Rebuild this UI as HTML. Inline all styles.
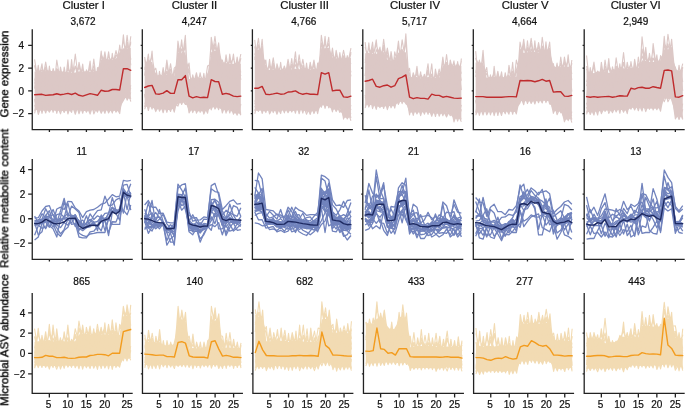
<!DOCTYPE html>
<html><head><meta charset="utf-8"><style>
html,body{margin:0;padding:0;background:#fff;}
body{width:685px;height:408px;overflow:hidden;}
svg{display:block;}
text{will-change:transform;}
</style></head><body>
<svg width="685" height="408" viewBox="0 0 685 408">
<path d="M34.6 71.48 L38.3 72.07 L42 71.86 L45.7 71 L49.4 70.97 L53.1 71.03 L56.8 71.66 L60.5 71.12 L64.2 72.03 L67.9 71.94 L71.6 72.66 L75.3 72.45 L79 71.16 L82.7 71.46 L86.4 71.23 L90.1 72.05 L93.8 71.89 L97.5 71.01 L101.2 59.62 L104.9 58.97 L108.6 59.22 L112.3 59.83 L116 58.84 L119.7 52.35 L123.4 48.21 L127.1 48.66 L130.8 47.65 L130.8 99.16 L127.1 98.01 L123.4 98.32 L119.7 111.38 L116 110.83 L112.3 111.06 L108.6 110.34 L104.9 110.85 L101.2 110.57 L97.5 110.17 L93.8 109.91 L90.1 110.47 L86.4 110.85 L82.7 111.27 L79 110.01 L75.3 110.32 L71.6 109.88 L67.9 110.51 L64.2 111.51 L60.5 110.2 L56.8 111.29 L53.1 109.96 L49.4 110.58 L45.7 110.71 L42 110.46 L38.3 109.93 L34.6 110.07 Z" fill="#dcc8c6"/>
<path d="M34.6 59.3 L38.3 82.54 M34.6 66.39 L38.3 75.01 M34.6 65.19 L38.3 84.44 M34.6 113.43 L38.3 98.25 M34.6 111.13 L38.3 100.05 M34.6 111.69 L38.3 101.2 M34.6 88.62 L38.3 65.2 L42 96.3 M34.6 80.66 L38.3 67.28 L42 83.13 M34.6 83.62 L38.3 70.34 L42 82.91 M34.6 98.78 L38.3 114.48 L42 104.15 M34.6 100.31 L38.3 111.27 L42 106.77 M34.6 105.32 L38.3 111.42 L42 105.83 M38.3 80.68 L42 63.7 L45.7 94.86 M38.3 77.72 L42 69.78 L45.7 79.58 M38.3 75.55 L42 66.59 L45.7 80.34 M38.3 98.17 L42 113.37 L45.7 98.81 M38.3 104.22 L42 112.23 L45.7 102.85 M38.3 98.16 L42 111.22 L45.7 97.42 M42 82.52 L45.7 62 L49.4 83.02 M42 77.53 L45.7 68.86 L49.4 80.8 M42 77.92 L45.7 67 L49.4 74.55 M42 103.31 L45.7 113.05 L49.4 101.34 M42 100.1 L45.7 112.41 L49.4 101.85 M42 100.24 L45.7 111.74 L49.4 106.46 M45.7 97.49 L49.4 66 L53.1 95.1 M45.7 84.87 L49.4 68.03 L53.1 79.6 M45.7 75.85 L49.4 69.47 L53.1 82.75 M45.7 106.33 L49.4 112.16 L53.1 104.91 M45.7 103.6 L49.4 110.82 L53.1 106.47 M45.7 105.49 L49.4 110.5 L53.1 105.99 M49.4 86.77 L53.1 68.5 L56.8 80.01 M49.4 82.48 L53.1 69.61 L56.8 76.43 M49.4 79.02 L53.1 70.63 L56.8 79.23 M49.4 98.51 L53.1 112.31 L56.8 97.07 M49.4 102.16 L53.1 111.43 L56.8 106.14 M49.4 103.57 L53.1 110.7 L56.8 104.35 M53.1 96.08 L56.8 60 L60.5 82.73 M53.1 86.86 L56.8 69.63 L60.5 81.37 M53.1 81.56 L56.8 68.85 L60.5 74.85 M53.1 97.21 L56.8 113.32 L60.5 98.37 M53.1 104.39 L56.8 111.89 L60.5 103.33 M53.1 99.28 L56.8 110.83 L60.5 101.67 M56.8 95.08 L60.5 67 L64.2 86.09 M56.8 85.05 L60.5 70.27 L64.2 87.3 M56.8 84.98 L60.5 68.71 L64.2 85.14 M56.8 104.73 L60.5 113.85 L64.2 101.82 M56.8 106.71 L60.5 111.21 L64.2 106.72 M56.8 104.41 L60.5 111.06 L64.2 100.07 M60.5 98.63 L64.2 67 L67.9 88.44 M60.5 87.34 L64.2 68.51 L67.9 86.92 M60.5 77.37 L64.2 69.92 L67.9 77.45 M60.5 104.96 L64.2 112.49 L67.9 100.76 M60.5 98.6 L64.2 112.3 L67.9 102.21 M60.5 99 L64.2 111.81 L67.9 106.15 M64.2 92.71 L67.9 59.7 L71.6 97.7 M64.2 84.25 L67.9 64.65 L71.6 80.71 M64.2 84.76 L67.9 68.57 L71.6 78.82 M64.2 97.28 L67.9 114 L71.6 103.04 M64.2 97.53 L67.9 111.3 L71.6 99.75 M64.2 105.73 L67.9 110.84 L71.6 105.49 M67.9 97.6 L71.6 59.6 L75.3 95.63 M67.9 85.24 L71.6 68.76 L75.3 87.24 M67.9 79.06 L71.6 65.41 L75.3 81.63 M67.9 106.86 L71.6 112.33 L75.3 97.29 M67.9 101.73 L71.6 111.8 L75.3 97.66 M67.9 98.28 L71.6 111.37 L75.3 98.74 M71.6 83.72 L75.3 54 L79 84.54 M71.6 77.63 L75.3 66.06 L79 82.12 M71.6 79.95 L75.3 66.38 L79 76.2 M71.6 103.46 L75.3 114.28 L79 102.42 M71.6 97.96 L75.3 111.67 L79 102.79 M71.6 101.98 L75.3 112.34 L79 101.68 M75.3 89.97 L79 62.2 L82.7 79.87 M75.3 76.88 L79 67.85 L82.7 74.55 M75.3 76.74 L79 66.02 L82.7 80.66 M75.3 101.44 L79 113.81 L82.7 103.74 M75.3 101.45 L79 111.54 L82.7 99.16 M75.3 101.4 L79 110.71 L82.7 104.52 M79 85.04 L82.7 64 L86.4 94.95 M79 81.8 L82.7 68.28 L86.4 84.38 M79 80.26 L82.7 66.61 L86.4 82.46 M79 101.88 L82.7 113.26 L86.4 100.07 M79 101.67 L82.7 111.4 L86.4 102.22 M79 100.01 L82.7 112.38 L86.4 98.23 M82.7 98.34 L86.4 69.7 L90.1 84.69 M82.7 86.76 L86.4 70.58 L90.1 85.42 M82.7 76.08 L86.4 71.05 L90.1 80.25 M82.7 104.59 L86.4 112.18 L90.1 106.27 M82.7 99.16 L86.4 111.84 L90.1 98.03 M82.7 99.84 L86.4 110.81 L90.1 100.4 M86.4 82.36 L90.1 61 L93.8 97.16 M86.4 77.35 L90.1 64.34 L93.8 86.88 M86.4 80.83 L90.1 67.63 L93.8 87.37 M86.4 105.39 L90.1 114.08 L93.8 102.68 M86.4 103.61 L90.1 111.53 L93.8 105.04 M86.4 99.78 L90.1 111.14 L93.8 106.81 M90.1 90.58 L93.8 59 L97.5 88.31 M90.1 78.81 L93.8 69.5 L97.5 82.61 M90.1 75.34 L93.8 66.1 L97.5 87.31 M90.1 97.28 L93.8 113.97 L97.5 105.95 M90.1 106.6 L93.8 111.03 L97.5 99.21 M90.1 105.7 L93.8 111.04 L97.5 102.78 M93.8 97.73 L97.5 67.5 L101.2 83.38 M93.8 76.44 L97.5 70.33 L101.2 73.95 M93.8 83.61 L97.5 69.64 L101.2 63.16 M93.8 100.12 L97.5 112.14 L101.2 102.75 M93.8 97.62 L97.5 110.64 L101.2 100.66 M93.8 106.16 L97.5 112.1 L101.2 98.44 M97.5 80.83 L101.2 51 L104.9 84.26 M97.5 78.91 L101.2 55.8 L104.9 69.19 M97.5 77.98 L101.2 53.72 L104.9 63.68 M97.5 104.62 L101.2 113.32 L104.9 105.91 M97.5 106.5 L101.2 110.82 L104.9 104.98 M97.5 103.95 L101.2 111.12 L104.9 99.41 M101.2 72.8 L104.9 51.8 L108.6 77 M101.2 66.51 L104.9 57.22 L108.6 62.24 M101.2 62.2 L104.9 56.93 L108.6 71.53 M101.2 105.11 L104.9 113.38 L108.6 102.25 M101.2 105.94 L104.9 112.37 L108.6 98.81 M101.2 102.05 L104.9 111.36 L108.6 98.65 M104.9 74.86 L108.6 51.8 L112.3 77.13 M104.9 74.77 L108.6 55.2 L112.3 66.46 M104.9 71.19 L108.6 54.62 L112.3 70.27 M104.9 103.52 L108.6 113.01 L112.3 106.46 M104.9 106.29 L108.6 110.76 L112.3 99.59 M104.9 105.37 L108.6 111.01 L112.3 106.16 M108.6 83.83 L112.3 53.3 L116 84.41 M108.6 65.67 L112.3 56.04 L116 65.15 M108.6 67.97 L112.3 57.23 L116 64.05 M108.6 104.37 L112.3 113.11 L116 97.38 M108.6 101.53 L112.3 112.45 L116 104.56 M108.6 103.9 L112.3 112.43 L116 103.43 M112.3 67.02 L116 50.6 L119.7 67.63 M112.3 68.54 L116 55.55 L119.7 57.61 M112.3 62.06 L116 55.41 L119.7 58.43 M112.3 103 L116 112.22 L119.7 106.58 M112.3 103.96 L116 110.54 L119.7 104.67 M112.3 101.71 L116 111.67 L119.7 99.49 M116 80.15 L119.7 45.1 L123.4 69.82 M116 67.06 L119.7 47.63 L123.4 54.74 M116 63.94 L119.7 47.23 L123.4 59.91 M116 106.56 L119.7 113.61 L123.4 86.65 M116 100.73 L119.7 112.28 L123.4 87.66 M116 105.61 L119.7 112.12 L123.4 89.76 M119.7 70.09 L123.4 34.7 L127.1 72.2 M119.7 65.74 L123.4 39.92 L127.1 58.09 M119.7 63.88 L123.4 39.29 L127.1 59.51 M119.7 106.69 L123.4 100.57 L127.1 93.67 M119.7 105.95 L123.4 99.22 L127.1 86.64 M119.7 100.72 L123.4 99.62 L127.1 88.74 M123.4 69.11 L127.1 35.4 L130.8 65.29 M123.4 60.87 L127.1 45.66 L130.8 60.23 M123.4 57.46 L127.1 42.34 L130.8 59.07 M123.4 87.63 L127.1 100.17 L130.8 92.48 M123.4 92.34 L127.1 98.65 L130.8 87.71 M123.4 87.6 L127.1 98.91 L130.8 85.24 M127.1 65.38 L130.8 36.2 M127.1 56.73 L130.8 43.43 M127.1 60.47 L130.8 41.56 M127.1 88.57 L130.8 101.54 M127.1 93.53 L130.8 98.65 M127.1 87.57 L130.8 99.01" fill="none" stroke="#dcc8c6" stroke-width="1.1" stroke-linejoin="round"/>
<path d="M34.6 94.7 L38.3 94.5 L42 94.3 L45.7 95.4 L49.4 95 L53.1 94.7 L56.8 93.7 L60.5 94.7 L64.2 94.1 L67.9 93.4 L71.6 94.5 L75.3 93.2 L79 95.3 L82.7 96.1 L86.4 94.8 L90.1 93.6 L93.8 94.4 L97.5 95.3 L101.2 90.2 L104.9 91.2 L108.6 91 L112.3 89.5 L116 89.5 L119.7 90 L123.4 68.7 L127.1 68.7 L130.8 70.3" fill="none" stroke="#bf2b2d" stroke-width="1.4" stroke-linejoin="round" stroke-linecap="round"/>
<path d="M144.65 61.95 L148.35 61.42 L152.05 61.88 L155.75 75.65 L159.45 74.92 L163.15 75.24 L166.85 74.61 L170.55 74.76 L174.25 76.09 L177.95 52.23 L181.65 53.14 L185.35 51.88 L189.05 79.1 L192.75 78.45 L196.45 78.34 L200.15 77.64 L203.85 78.32 L207.55 78.67 L211.25 52.02 L214.95 50.44 L218.65 51.29 L222.35 62.94 L226.05 63.02 L229.75 63.91 L233.45 63.75 L237.15 62.62 L240.85 63.68 L240.85 113.42 L237.15 113.47 L233.45 113.31 L229.75 109.8 L226.05 110.37 L222.35 110.05 L218.65 107.61 L214.95 106.81 L211.25 107.68 L207.55 110.22 L203.85 111.4 L200.15 111.28 L196.45 111.51 L192.75 110.06 L189.05 110.18 L185.35 102.18 L181.65 102.61 L177.95 103.28 L174.25 108.33 L170.55 110.06 L166.85 109.91 L163.15 109.14 L159.45 109.23 L155.75 109.52 L152.05 107.31 L148.35 106.21 L144.65 107.12 Z" fill="#dcc8c6"/>
<path d="M144.65 57 L148.35 75.8 M144.65 60.23 L148.35 70.11 M144.65 58.5 L148.35 72.66 M144.65 109.2 L148.35 99.02 M144.65 107.35 L148.35 102.82 M144.65 107 L148.35 94.95 M144.65 75.71 L148.35 54 L152.05 88.71 M144.65 68.45 L148.35 59.7 L152.05 71.64 M144.65 69.85 L148.35 59.96 L152.05 77.43 M144.65 95.18 L148.35 110.51 L152.05 96.99 M144.65 93.89 L148.35 108.63 L152.05 97.81 M144.65 102.81 L148.35 108.24 L152.05 95.98 M148.35 79.02 L152.05 51.1 L155.75 98.05 M148.35 68.72 L152.05 56.5 L155.75 78.64 M148.35 66.66 L152.05 54.81 L155.75 84.14 M148.35 100.32 L152.05 109.16 L155.75 98.11 M148.35 100.7 L152.05 108.75 L155.75 98.94 M148.35 97.73 L152.05 107.4 L155.75 101.56 M152.05 73.35 L155.75 68.2 L159.45 86.23 M152.05 76.78 L155.75 73.2 L159.45 84.46 M152.05 76.78 L155.75 73.16 L159.45 90.95 M152.05 101.9 L155.75 111.62 L159.45 103.58 M152.05 99.88 L155.75 109.18 L159.45 104.59 M152.05 100.72 L155.75 109.48 L159.45 99.8 M155.75 100.75 L159.45 71.2 L163.15 97.99 M155.75 83.38 L159.45 73.57 L163.15 84.81 M155.75 82.4 L159.45 73.64 L163.15 78.81 M155.75 95.82 L159.45 111.19 L163.15 104.24 M155.75 99.2 L159.45 110.01 L163.15 96.87 M155.75 102.79 L159.45 109.43 L163.15 103.02 M159.45 91 L163.15 67.5 L166.85 91.92 M159.45 89.03 L163.15 69.94 L166.85 89.35 M159.45 78.42 L163.15 73.79 L166.85 87.22 M159.45 100.77 L163.15 112.74 L166.85 99.63 M159.45 101.58 L163.15 109 L166.85 96.23 M159.45 96.95 L163.15 110.65 L166.85 95.78 M163.15 87.97 L166.85 60 L170.55 85.18 M163.15 84.79 L166.85 71.48 L170.55 86.87 M163.15 87.38 L166.85 64.98 L170.55 86.42 M163.15 100.93 L166.85 112.41 L170.55 99.98 M163.15 97.68 L166.85 109.08 L170.55 103.17 M163.15 99.04 L166.85 110.84 L170.55 102.46 M166.85 85.56 L170.55 63.7 L174.25 88.04 M166.85 87.08 L170.55 69.35 L174.25 79.46 M166.85 84.82 L170.55 72.87 L174.25 85.58 M166.85 103.26 L170.55 111.47 L174.25 99.49 M166.85 102.48 L170.55 109.02 L174.25 100.89 M166.85 99.05 L170.55 110.92 L174.25 96.66 M170.55 92.51 L174.25 68.2 L177.95 64.7 M170.55 90.49 L174.25 73.06 L177.95 64.16 M170.55 78.28 L174.25 72.83 L177.95 61.48 M170.55 101.3 L174.25 112.19 L177.95 96.43 M170.55 96.25 L174.25 110.33 L177.95 96.73 M170.55 102.12 L174.25 109.07 L177.95 94.79 M174.25 96.65 L177.95 41.1 L181.65 63.96 M174.25 87.61 L177.95 45.59 L181.65 61.56 M174.25 90.61 L177.95 49.13 L181.65 59.05 M174.25 103.19 L177.95 106.05 L181.65 96.79 M174.25 102.55 L177.95 104.02 L181.65 89.48 M174.25 103.63 L177.95 103.49 L181.65 96.77 M177.95 68.34 L181.65 39.9 L185.35 73.31 M177.95 56.9 L181.65 43.87 L185.35 60.11 M177.95 67.66 L181.65 48.77 L185.35 56.84 M177.95 98.4 L181.65 104.13 L185.35 95.07 M177.95 90.16 L181.65 104.3 L185.35 91.67 M177.95 89.68 L181.65 104.5 L185.35 95.71 M181.65 63.71 L185.35 35.4 L189.05 104.72 M181.65 55.41 L185.35 42.7 L189.05 89.64 M181.65 59.86 L185.35 46.05 L189.05 85.31 M181.65 98.97 L185.35 104.42 L189.05 104.2 M181.65 89.44 L185.35 103.2 L189.05 105.76 M181.65 96.93 L185.35 104.43 L189.05 103.43 M185.35 76.43 L189.05 63 L192.75 102.44 M185.35 55.64 L189.05 72.18 L192.75 87.16 M185.35 66.95 L189.05 72.68 L192.75 83.51 M185.35 90.03 L189.05 112.91 L192.75 106.7 M185.35 90.88 L189.05 111.32 L192.75 99.33 M185.35 98.65 L189.05 110.58 L192.75 106.37 M189.05 104.4 L192.75 74.9 L196.45 91.14 M189.05 92.68 L192.75 76.26 L196.45 85.41 M189.05 93.45 L192.75 77.07 L196.45 89.02 M189.05 99.83 L192.75 112.66 L196.45 103.84 M189.05 106.96 L192.75 111.05 L196.45 99.44 M189.05 100.66 L192.75 112.33 L196.45 97.57 M192.75 86.49 L196.45 72.7 L200.15 90.68 M192.75 93.44 L196.45 75.82 L200.15 93.4 M192.75 84.26 L196.45 76.08 L200.15 86.59 M192.75 97.72 L196.45 113.23 L200.15 105.17 M192.75 99.62 L196.45 112.11 L200.15 98.77 M192.75 100.93 L196.45 112.05 L200.15 103.72 M196.45 92.39 L200.15 72.7 L203.85 93.24 M196.45 82.03 L200.15 74.92 L203.85 83.57 M196.45 84.21 L200.15 75.01 L203.85 81.84 M196.45 101.47 L200.15 112.08 L203.85 103.74 M196.45 98.17 L200.15 112.46 L203.85 97.12 M196.45 106.16 L200.15 111.03 L203.85 106.04 M200.15 95.97 L203.85 73.4 L207.55 100.2 M200.15 84.04 L203.85 76.18 L207.55 86.42 M200.15 89.76 L203.85 75.74 L207.55 90.72 M200.15 100.36 L203.85 114.12 L207.55 105.79 M200.15 104.06 L203.85 112.18 L207.55 101.33 M200.15 99.62 L203.85 111.25 L207.55 105.01 M203.85 90.95 L207.55 66 L211.25 63.91 M203.85 92.49 L207.55 75.19 L211.25 61.52 M203.85 86.15 L207.55 74.05 L211.25 66.9 M203.85 104.69 L207.55 113.27 L211.25 95.92 M203.85 97.09 L207.55 111.81 L211.25 102.98 M203.85 98.81 L207.55 111.45 L211.25 95.59 M207.55 104.29 L211.25 37.2 L214.95 59.81 M207.55 82.55 L211.25 46.7 L214.95 56.46 M207.55 88.58 L211.25 41.55 L214.95 66.09 M207.55 98.34 L211.25 109.93 L214.95 99.51 M207.55 99.22 L211.25 108.02 L214.95 94.54 M207.55 101.04 L211.25 107.71 L214.95 97.8 M211.25 63.35 L214.95 36.2 L218.65 66.37 M211.25 56.65 L214.95 47.63 L218.65 57.31 M211.25 62.47 L214.95 43.9 L218.65 56.64 M211.25 100.73 L214.95 109.03 L218.65 97.22 M211.25 100.88 L214.95 107.87 L218.65 101.97 M211.25 98.52 L214.95 109.09 L218.65 103.37 M214.95 61.03 L218.65 42.9 L222.35 78.91 M214.95 62.31 L218.65 47.33 L222.35 67.18 M214.95 63.04 L218.65 49.06 L222.35 71.33 M214.95 100.92 L218.65 109.71 L222.35 97.47 M214.95 98.33 L218.65 108.12 L222.35 103.43 M214.95 95.36 L218.65 108.33 L222.35 97.03 M218.65 66.28 L222.35 60 L226.05 74.94 M218.65 56.65 L222.35 61.35 L226.05 66.08 M218.65 59.51 L222.35 61.06 L226.05 76.66 M218.65 95.17 L222.35 113.02 L226.05 102.39 M218.65 103.85 L222.35 110.83 L226.05 101.48 M218.65 94.9 L222.35 111.78 L226.05 106.11 M222.35 83.44 L226.05 54.8 L229.75 78.42 M222.35 67.9 L226.05 59.49 L229.75 69.68 M222.35 78.03 L226.05 59.42 L229.75 67.41 M222.35 98.95 L226.05 113.23 L229.75 97.33 M222.35 105.73 L226.05 110.89 L229.75 97.57 M222.35 102.17 L226.05 112.45 L229.75 106.47 M226.05 89.52 L229.75 54 L233.45 78.76 M226.05 74.06 L229.75 57.17 L233.45 76.72 M226.05 76.22 L229.75 60.86 L233.45 68.89 M226.05 98.54 L229.75 113.01 L233.45 100.71 M226.05 104.82 L229.75 110.87 L233.45 105 M226.05 103.16 L229.75 111.54 L233.45 107.77 M229.75 75.94 L233.45 54 L237.15 85.5 M229.75 66.53 L233.45 57.21 L237.15 73.31 M229.75 66.5 L233.45 57.9 L237.15 76.9 M229.75 101 L233.45 114.29 L237.15 103.5 M229.75 103.94 L233.45 113.75 L237.15 104.8 M229.75 102.74 L233.45 113.67 L237.15 102.41 M233.45 79.94 L237.15 57 L240.85 79.77 M233.45 74.05 L237.15 62.02 L240.85 72.36 M233.45 75.93 L237.15 61.32 L240.85 76.14 M233.45 107.2 L237.15 115.15 L240.85 104.27 M233.45 107.72 L237.15 112.71 L240.85 104.69 M233.45 104.58 L237.15 112.68 L240.85 103.9 M237.15 71.82 L240.85 54 M237.15 67.07 L240.85 58.5 M237.15 76.11 L240.85 58.02 M237.15 108.46 L240.85 115.28 M237.15 105.22 L240.85 113.51 M237.15 107.64 L240.85 114.4" fill="none" stroke="#dcc8c6" stroke-width="1.1" stroke-linejoin="round"/>
<path d="M144.65 87.5 L148.35 86 L152.05 85.4 L155.75 93.9 L159.45 94.2 L163.15 93.1 L166.85 90.6 L170.55 93.4 L174.25 93.4 L177.95 79.7 L181.65 79.7 L185.35 75.6 L189.05 96.1 L192.75 97.9 L196.45 96.6 L200.15 97.6 L203.85 97.2 L207.55 97.6 L211.25 79.7 L214.95 81.5 L218.65 81.7 L222.35 94.2 L226.05 93.4 L229.75 94.3 L233.45 96.1 L237.15 96.6 L240.85 96.1" fill="none" stroke="#bf2b2d" stroke-width="1.4" stroke-linejoin="round" stroke-linecap="round"/>
<path d="M254.75 49.74 L258.45 49.52 L262.15 48.55 L265.85 69.29 L269.55 70.05 L273.25 69.82 L276.95 68.52 L280.65 69.76 L284.35 70.01 L288.05 69.87 L291.75 69.3 L295.45 68.77 L299.15 69.31 L302.85 68.47 L306.55 68.69 L310.25 69.62 L313.95 68.7 L317.65 68.61 L321.35 47.95 L325.05 48.37 L328.75 47.84 L332.45 57.39 L336.15 58.33 L339.85 58.64 L343.55 58.98 L347.25 57.85 L350.95 58 L350.95 116.82 L347.25 117.88 L343.55 117.54 L339.85 108.78 L336.15 109.01 L332.45 110.09 L328.75 106.19 L325.05 105.6 L321.35 105.25 L317.65 110.76 L313.95 111.21 L310.25 111.41 L306.55 111.49 L302.85 110.13 L299.15 110.37 L295.45 110.27 L291.75 111.46 L288.05 110.06 L284.35 110.29 L280.65 110.09 L276.95 110.43 L273.25 111.48 L269.55 110.1 L265.85 111.52 L262.15 110.87 L258.45 110.57 L254.75 110.89 Z" fill="#dcc8c6"/>
<path d="M254.75 39.9 L258.45 71.67 M254.75 47.23 L258.45 62.46 M254.75 46.22 L258.45 60.11 M254.75 113.76 L258.45 100.44 M254.75 111.13 L258.45 103.17 M254.75 109.8 L258.45 105.96 M254.75 59.79 L258.45 38.4 L262.15 69.12 M254.75 58.46 L258.45 44.77 L262.15 63.44 M254.75 54.75 L258.45 46.48 L262.15 60.29 M254.75 106.27 L258.45 111.36 L262.15 102.75 M254.75 102.73 L258.45 110.01 L262.15 104.06 M254.75 100.41 L258.45 110.97 L262.15 104.26 M258.45 69.28 L262.15 39.2 L265.85 86.5 M258.45 63.98 L262.15 46.65 L265.85 75.17 M258.45 53.05 L262.15 46.57 L265.85 80.3 M258.45 98.48 L262.15 113.48 L265.85 102.98 M258.45 106.19 L262.15 110.33 L265.85 100.55 M258.45 102.8 L262.15 110.92 L265.85 100.54 M262.15 65.68 L265.85 60 L269.55 95.74 M262.15 55.03 L265.85 64.02 L269.55 83.75 M262.15 58.71 L265.85 67.43 L269.55 77.28 M262.15 105.72 L265.85 112.59 L269.55 99.21 M262.15 100.79 L265.85 110.52 L269.55 97.59 M262.15 104.3 L265.85 110.78 L269.55 100.92 M265.85 87.14 L269.55 59.3 L273.25 89.83 M265.85 74.27 L269.55 63.21 L273.25 76.02 M265.85 72.63 L269.55 65.94 L273.25 83.56 M265.85 99.85 L269.55 113.96 L273.25 106.94 M265.85 99.55 L269.55 112.19 L273.25 102.35 M265.85 102.48 L269.55 111.98 L273.25 104.74 M269.55 79.11 L273.25 57.8 L276.95 81.65 M269.55 76.36 L273.25 67.08 L276.95 81.75 M269.55 82.99 L273.25 63.04 L276.95 81.25 M269.55 101.46 L273.25 112.66 L276.95 102.64 M269.55 101.77 L273.25 112.08 L276.95 104.35 M269.55 97.35 L273.25 111.78 L276.95 104.83 M273.25 94.6 L276.95 63.7 L280.65 77.3 M273.25 75.07 L276.95 67.45 L280.65 81.67 M273.25 81.7 L276.95 65.45 L280.65 76.25 M273.25 103.71 L276.95 114.2 L280.65 104.61 M273.25 100.69 L276.95 112.32 L280.65 100.07 M273.25 97.21 L276.95 111.83 L280.65 102.31 M276.95 93.79 L280.65 62.2 L284.35 90.95 M276.95 77.68 L280.65 64.77 L284.35 81.42 M276.95 76 L280.65 65.85 L284.35 74.76 M276.95 106.22 L280.65 113.56 L284.35 97.89 M276.95 106.73 L280.65 110.79 L284.35 105.93 M276.95 103.55 L280.65 112.36 L284.35 105.58 M280.65 77.57 L284.35 66 L288.05 77.83 M280.65 80.24 L284.35 67.41 L288.05 81.06 M280.65 72.85 L284.35 67.33 L288.05 79.68 M280.65 98.82 L284.35 112.91 L288.05 98.8 M280.65 106.34 L284.35 112.28 L288.05 98.32 M280.65 97.56 L284.35 112.33 L288.05 105.93 M284.35 81.11 L288.05 59.3 L291.75 79.24 M284.35 83.02 L288.05 67.36 L291.75 82.56 M284.35 82.73 L288.05 64.16 L291.75 80.21 M284.35 106 L288.05 112.72 L291.75 106.02 M284.35 104.95 L288.05 112.01 L291.75 103.81 M284.35 106.79 L288.05 111.35 L291.75 104.43 M288.05 82.65 L291.75 58.5 L295.45 91.32 M288.05 76.17 L291.75 65.3 L295.45 84.53 M288.05 83.07 L291.75 64.52 L295.45 80.04 M288.05 102.87 L291.75 112.08 L295.45 102.64 M288.05 103.53 L291.75 112.05 L295.45 99.95 M288.05 104.83 L291.75 111.58 L295.45 98.38 M291.75 78.82 L295.45 51.8 L299.15 93.4 M291.75 72.02 L295.45 64.81 L299.15 74.63 M291.75 84.71 L295.45 59.21 L299.15 72.06 M291.75 102.09 L295.45 113.23 L299.15 99.03 M291.75 102.05 L295.45 110.87 L299.15 103.53 M291.75 104.39 L295.45 112.16 L299.15 97.56 M295.45 82.67 L299.15 54.8 L302.85 81.29 M295.45 78.48 L299.15 61.41 L302.85 73.43 M295.45 73.05 L299.15 61.9 L302.85 82.24 M295.45 99.13 L299.15 113.74 L302.85 100.72 M295.45 102.99 L299.15 111.21 L302.85 103.05 M295.45 106.14 L299.15 112.28 L302.85 98.12 M299.15 77.5 L302.85 59.3 L306.55 81.12 M299.15 83.72 L302.85 66.14 L306.55 78.52 M299.15 83.49 L302.85 65.52 L306.55 75.04 M299.15 101.68 L302.85 113.15 L306.55 99.46 M299.15 100.54 L302.85 112.01 L306.55 103.52 M299.15 105.45 L302.85 111.15 L306.55 98.57 M302.85 90.24 L306.55 63 L310.25 91.84 M302.85 77.7 L306.55 67.54 L310.25 82.05 M302.85 73.64 L306.55 66.19 L310.25 78.01 M302.85 104.62 L306.55 114.21 L310.25 105.08 M302.85 99.97 L306.55 111.1 L310.25 98.56 M302.85 105.44 L306.55 110.81 L310.25 104.52 M306.55 83.53 L310.25 62.2 L313.95 87.44 M306.55 76.26 L310.25 67.38 L313.95 74.46 M306.55 81.47 L310.25 64.33 L313.95 73.32 M306.55 105.98 L310.25 114.41 L313.95 103.16 M306.55 99.05 L310.25 112.47 L313.95 99.67 M306.55 105.04 L310.25 111.37 L313.95 100.62 M310.25 79.14 L313.95 60 L317.65 81.13 M310.25 72.44 L313.95 65.73 L317.65 77.19 M310.25 81.01 L313.95 63.73 L317.65 78.51 M310.25 102.37 L313.95 113.58 L317.65 105.58 M310.25 102.95 L313.95 111.71 L317.65 99.59 M310.25 102.7 L313.95 112.32 L317.65 101.26 M313.95 91.98 L317.65 63 L321.35 63.82 M313.95 81.39 L317.65 67.35 L321.35 61.84 M313.95 81.1 L317.65 65.55 L321.35 61.48 M313.95 100.58 L317.65 113.7 L321.35 97.26 M313.95 100.72 L317.65 111.13 L321.35 100.82 M313.95 99.18 L317.65 111.34 L321.35 94.67 M317.65 89.59 L321.35 35.4 L325.05 60.4 M317.65 77.92 L321.35 42.8 L325.05 58.48 M317.65 80.78 L321.35 42.9 L325.05 62.49 M317.65 100.46 L321.35 107.26 L325.05 94.02 M317.65 102.1 L321.35 106.08 L325.05 92.05 M317.65 101.57 L321.35 105.38 L325.05 100.19 M321.35 71.04 L325.05 36.2 L328.75 74.21 M321.35 51.71 L325.05 42.52 L328.75 57.87 M321.35 59.72 L325.05 42.39 L328.75 57.06 M321.35 93.51 L325.05 108.4 L328.75 96.58 M321.35 92.32 L325.05 106.12 L328.75 99.7 M321.35 97.88 L325.05 106.67 L328.75 94.17 M325.05 57.85 L328.75 37.2 L332.45 85.49 M325.05 51.14 L328.75 43.88 L332.45 64.37 M325.05 50.57 L328.75 43.63 L332.45 66.24 M325.05 94.82 L328.75 107.85 L332.45 101.98 M325.05 99.56 L328.75 105.83 L332.45 98.09 M325.05 96.53 L328.75 107.18 L332.45 103.31 M328.75 71.43 L332.45 48.1 L336.15 73.64 M328.75 52.08 L332.45 55.21 L336.15 70.9 M328.75 58.65 L332.45 52.03 L336.15 66.9 M328.75 99.54 L332.45 111.91 L336.15 95.86 M328.75 95.41 L332.45 109.71 L336.15 97.31 M328.75 97.12 L332.45 110.63 L336.15 102.56 M332.45 76.77 L336.15 50.3 L339.85 68.3 M332.45 65.41 L336.15 53.24 L339.85 71.86 M332.45 65.69 L336.15 55.57 L339.85 64.1 M332.45 103.64 L336.15 111.57 L339.85 105.47 M332.45 102.69 L336.15 110.44 L339.85 103.05 M332.45 100.7 L336.15 109.6 L339.85 101.22 M336.15 78.55 L339.85 52.6 L343.55 78.99 M336.15 72.87 L339.85 55.98 L343.55 71.91 M336.15 71.56 L339.85 56.86 L343.55 72.58 M336.15 104.1 L339.85 112.46 L343.55 105.39 M336.15 105.35 L339.85 110.27 L343.55 113.59 M336.15 98.94 L339.85 110.9 L343.55 111.2 M339.85 67.83 L343.55 50.3 L347.25 68.65 M339.85 70.89 L343.55 55.71 L347.25 65.3 M339.85 72.55 L343.55 56.05 L347.25 71.09 M339.85 96.59 L343.55 119.12 L347.25 107.62 M339.85 98.82 L343.55 118.76 L347.25 104.76 M339.85 97.11 L343.55 118.78 L347.25 111.73 M343.55 79.66 L347.25 55.5 L350.95 76.42 M343.55 66.5 L347.25 56.52 L350.95 72.27 M343.55 64.24 L347.25 56.75 L350.95 63.84 M343.55 108.77 L347.25 119.05 L350.95 113.12 M343.55 112.26 L347.25 118.13 L350.95 108.79 M343.55 108.3 L347.25 118.2 L350.95 105.07 M347.25 65.93 L350.95 48.1 M347.25 66.88 L350.95 51.86 M347.25 69.45 L350.95 53.34 M347.25 109.95 L350.95 120.8 M347.25 104.09 L350.95 118.04 M347.25 107.33 L350.95 117.35" fill="none" stroke="#dcc8c6" stroke-width="1.1" stroke-linejoin="round"/>
<path d="M254.75 88.2 L258.45 88.2 L262.15 86.4 L265.85 94.2 L269.55 94.6 L273.25 93.9 L276.95 93.1 L280.65 94.2 L284.35 93.9 L288.05 92 L291.75 91.7 L295.45 90.9 L299.15 93.1 L302.85 94.3 L306.55 93.4 L310.25 94.3 L313.95 94.2 L317.65 94.6 L321.35 72.7 L325.05 74.2 L328.75 72.7 L332.45 90.9 L336.15 90.2 L339.85 90.2 L343.55 96.9 L347.25 97.3 L350.95 96.1" fill="none" stroke="#bf2b2d" stroke-width="1.4" stroke-linejoin="round" stroke-linecap="round"/>
<path d="M365.15 53.15 L368.85 53.1 L372.55 53.68 L376.25 53.77 L379.95 52.87 L383.65 52.06 L387.35 59.83 L391.05 60.25 L394.75 59.55 L398.45 52.59 L402.15 51.98 L405.85 52.2 L409.55 76.93 L413.25 77.13 L416.95 76.89 L420.65 78.15 L424.35 77.83 L428.05 76.97 L431.75 77.46 L435.45 77.81 L439.15 77.7 L442.85 65.58 L446.55 65.14 L450.25 64.94 L453.95 65.7 L457.65 66.02 L461.35 65.7 L461.35 118.51 L457.65 119.04 L453.95 118.58 L450.25 114.46 L446.55 112.81 L442.85 112.89 L439.15 114.39 L435.45 112.87 L431.75 113.94 L428.05 111.84 L424.35 111.9 L420.65 112.48 L416.95 112.21 L413.25 112.21 L409.55 112.79 L405.85 102.49 L402.15 101.76 L398.45 101.38 L394.75 106.35 L391.05 106.06 L387.35 106.01 L383.65 106.69 L379.95 107.02 L376.25 106.32 L372.55 104.69 L368.85 105.33 L365.15 104.15 Z" fill="#dcc8c6"/>
<path d="M365.15 42.1 L368.85 73.14 M365.15 47 L368.85 63.35 M365.15 47.09 L368.85 58.36 M365.15 107.97 L368.85 96.72 M365.15 106.33 L368.85 100.29 M365.15 105.16 L368.85 100.93 M365.15 76.09 L368.85 42.9 L372.55 78.88 M365.15 60.4 L368.85 47.65 L372.55 66.29 M365.15 62.91 L368.85 46.95 L372.55 58.95 M365.15 97.08 L368.85 107.06 L372.55 98.12 M365.15 94.88 L368.85 105.66 L372.55 91.96 M365.15 95.62 L368.85 104.91 L372.55 100.91 M368.85 62.98 L372.55 42.1 L376.25 76.81 M368.85 67.54 L372.55 47.7 L376.25 61.4 M368.85 60.63 L372.55 50.94 L376.25 63.3 M368.85 91.49 L372.55 108.64 L376.25 97.85 M368.85 100.28 L372.55 105.62 L376.25 96.15 M368.85 99.78 L372.55 105.22 L376.25 102.44 M372.55 60.7 L376.25 39.9 L379.95 74.28 M372.55 68.16 L376.25 49.85 L379.95 56.75 M372.55 57.28 L376.25 44.62 L379.95 55.83 M372.55 98.88 L376.25 109.4 L379.95 95.26 M372.55 100.8 L376.25 106.47 L379.95 94.86 M372.55 92.75 L376.25 107.53 L379.95 95.3 M376.25 62.29 L379.95 47.1 L383.65 73.17 M376.25 61.59 L379.95 49.63 L383.65 67.72 M376.25 68.14 L379.95 51.01 L383.65 64.92 M376.25 102.45 L379.95 107.63 L383.65 96.09 M376.25 101.8 L379.95 107.73 L383.65 99.49 M376.25 100.94 L379.95 107.56 L383.65 93.99 M379.95 70.33 L383.65 39.2 L387.35 68.5 M379.95 63.07 L383.65 47.88 L387.35 68 M379.95 57.48 L383.65 45.6 L387.35 72.67 M379.95 96.15 L383.65 108.51 L387.35 96.3 M379.95 98.74 L383.65 106.94 L387.35 94.74 M379.95 94.75 L383.65 107.99 L387.35 96.93 M383.65 66.45 L387.35 48.1 L391.05 68.51 M383.65 64.74 L387.35 51.62 L391.05 73.06 M383.65 63.48 L387.35 55.57 L391.05 75.01 M383.65 96.59 L387.35 109.68 L391.05 99.51 M383.65 93.72 L387.35 106.96 L391.05 98.83 M383.65 96.58 L387.35 107.47 L391.05 93.64 M387.35 83.45 L391.05 51.5 L394.75 72.97 M387.35 65.72 L391.05 58.12 L394.75 67.79 M387.35 72.91 L391.05 55.61 L394.75 73.84 M387.35 94.27 L391.05 107.71 L394.75 94.48 M387.35 96.88 L391.05 107.83 L394.75 99.86 M387.35 94.53 L391.05 107.8 L394.75 95.75 M391.05 85.57 L394.75 51.8 L398.45 66.74 M391.05 69.5 L394.75 57.82 L398.45 65.17 M391.05 72.05 L394.75 57.35 L398.45 66.91 M391.05 96.53 L394.75 108.19 L398.45 91.42 M391.05 100.53 L394.75 107.03 L398.45 95.65 M391.05 94.68 L394.75 107.6 L398.45 93.6 M394.75 69.05 L398.45 41.1 L402.15 75.93 M394.75 65.33 L398.45 45.65 L402.15 62.33 M394.75 73.81 L398.45 44.92 L402.15 61.58 M394.75 96.71 L398.45 104.39 L402.15 96.31 M394.75 100.79 L398.45 102.08 L402.15 91.19 M394.75 96.96 L398.45 102.43 L402.15 94.18 M398.45 70.14 L402.15 39.9 L405.85 62.78 M398.45 67.76 L402.15 49.72 L405.85 59.66 M398.45 63.03 L402.15 49.32 L405.85 65.04 M398.45 92.23 L402.15 103.59 L405.85 94.75 M398.45 97.99 L402.15 102.74 L405.85 97.86 M398.45 89.54 L402.15 103.68 L405.85 93.34 M402.15 71.14 L405.85 33.7 L409.55 90.23 M402.15 60.34 L405.85 41.33 L409.55 92.3 M402.15 65.44 L405.85 41.45 L409.55 92.53 M402.15 97.82 L405.85 103.83 L409.55 106.49 M402.15 97.36 L405.85 102.06 L409.55 107.99 M402.15 89.49 L405.85 102.81 L409.55 103.92 M405.85 78.74 L409.55 68.2 L413.25 103.2 M405.85 62.57 L409.55 75.37 L413.25 85.17 M405.85 67.27 L409.55 75.1 L413.25 83.34 M405.85 91.79 L409.55 114.91 L413.25 98.94 M405.85 94.27 L409.55 113.34 L413.25 104.02 M405.85 88.54 L409.55 112.32 L413.25 98.58 M409.55 89.43 L413.25 72.7 L416.95 85.77 M409.55 84.58 L413.25 75.75 L416.95 91.74 M409.55 90.88 L413.25 74.22 L416.95 80.61 M409.55 101.4 L413.25 115.47 L416.95 102.03 M409.55 107.94 L413.25 113.97 L416.95 107.05 M409.55 99.11 L413.25 113.51 L416.95 101.73 M413.25 90.98 L416.95 66.4 L420.65 96.83 M413.25 81.37 L416.95 70.99 L420.65 84.21 M413.25 81.61 L416.95 73.91 L420.65 86.26 M413.25 106.12 L416.95 113.92 L420.65 107.07 M413.25 108.37 L416.95 113.36 L420.65 101.33 M413.25 108.14 L416.95 112.39 L420.65 99.22 M416.95 89.41 L420.65 71.9 L424.35 103.68 M416.95 91.55 L420.65 73.8 L424.35 81.82 M416.95 81.26 L420.65 74.98 L424.35 92.07 M416.95 102.22 L420.65 115.61 L424.35 103.98 M416.95 100.27 L420.65 112.68 L424.35 103.72 M416.95 107.07 L420.65 113.26 L424.35 106.28 M420.65 86.13 L424.35 74.2 L428.05 99.27 M420.65 81.88 L424.35 75.73 L428.05 91.32 M420.65 85.35 L424.35 76.17 L428.05 82.02 M420.65 100.1 L424.35 114.18 L428.05 105.15 M420.65 103.59 L424.35 112.34 L428.05 105.32 M420.65 107.36 L424.35 113.81 L428.05 98.71 M424.35 86.14 L428.05 63.7 L431.75 102.9 M424.35 82.75 L428.05 70.12 L431.75 86.21 M424.35 83.35 L428.05 72.91 L431.75 82.62 M424.35 98.59 L428.05 114.41 L431.75 100.02 M424.35 107.52 L428.05 113.85 L431.75 107.11 M424.35 107.93 L428.05 113.79 L431.75 102.74 M428.05 90.87 L431.75 63.7 L435.45 104.57 M428.05 90.49 L431.75 74.89 L435.45 84.43 M428.05 80.02 L431.75 73.98 L435.45 90.82 M428.05 106.64 L431.75 116.32 L435.45 105.65 M428.05 106.32 L431.75 115.32 L435.45 104.29 M428.05 106.7 L431.75 113.78 L435.45 102.3 M431.75 99.23 L435.45 69 L439.15 88.93 M431.75 81.14 L435.45 75.45 L439.15 87.91 M431.75 83.56 L435.45 73.62 L439.15 82.68 M431.75 102.92 L435.45 116.53 L439.15 101.88 M431.75 107.98 L435.45 114.67 L439.15 109.34 M431.75 105.92 L435.45 114.97 L439.15 102.78 M435.45 86.11 L439.15 69 L442.85 89.41 M435.45 90.94 L439.15 74.33 L442.85 79.44 M435.45 80.2 L439.15 73.63 L442.85 80.03 M435.45 101.28 L439.15 116.19 L442.85 107.34 M435.45 101.68 L439.15 113.87 L442.85 106.33 M435.45 106.29 L439.15 113.83 L442.85 104.05 M439.15 85.09 L442.85 57 L446.55 83.6 M439.15 86.7 L442.85 61.96 L446.55 69.77 M439.15 90.61 L442.85 60.75 L446.55 79.45 M439.15 102.89 L442.85 115.8 L446.55 106.19 M439.15 109.39 L442.85 115 L446.55 101.27 M439.15 105.05 L442.85 115.41 L446.55 104.87 M442.85 83.81 L446.55 54.5 L450.25 83.95 M442.85 80.78 L446.55 63.47 L450.25 71.11 M442.85 69.53 L446.55 62.52 L450.25 71.46 M442.85 109.7 L446.55 117.04 L450.25 109.04 M442.85 108.05 L446.55 114.9 L450.25 109.82 M442.85 104.24 L446.55 114.7 L450.25 104.77 M446.55 87.25 L450.25 60 L453.95 75.26 M446.55 77.52 L450.25 61.93 L453.95 68.79 M446.55 74.62 L450.25 64.07 L453.95 74.71 M446.55 108.78 L450.25 115.7 L453.95 110.54 M446.55 104.08 L450.25 113.77 L453.95 105.99 M446.55 104.27 L450.25 113.79 L453.95 107.13 M450.25 76.49 L453.95 60.8 L457.65 89.72 M450.25 73.25 L453.95 62.27 L457.65 73.67 M450.25 75.03 L453.95 62.51 L457.65 73.34 M450.25 102.23 L453.95 121.95 L457.65 111.21 M450.25 106.65 L453.95 118.58 L457.65 110.24 M450.25 101.96 L453.95 120.06 L457.65 105.47 M453.95 89.5 L457.65 61.5 L461.35 90.15 M453.95 74.93 L457.65 64.54 L461.35 80.65 M453.95 71.44 L457.65 62.74 L461.35 73.69 M453.95 110.96 L457.65 121.18 L461.35 109.29 M453.95 110.27 L457.65 118.24 L461.35 109.55 M453.95 113.21 L457.65 118.14 L461.35 104.9 M457.65 88.73 L461.35 58.5 M457.65 76.43 L461.35 60.74 M457.65 79.7 L461.35 61.21 M457.65 114.26 L461.35 121.81 M457.65 111.94 L461.35 119.38 M457.65 111.87 L461.35 119.46" fill="none" stroke="#dcc8c6" stroke-width="1.1" stroke-linejoin="round"/>
<path d="M365.15 81.2 L368.85 80.5 L372.55 79.2 L376.25 86.4 L379.95 87.2 L383.65 85.7 L387.35 85 L391.05 87.2 L394.75 85.7 L398.45 78.6 L402.15 77.1 L405.85 74.9 L409.55 97.2 L413.25 98.7 L416.95 97.6 L420.65 98.4 L424.35 98.4 L428.05 99.1 L431.75 94.2 L435.45 95.4 L439.15 95.4 L442.85 97.2 L446.55 96.4 L450.25 97.2 L453.95 98.1 L457.65 98.4 L461.35 98.1" fill="none" stroke="#bf2b2d" stroke-width="1.4" stroke-linejoin="round" stroke-linecap="round"/>
<path d="M475.65 62.58 L479.35 62.72 L483.05 62.54 L486.75 78.11 L490.45 76.95 L494.15 76.62 L497.85 78.12 L501.55 76.88 L505.25 77.36 L508.95 76.62 L512.65 76.93 L516.35 76.92 L520.05 51.36 L523.75 52.71 L527.45 52.23 L531.15 51.56 L534.85 52.03 L538.55 52.3 L542.25 51.76 L545.95 51.6 L549.65 51.89 L553.35 66.12 L557.05 67.65 L560.75 67.1 L564.45 66.61 L568.15 66.63 L571.85 66.39 L571.85 118.12 L568.15 119.39 L564.45 119.78 L560.75 111.48 L557.05 111.03 L553.35 111.23 L549.65 101.15 L545.95 101.02 L542.25 100.54 L538.55 100.94 L534.85 101.09 L531.15 101.38 L527.45 101.27 L523.75 101.2 L520.05 101.08 L516.35 111.74 L512.65 112.03 L508.95 111.54 L505.25 111.57 L501.55 112.14 L497.85 112.22 L494.15 112.37 L490.45 112.47 L486.75 111.82 L483.05 112.08 L479.35 111.75 L475.65 112.96 Z" fill="#dcc8c6"/>
<path d="M475.65 51.1 L479.35 87.63 M475.65 57.85 L479.35 66.01 M475.65 58.17 L479.35 70.92 M475.65 115.34 L479.35 107.41 M475.65 112.45 L479.35 98.91 M475.65 113.48 L479.35 106.95 M475.65 76.94 L479.35 60 L483.05 77.25 M475.65 73.21 L479.35 61.05 L483.05 76.25 M475.65 71.93 L479.35 60.88 L483.05 74.8 M475.65 100.9 L479.35 115.36 L483.05 103.75 M475.65 101.41 L479.35 113.57 L483.05 99.35 M475.65 99.79 L479.35 112.25 L483.05 108.46 M479.35 85.51 L483.05 50.3 L486.75 96.72 M479.35 77.72 L483.05 57.16 L486.75 87.44 M479.35 75.39 L483.05 57.68 L486.75 91.35 M479.35 104.7 L483.05 115.02 L486.75 103.98 M479.35 101.27 L483.05 112.92 L486.75 105.57 M479.35 102.95 L483.05 112.78 L486.75 104.65 M483.05 76.64 L486.75 67.5 L490.45 100.74 M483.05 71.69 L486.75 71.14 L490.45 85.77 M483.05 69.15 L486.75 74.61 L490.45 81.88 M483.05 102.68 L486.75 114.94 L490.45 107.62 M483.05 105.26 L486.75 113.84 L490.45 100.07 M483.05 98.91 L486.75 113.68 L490.45 106.46 M486.75 93.53 L490.45 74.9 L494.15 103.21 M486.75 80.62 L490.45 76.67 L494.15 87.34 M486.75 91.96 L490.45 76.11 L494.15 90.06 M486.75 98.52 L490.45 114.85 L494.15 103.33 M486.75 101.65 L490.45 113.03 L494.15 104.6 M486.75 102.55 L490.45 112.72 L494.15 104.99 M490.45 103.96 L494.15 66.4 L497.85 98.53 M490.45 81.29 L494.15 72.35 L497.85 84.87 M490.45 87.3 L494.15 73.07 L497.85 87.46 M490.45 98.86 L494.15 115.7 L497.85 103.63 M490.45 102.25 L494.15 112.88 L497.85 98.54 M490.45 103.2 L494.15 112.69 L497.85 100.34 M494.15 88.41 L497.85 71.2 L501.55 91.36 M494.15 90.74 L497.85 73.01 L501.55 86.66 M494.15 91.63 L497.85 75.78 L501.55 88.97 M494.15 98.6 L497.85 115.55 L501.55 99.62 M494.15 106.94 L497.85 112.84 L501.55 105.6 M494.15 103.45 L497.85 113.02 L501.55 106.62 M497.85 88.65 L501.55 71.9 L505.25 97.6 M497.85 84.59 L501.55 74.54 L505.25 92.92 M497.85 80.55 L501.55 74.45 L505.25 85.35 M497.85 105.43 L501.55 115.47 L505.25 101.59 M497.85 105.46 L501.55 112.01 L505.25 100.08 M497.85 101.82 L501.55 113.17 L505.25 106.53 M501.55 94.96 L505.25 72.7 L508.95 96.06 M501.55 88.41 L505.25 75.73 L508.95 86.91 M501.55 87.47 L505.25 74 L508.95 85.34 M501.55 106.93 L505.25 113.8 L508.95 100.91 M501.55 107.5 L505.25 112.21 L508.95 106.79 M501.55 100.27 L505.25 113.04 L508.95 102.37 M505.25 101.13 L508.95 65.2 L512.65 86.24 M505.25 90.02 L508.95 75.15 L512.65 84.2 M505.25 84.6 L508.95 70.59 L512.65 82.2 M505.25 107.51 L508.95 114.17 L512.65 99.46 M505.25 105.01 L508.95 113.16 L512.65 104 M505.25 107.95 L508.95 112.77 L512.65 99.59 M508.95 96.65 L512.65 62.2 L516.35 104.19 M508.95 88.06 L512.65 71.2 L516.35 83.24 M508.95 92.1 L512.65 74.42 L516.35 91.11 M508.95 99.51 L512.65 114.29 L516.35 100.34 M508.95 102.47 L512.65 112.61 L516.35 98.9 M508.95 99 L512.65 112.99 L516.35 106.07 M512.65 92.8 L516.35 60 L520.05 74.17 M512.65 84.02 L516.35 72.38 L520.05 66.18 M512.65 90.31 L516.35 69.92 L520.05 57.96 M512.65 104.92 L516.35 113.93 L520.05 95.43 M512.65 105.59 L516.35 113.94 L520.05 91.68 M512.65 103.16 L516.35 112.23 L520.05 93.44 M516.35 93.06 L520.05 42.1 L523.75 61.11 M516.35 90.74 L520.05 49.69 L523.75 59.37 M516.35 82.49 L520.05 49.04 L523.75 58.49 M516.35 108.15 L520.05 102.89 L523.75 90.66 M516.35 106.94 L520.05 101.48 L523.75 90.24 M516.35 105.8 L520.05 100.99 L523.75 88.95 M520.05 62.36 L523.75 39.2 L527.45 68.67 M520.05 65.26 L523.75 44.11 L527.45 56.87 M520.05 64.19 L523.75 47.46 L527.45 59.7 M520.05 95.22 L523.75 104.7 L527.45 87.79 M520.05 95.03 L523.75 101.81 L527.45 92.77 M520.05 90.24 L523.75 101.06 L527.45 94.69 M523.75 77.79 L527.45 40.7 L531.15 71.55 M523.75 58 L527.45 47.89 L531.15 62.71 M523.75 66.14 L527.45 48.84 L531.15 56.4 M523.75 91.87 L527.45 103.58 L531.15 94.6 M523.75 93.45 L527.45 102.34 L531.15 90.72 M523.75 94.19 L527.45 101.94 L531.15 93.4 M527.45 61.52 L531.15 38.4 L534.85 63.34 M527.45 58.97 L531.15 43.52 L534.85 63.42 M527.45 62.11 L531.15 48.99 L534.85 59.5 M527.45 94.33 L531.15 103.55 L534.85 96.64 M527.45 95.04 L531.15 101.42 L534.85 96.04 M527.45 94.48 L531.15 102.23 L534.85 93.27 M531.15 77.98 L534.85 40.7 L538.55 75.3 M531.15 66 L534.85 44.75 L538.55 56.52 M531.15 55.18 L534.85 48.45 L538.55 63.64 M531.15 93.79 L534.85 103.96 L538.55 93.17 M531.15 90.31 L534.85 102.12 L538.55 94.82 M531.15 93.78 L534.85 102.49 L538.55 91.01 M534.85 63.43 L538.55 42.6 L542.25 62.1 M534.85 64.34 L538.55 45.8 L542.25 64.06 M534.85 55.32 L538.55 50.22 L542.25 56.91 M534.85 94.27 L538.55 102.8 L542.25 93.49 M534.85 94.19 L538.55 100.88 L542.25 90.92 M534.85 88.91 L538.55 101.16 L542.25 91.6 M538.55 74.13 L542.25 37.2 L545.95 64.89 M538.55 63.7 L542.25 46.12 L545.95 59.34 M538.55 65.65 L542.25 49.6 L545.95 64.89 M538.55 96.87 L542.25 103.02 L545.95 88.76 M538.55 96.83 L542.25 102.01 L545.95 94.86 M538.55 89.39 L542.25 101.02 L545.95 95.2 M542.25 78.09 L545.95 41.7 L549.65 74.79 M542.25 63.83 L545.95 49.81 L549.65 59.92 M542.25 65.57 L545.95 46.13 L549.65 58.46 M542.25 87.84 L545.95 102.52 L549.65 93.06 M542.25 90.38 L545.95 102.66 L549.65 89.91 M542.25 91.02 L545.95 102.46 L549.65 92.77 M545.95 60.89 L549.65 42.1 L553.35 88.67 M545.95 61.45 L549.65 48.06 L553.35 81.77 M545.95 64.7 L549.65 49.66 L553.35 70.27 M545.95 89.24 L549.65 104.06 L553.35 105.19 M545.95 87.61 L549.65 101.89 L553.35 101.42 M545.95 94.8 L549.65 101.89 L553.35 107.21 M549.65 66.96 L553.35 63.7 L557.05 82.93 M549.65 58.84 L553.35 65.92 L557.05 71.48 M549.65 63.51 L553.35 65.08 L557.05 72.79 M549.65 92.15 L553.35 113.4 L557.05 103.35 M549.65 93.79 L553.35 113.17 L557.05 104.81 M549.65 95.88 L553.35 113.07 L557.05 102.17 M553.35 81.37 L557.05 63 L560.75 91.01 M553.35 79.59 L557.05 65.03 L560.75 71.9 M553.35 77.48 L557.05 64.79 L560.75 75.7 M553.35 99.49 L557.05 114.72 L560.75 106.66 M553.35 104.2 L557.05 111.88 L560.75 105.74 M553.35 104.99 L557.05 111.42 L560.75 105.83 M557.05 88.73 L560.75 57 L564.45 83.66 M557.05 73.92 L560.75 64.64 L564.45 75.79 M557.05 71.89 L560.75 63.31 L564.45 70.63 M557.05 97.88 L560.75 112.83 L564.45 107.7 M557.05 100.63 L560.75 111.47 L564.45 105.4 M557.05 106.71 L560.75 112.43 L564.45 110.31 M560.75 83.38 L564.45 57 L568.15 78.5 M560.75 69.81 L564.45 62.35 L568.15 81.65 M560.75 77.86 L564.45 61.81 L568.15 81.86 M560.75 105.29 L564.45 121.83 L568.15 112.74 M560.75 107.52 L564.45 118.98 L568.15 107.46 M560.75 104.84 L564.45 120.38 L568.15 113.34 M564.45 87.46 L568.15 54.8 L571.85 91.61 M564.45 71.89 L568.15 58.85 L571.85 79.9 M564.45 79.35 L568.15 59.48 L571.85 73.95 M564.45 106.95 L568.15 120.66 L571.85 112 M564.45 109.69 L568.15 119.44 L571.85 111.51 M564.45 112.81 L568.15 120.36 L571.85 114.79 M568.15 86.04 L571.85 60 M568.15 80.36 L571.85 63.38 M568.15 81.47 L571.85 63.09 M568.15 110.26 L571.85 122.56 M568.15 113.63 L571.85 119.7 M568.15 109.39 L571.85 119.3" fill="none" stroke="#dcc8c6" stroke-width="1.1" stroke-linejoin="round"/>
<path d="M475.65 96.6 L479.35 96.6 L483.05 96.6 L486.75 97.3 L490.45 97.3 L494.15 97.2 L497.85 97.2 L501.55 97.3 L505.25 96.9 L508.95 96.6 L512.65 96.6 L516.35 96.9 L520.05 80.5 L523.75 80.8 L527.45 80.5 L531.15 80.8 L534.85 81.7 L538.55 80.8 L542.25 79.4 L545.95 81.2 L549.65 80.5 L553.35 92.1 L557.05 91.7 L560.75 91.7 L564.45 96.1 L568.15 96.4 L571.85 95.4" fill="none" stroke="#bf2b2d" stroke-width="1.4" stroke-linejoin="round" stroke-linecap="round"/>
<path d="M586.55 71.54 L590.25 71.69 L593.95 73.15 L597.65 71.47 L601.35 71.74 L605.05 71.41 L608.75 72.94 L612.45 72.17 L616.15 68.59 L619.85 68.16 L623.55 68.19 L627.25 68.89 L630.95 67.7 L634.65 68.2 L638.35 68.03 L642.05 60.35 L645.75 61.03 L649.45 61.84 L653.15 61.95 L656.85 61.32 L660.55 60.31 L664.25 49.3 L667.95 49.23 L671.65 49.07 L675.35 69.64 L679.05 70.69 L682.75 69.44 L682.75 117.52 L679.05 116.35 L675.35 116.92 L671.65 98.57 L667.95 99.12 L664.25 97.93 L660.55 108.22 L656.85 108.46 L653.15 108.73 L649.45 108.56 L645.75 108.75 L642.05 107.58 L638.35 107.35 L634.65 108.01 L630.95 107.53 L627.25 110.73 L623.55 110.3 L619.85 109.71 L616.15 110.03 L612.45 109.61 L608.75 110.52 L605.05 110.61 L601.35 110.4 L597.65 111.89 L593.95 111.26 L590.25 111.9 L586.55 112.34 Z" fill="#dcc8c6"/>
<path d="M586.55 55.5 L590.25 88.95 M586.55 68.75 L590.25 83.59 M586.55 66.15 L590.25 82.55 M586.55 114.34 L590.25 103 M586.55 112.93 L590.25 104.34 M586.55 112.03 L590.25 106.49 M586.55 97.8 L590.25 67.5 L593.95 90.96 M586.55 86.21 L590.25 71.05 L593.95 78.3 M586.55 81.9 L590.25 71.09 L593.95 78.27 M586.55 102.76 L590.25 114.52 L593.95 106.03 M586.55 107.17 L590.25 112.95 L593.95 103.17 M586.55 107.5 L590.25 112.98 L593.95 104.22 M590.25 81.47 L593.95 62 L597.65 88.79 M590.25 82.16 L593.95 65.75 L597.65 84.29 M590.25 76.49 L593.95 66.34 L597.65 87.88 M590.25 107.28 L593.95 115.1 L597.65 100 M590.25 106.59 L593.95 112.58 L597.65 98.7 M590.25 100.55 L593.95 112.93 L597.65 106.93 M593.95 95.52 L597.65 71.7 L601.35 81.15 M593.95 79.84 L597.65 71.44 L601.35 75.2 M593.95 77.77 L597.65 71.05 L601.35 78.9 M593.95 104.04 L597.65 115.07 L601.35 97.41 M593.95 99.58 L597.65 113.04 L601.35 100.67 M593.95 99.59 L597.65 113.64 L601.35 104.62 M597.65 94.91 L601.35 62.2 L605.05 86.83 M597.65 83.85 L601.35 66.41 L605.05 85.73 M597.65 79.85 L601.35 69.87 L605.05 84.58 M597.65 101.08 L601.35 113.67 L605.05 105.86 M597.65 107.3 L601.35 111.01 L605.05 100.81 M597.65 107.17 L601.35 111.41 L605.05 97.05 M601.35 93.5 L605.05 60 L608.75 85.09 M601.35 80.81 L605.05 68.93 L608.75 85.9 M601.35 76.48 L605.05 66.36 L608.75 75.27 M601.35 98.29 L605.05 111.58 L608.75 104.45 M601.35 103.4 L605.05 110.91 L608.75 99.43 M601.35 104.86 L605.05 110.56 L608.75 97.55 M605.05 90.77 L608.75 58.5 L612.45 93.79 M605.05 87.33 L608.75 63.97 L612.45 75.18 M605.05 76.96 L608.75 67.43 L612.45 81.52 M605.05 98.3 L608.75 113.48 L612.45 105.95 M605.05 98.12 L608.75 110.16 L612.45 99.5 M605.05 101.54 L608.75 110.59 L612.45 104.72 M608.75 96.9 L612.45 66.7 L616.15 83.87 M608.75 82.94 L612.45 68.66 L616.15 71.99 M608.75 77.81 L612.45 70.25 L616.15 82.62 M608.75 105.86 L612.45 112.77 L616.15 104.6 M608.75 101.62 L612.45 110.52 L616.15 100.53 M608.75 102.76 L612.45 110.58 L616.15 106.24 M612.45 91.58 L616.15 57.8 L619.85 82.68 M612.45 80.97 L616.15 66.35 L619.85 83.82 M612.45 76.9 L616.15 66.22 L619.85 79.72 M612.45 103.57 L616.15 111.98 L619.85 101.3 M612.45 100.61 L616.15 110.32 L619.85 101.02 M612.45 96.38 L616.15 111.71 L619.85 105.96 M616.15 87.21 L619.85 63.7 L623.55 91.42 M616.15 81.07 L619.85 65.29 L623.55 79.23 M616.15 75.72 L619.85 65.85 L623.55 74.66 M616.15 97.57 L619.85 113.29 L623.55 96.91 M616.15 103.26 L619.85 111.16 L623.55 98.67 M616.15 101.21 L619.85 111.28 L623.55 99.95 M619.85 83.01 L623.55 52.6 L627.25 87.01 M619.85 71.79 L623.55 62.25 L627.25 75.38 M619.85 83.85 L623.55 62.95 L627.25 77.26 M619.85 103.87 L623.55 112.22 L627.25 103.95 M619.85 104.94 L623.55 110.5 L627.25 106.23 M619.85 101.77 L623.55 111.54 L627.25 101.84 M623.55 87.37 L627.25 62.2 L630.95 82.05 M623.55 71.86 L627.25 66.59 L630.95 74.92 M623.55 80.45 L627.25 66.15 L630.95 78.17 M623.55 102.9 L627.25 113.64 L630.95 94.99 M623.55 105.5 L627.25 110.97 L630.95 102.41 M623.55 96.43 L627.25 110.96 L630.95 100.63 M627.25 91.49 L630.95 61.5 L634.65 84.57 M627.25 71.88 L630.95 63.92 L634.65 77.3 M627.25 74.59 L630.95 63.81 L634.65 74.35 M627.25 104.65 L630.95 109.26 L634.65 101.52 M627.25 104.12 L630.95 109.11 L634.65 100.2 M627.25 100.27 L630.95 108.1 L634.65 95.56 M630.95 88.96 L634.65 59.3 L638.35 79.93 M630.95 83.52 L634.65 63.18 L638.35 78.81 M630.95 81.52 L634.65 66.32 L638.35 82.38 M630.95 102.83 L634.65 110.05 L638.35 102.32 M630.95 95.45 L634.65 108.77 L638.35 97.8 M630.95 102.08 L634.65 109.55 L638.35 100.93 M634.65 90.99 L638.35 57 L642.05 81.78 M634.65 79.83 L638.35 63.9 L642.05 68.19 M634.65 76.39 L638.35 66 L642.05 64.39 M634.65 100.85 L638.35 110.77 L642.05 99.26 M634.65 101.63 L638.35 108.9 L642.05 99.57 M634.65 94.95 L638.35 107.73 L642.05 98.56 M638.35 95.75 L642.05 36.9 L645.75 69.92 M638.35 80.41 L642.05 49.14 L645.75 68.08 M638.35 73.03 L642.05 55.99 L645.75 65.65 M638.35 103.3 L642.05 111.12 L645.75 96.06 M638.35 98.81 L642.05 108.55 L645.75 98.32 M638.35 97.63 L642.05 108.81 L645.75 98.18 M642.05 75.42 L645.75 47.4 L649.45 83.62 M642.05 73.05 L645.75 56.89 L649.45 73.72 M642.05 67.82 L645.75 53.07 L649.45 73.84 M642.05 99.67 L645.75 111.64 L649.45 101.42 M642.05 94.79 L645.75 108.75 L649.45 102.88 M642.05 99.44 L645.75 107.72 L649.45 97.65 M645.75 84.28 L649.45 53.3 L653.15 76.05 M645.75 66.77 L649.45 55.59 L653.15 73.64 M645.75 64.16 L649.45 59.3 L653.15 65.54 M645.75 99.18 L649.45 109.35 L653.15 98.65 M645.75 94.8 L649.45 108.06 L653.15 100.54 M645.75 102.43 L649.45 108 L653.15 96.82 M649.45 87.23 L653.15 43.6 L656.85 72.04 M649.45 73.92 L653.15 57.95 L656.85 66.95 M649.45 70.29 L653.15 48.93 L656.85 72.07 M649.45 96.19 L653.15 110.06 L656.85 99.6 M649.45 95.16 L653.15 108.35 L656.85 103.12 M649.45 103.55 L653.15 109.17 L656.85 97.75 M653.15 76.84 L656.85 54.8 L660.55 86.08 M653.15 71.13 L656.85 59.7 L660.55 69.13 M653.15 76.08 L656.85 56.87 L660.55 71.95 M653.15 101.68 L656.85 109.76 L660.55 101.58 M653.15 101.89 L656.85 108.57 L660.55 102.17 M653.15 97.77 L656.85 109.22 L660.55 101.22 M656.85 88.69 L660.55 55.5 L664.25 61.13 M656.85 65.84 L660.55 58.34 L664.25 63.02 M656.85 67.27 L660.55 57.47 L664.25 61.57 M656.85 101.37 L660.55 111.26 L664.25 91.28 M656.85 95.29 L660.55 108.67 L664.25 92.98 M656.85 98.22 L660.55 109.07 L664.25 90.07 M660.55 80.38 L664.25 36.2 L667.95 74.46 M660.55 75.29 L664.25 45.46 L667.95 56.48 M660.55 75.02 L664.25 41.51 L667.95 54.17 M660.55 94.25 L664.25 101.76 L667.95 91.62 M660.55 103.08 L664.25 98.15 L667.95 84.86 M660.55 95.08 L664.25 98.12 L667.95 93.09 M664.25 71.52 L667.95 34.3 L671.65 58.75 M664.25 60.68 L667.95 45.28 L671.65 52.97 M664.25 63.74 L667.95 43.92 L671.65 61.11 M664.25 84.8 L667.95 101.8 L671.65 94.27 M664.25 86.68 L667.95 98.57 L671.65 87.71 M664.25 89.55 L667.95 98.18 L671.65 92.28 M667.95 65.41 L671.65 39.2 L675.35 79.8 M667.95 64.68 L671.65 47.25 L675.35 76.81 M667.95 53.37 L671.65 42.72 L675.35 79.04 M667.95 90.32 L671.65 99.94 L675.35 111.71 M667.95 93.12 L671.65 99.47 L675.35 106.12 M667.95 93.48 L671.65 99.1 L675.35 109.96 M671.65 66.73 L675.35 66.7 L679.05 96.07 M671.65 54.6 L675.35 68.67 L679.05 85.28 M671.65 61.31 L675.35 67.79 L679.05 76.25 M671.65 91.95 L675.35 118.94 L679.05 112.81 M671.65 89.51 L675.35 117.09 L679.05 109.42 M671.65 90.97 L675.35 118.11 L679.05 113.39 M675.35 91.46 L679.05 65.2 L682.75 90.76 M675.35 79.83 L679.05 67.68 L682.75 81.67 M675.35 84.06 L679.05 66.59 L682.75 82.03 M675.35 110.32 L679.05 119.5 L682.75 109.31 M675.35 109.63 L679.05 118.95 L682.75 109.65 M675.35 112.07 L679.05 117.82 L682.75 103.52 M679.05 77.81 L682.75 63.7 M679.05 84.74 L682.75 66.79 M679.05 80.64 L682.75 67.96 M679.05 111.09 L682.75 119.44 M679.05 112.34 L682.75 117.4 M679.05 105.66 L682.75 118.69" fill="none" stroke="#dcc8c6" stroke-width="1.1" stroke-linejoin="round"/>
<path d="M586.55 96.6 L590.25 97.2 L593.95 96.6 L597.65 97.2 L601.35 96.9 L605.05 96.6 L608.75 96.4 L612.45 97.3 L616.15 96.6 L619.85 95.7 L623.55 96 L627.25 96.1 L630.95 88.2 L634.65 89.1 L638.35 87.6 L642.05 87.2 L645.75 88.2 L649.45 88.2 L653.15 86.7 L656.85 87.5 L660.55 88.2 L664.25 70.4 L667.95 70 L671.65 70.9 L675.35 96.9 L679.05 97.2 L682.75 95.7" fill="none" stroke="#bf2b2d" stroke-width="1.4" stroke-linejoin="round" stroke-linecap="round"/>
<path d="M34.55 341.64 L38.25 341.25 L41.95 341.16 L45.65 340.57 L49.35 340 L53.05 341.54 L56.75 341.07 L60.45 340.42 L64.15 341.34 L67.85 341.28 L71.55 340.95 L75.25 341.22 L78.95 334.53 L82.65 333.8 L86.35 333.88 L90.05 334.25 L93.75 334.34 L97.45 333.8 L101.15 335.07 L104.85 334.34 L108.55 334.86 L112.25 333.71 L115.95 334.23 L119.65 334.89 L123.35 316.26 L127.05 315.39 L130.75 316.17 L130.75 358.02 L127.05 359.3 L123.35 357.88 L119.65 366.41 L115.95 365.95 L112.25 366.28 L108.55 365.23 L104.85 365.75 L101.15 365.75 L97.45 365.06 L93.75 365.66 L90.05 366.1 L86.35 366.44 L82.65 365.9 L78.95 365.78 L75.25 365.38 L71.55 365.9 L67.85 365.51 L64.15 365.48 L60.45 365.93 L56.75 366.59 L53.05 365.72 L49.35 366.14 L45.65 366.55 L41.95 365.79 L38.25 365.38 L34.55 364.89 Z" fill="#f2dbb3"/>
<path d="M34.55 328.7 L38.25 351.68 M34.55 337.17 L38.25 344.94 M34.55 336.48 L38.25 354.04 M34.55 368.3 L38.25 357.47 M34.55 365.68 L38.25 358.04 M34.55 367.49 L38.25 355.05 M34.55 357.59 L38.25 328.4 L41.95 358.17 M34.55 353.46 L38.25 333.41 L41.95 345.55 M34.55 348.37 L38.25 334.21 L41.95 350.37 M34.55 358.29 L38.25 367.59 L41.95 358.6 M34.55 361.82 L38.25 366.26 L41.95 359.99 M34.55 361.42 L38.25 366.64 L41.95 360.22 M38.25 362.96 L41.95 335.4 L45.65 354.09 M38.25 346.74 L41.95 338.89 L45.65 354.44 M38.25 351.87 L41.95 339.56 L45.65 354.77 M38.25 357.77 L41.95 367.5 L45.65 354.08 M38.25 358.28 L41.95 366.74 L45.65 361.56 M38.25 358.33 L41.95 366.39 L45.65 354.87 M41.95 354.5 L45.65 331.7 L49.35 356.76 M41.95 354.14 L45.65 336.09 L49.35 348.18 M41.95 351.12 L45.65 337.38 L49.35 355.62 M41.95 352.29 L45.65 367.48 L49.35 354.88 M41.95 355.34 L45.65 366.24 L49.35 358.71 M41.95 354.44 L45.65 365.64 L49.35 358.21 M45.65 359.12 L49.35 324.3 L53.05 358.53 M45.65 353.44 L49.35 330.07 L53.05 343.93 M45.65 349.61 L49.35 332.84 L53.05 349.61 M45.65 357.85 L49.35 369.1 L53.05 357.26 M45.65 357.6 L49.35 367.28 L53.05 357.09 M45.65 353.75 L49.35 366.52 L53.05 355.3 M49.35 363.41 L53.05 325 L56.75 356.63 M49.35 352.44 L53.05 337.91 L56.75 350.8 M49.35 353.61 L53.05 331.66 L56.75 345.14 M49.35 361.23 L53.05 367.55 L56.75 353.83 M49.35 361.12 L53.05 365.7 L56.75 354.47 M49.35 361.45 L53.05 366.63 L56.75 355.19 M53.05 362.82 L56.75 328.7 L60.45 358.26 M53.05 352.58 L56.75 338.46 L60.45 349.03 M53.05 356.58 L56.75 334.99 L60.45 354.22 M53.05 360.54 L56.75 369.18 L60.45 358.66 M53.05 361.94 L56.75 366.54 L60.45 352.11 M53.05 359.38 L56.75 366.05 L60.45 358.87 M56.75 353.7 L60.45 337.7 L64.15 363.5 M56.75 350.24 L60.45 339.28 L64.15 349.06 M56.75 347.56 L60.45 340.08 L64.15 354.87 M56.75 353.43 L60.45 369 L64.15 359.43 M56.75 361.48 L60.45 365.9 L64.15 356.63 M56.75 357.36 L60.45 366.25 L64.15 357.11 M60.45 360.28 L64.15 331.7 L67.85 355.91 M60.45 346.2 L64.15 335.34 L67.85 355.55 M60.45 344.27 L64.15 336.54 L67.85 347.69 M60.45 357.91 L64.15 368.33 L67.85 356.35 M60.45 359.26 L64.15 366.15 L67.85 354.04 M60.45 354.89 L64.15 366.08 L67.85 353.98 M64.15 360.44 L67.85 325 L71.55 357.69 M64.15 349.38 L67.85 330.24 L71.55 355.01 M64.15 349.24 L67.85 337.76 L71.55 351.91 M64.15 353.37 L67.85 367.12 L71.55 361.28 M64.15 360.2 L67.85 366.69 L71.55 352.78 M64.15 353.99 L67.85 366.62 L71.55 357.02 M67.85 362.08 L71.55 339.2 L75.25 362.1 M67.85 346.34 L71.55 339.98 L75.25 354.5 M67.85 355.53 L71.55 340.14 L75.25 346.29 M67.85 361.05 L71.55 367.25 L75.25 354.16 M67.85 357.85 L71.55 367.4 L75.25 355.41 M67.85 352.94 L71.55 366.02 L75.25 355.14 M71.55 351.7 L75.25 328.7 L78.95 343.13 M71.55 344.14 L75.25 334.26 L78.95 347.87 M71.55 346.62 L75.25 336.89 L78.95 344.57 M71.55 356.39 L75.25 367.8 L78.95 360.46 M71.55 358.76 L75.25 367.32 L78.95 353.59 M71.55 354.01 L75.25 365.8 L78.95 352.2 M75.25 356.43 L78.95 321 L82.65 342.66 M75.25 351.93 L78.95 329.33 L82.65 339.9 M75.25 344.82 L78.95 328.15 L82.65 343.04 M75.25 357.7 L78.95 368.82 L82.65 355.21 M75.25 353.72 L78.95 365.73 L82.65 360.78 M75.25 352.04 L78.95 367.35 L82.65 352.61 M78.95 352.53 L82.65 325 L86.35 347.82 M78.95 346.75 L82.65 330.93 L86.35 343.46 M78.95 338.21 L82.65 328.05 L86.35 343.3 M78.95 356.02 L82.65 369.16 L86.35 356.59 M78.95 360.6 L82.65 365.68 L86.35 359.29 M78.95 353.55 L82.65 367.29 L86.35 359.73 M82.65 360.49 L86.35 327.2 L90.05 342.65 M82.65 349.58 L86.35 330.74 L90.05 341.48 M82.65 345.53 L86.35 329.45 L90.05 337.65 M82.65 357.5 L86.35 367.83 L90.05 359.53 M82.65 360.21 L86.35 366.98 L90.05 354.12 M82.65 361.31 L86.35 366.1 L90.05 356.41 M86.35 343.91 L90.05 326.1 L93.75 353.03 M86.35 344.74 L90.05 329.39 L93.75 343 M86.35 343.67 L90.05 332.67 L93.75 338.26 M86.35 360.68 L90.05 368.62 L93.75 356.22 M86.35 358.25 L90.05 366.21 L93.75 355.37 M86.35 360.3 L90.05 365.83 L93.75 352.58 M90.05 348.63 L93.75 328.7 L97.45 358.85 M90.05 343.24 L93.75 330.66 L97.45 338.94 M90.05 348.43 L93.75 332.93 L97.45 338.52 M90.05 356.64 L93.75 368.24 L97.45 360.82 M90.05 360.36 L93.75 366.44 L97.45 356.65 M90.05 358.33 L93.75 366.51 L97.45 360.02 M93.75 350.07 L97.45 324.3 L101.15 346.07 M93.75 340.12 L97.45 331.87 L101.15 348.33 M93.75 348.58 L97.45 329.87 L101.15 337.2 M93.75 357.12 L97.45 369.36 L101.15 354.09 M93.75 355.11 L97.45 366.64 L101.15 359.71 M93.75 360.46 L97.45 367 L101.15 359.36 M97.45 342.62 L101.15 327.2 L104.85 349.87 M97.45 340.8 L101.15 331.04 L104.85 348.58 M97.45 344.52 L101.15 332.66 L104.85 340.04 M97.45 354.16 L101.15 368.49 L104.85 354.89 M97.45 359.54 L101.15 365.62 L104.85 356.01 M97.45 361.59 L101.15 367.47 L104.85 355.82 M101.15 355.84 L104.85 322.8 L108.55 358.29 M101.15 347.54 L104.85 330.21 L108.55 343 M101.15 337.14 L104.85 326.65 L108.55 349.22 M101.15 357.93 L104.85 368.03 L108.55 361.12 M101.15 354.66 L104.85 365.99 L108.55 355.21 M101.15 358.56 L104.85 365.8 L108.55 360.6 M104.85 345.96 L108.55 324.3 L112.25 346.39 M104.85 349.69 L108.55 330.78 L112.25 349.96 M104.85 343.24 L108.55 328.32 L112.25 343.47 M104.85 352.92 L108.55 368.95 L112.25 354.49 M104.85 360.01 L108.55 366.77 L112.25 355.75 M104.85 354.13 L108.55 367.19 L112.25 361.08 M108.55 356.35 L112.25 319.8 L115.95 348.98 M108.55 349.55 L112.25 330.6 L115.95 345.75 M108.55 338.75 L112.25 326.05 L115.95 347.77 M108.55 352.95 L112.25 369.34 L115.95 354.55 M108.55 353.98 L112.25 367.16 L115.95 356.1 M108.55 353.75 L112.25 366.37 L115.95 354.16 M112.25 359.42 L115.95 322.8 L119.65 347.98 M112.25 343.91 L115.95 326.4 L119.65 349.3 M112.25 349.59 L115.95 331.61 L119.65 347.24 M112.25 353.62 L115.95 367.63 L119.65 359.68 M112.25 357.42 L115.95 365.9 L119.65 359.63 M112.25 352.92 L115.95 366.49 L119.65 355.15 M115.95 356.21 L119.65 324.3 L123.35 331.14 M115.95 347.32 L119.65 328.36 L123.35 327.18 M115.95 347.74 L119.65 327.52 L123.35 323.58 M115.95 355.48 L119.65 367.22 L123.35 346.64 M115.95 356.05 L119.65 366.18 L123.35 346.64 M115.95 361.96 L119.65 367.09 L123.35 350.11 M119.65 342.33 L123.35 306.4 L127.05 325.51 M119.65 342.44 L123.35 309.99 L127.05 326.16 M119.65 341.36 L123.35 311.73 L127.05 321.08 M119.65 353.55 L123.35 360.88 L127.05 348.81 M119.65 361.12 L123.35 359.08 L127.05 352.29 M119.65 357.58 L123.35 359.9 L127.05 348.39 M123.35 339.44 L127.05 304.9 L130.75 325.71 M123.35 318.84 L127.05 309.83 L130.75 329 M123.35 321.83 L127.05 312.69 L130.75 330.75 M123.35 352.76 L127.05 360.91 L130.75 346.1 M123.35 346.06 L127.05 359.72 L130.75 351.06 M123.35 345.44 L127.05 359.5 L130.75 349.93 M127.05 343.07 L130.75 304.9 M127.05 329.1 L130.75 312.66 M127.05 325.15 L130.75 312.81 M127.05 353.25 L130.75 360 M127.05 350.45 L130.75 360.39 M127.05 352.49 L130.75 360.12" fill="none" stroke="#f2dbb3" stroke-width="1.1" stroke-linejoin="round"/>
<path d="M34.55 357.6 L38.25 357.6 L41.95 357.3 L45.65 355.4 L49.35 356.3 L53.05 356.3 L56.75 357.6 L60.45 357.6 L64.15 357.3 L67.85 358.1 L71.55 358.4 L75.25 358.1 L78.95 357.3 L82.65 357 L86.35 357 L90.05 355.5 L93.75 355.1 L97.45 354.4 L101.15 354.4 L104.85 354.7 L108.55 355.8 L112.25 353.2 L115.95 353.2 L119.65 353.2 L123.35 331.7 L127.05 330.5 L130.75 329.5" fill="none" stroke="#f39c1e" stroke-width="1.4" stroke-linejoin="round" stroke-linecap="round"/>
<path d="M144.81 341.53 L148.51 341.89 L152.21 341.82 L155.91 342.57 L159.61 342.1 L163.31 345.02 L167.01 345.62 L170.71 345.09 L174.41 344.58 L178.11 319.62 L181.81 319.3 L185.51 320.16 L189.21 348.4 L192.91 347.9 L196.61 348.25 L200.31 348.21 L204.01 346.96 L207.71 347.15 L211.41 321 L215.11 320.46 L218.81 319.48 L222.51 348.25 L226.21 347.41 L229.91 347.42 L233.61 347.66 L237.31 348.07 L241.01 348.12 L241.01 364.98 L237.31 365.75 L233.61 366.06 L229.91 365.28 L226.21 365.67 L222.51 365.45 L218.81 365.01 L215.11 365.34 L211.41 364.56 L207.71 366.02 L204.01 364.89 L200.31 365.65 L196.61 365.9 L192.91 365.11 L189.21 365.53 L185.51 364.4 L181.81 364.95 L178.11 365.93 L174.41 365.24 L170.71 365.44 L167.01 364.95 L163.31 365.1 L159.61 364.44 L155.91 365.91 L152.21 364.98 L148.51 365.85 L144.81 364.48 Z" fill="#f2dbb3"/>
<path d="M144.81 334.7 L148.51 363 M144.81 337.83 L148.51 353.48 M144.81 339.44 L148.51 346.6 M144.81 367.94 L148.51 353.24 M144.81 366.59 L148.51 358.03 M144.81 365.28 L148.51 356.34 M144.81 363 L148.51 330.2 L152.21 352.74 M144.81 346.72 L148.51 335.22 L152.21 348.56 M144.81 348.37 L148.51 339.47 L152.21 349.48 M144.81 351.88 L148.51 368.92 L152.21 359.63 M144.81 352.06 L148.51 365.62 L152.21 359.53 M144.81 357.12 L148.51 365.64 L152.21 360.42 M148.51 354.7 L152.21 333.2 L155.91 357.38 M148.51 357.03 L152.21 338.5 L155.91 347.97 M148.51 356.31 L152.21 339.32 L155.91 350.35 M148.51 355.13 L152.21 368.59 L155.91 353.71 M148.51 359.98 L152.21 365.63 L155.91 353.93 M148.51 355.91 L152.21 365.94 L155.91 354.79 M152.21 363 L155.91 336.2 L159.61 355.01 M152.21 356.43 L155.91 339.65 L159.61 351.38 M152.21 352.69 L155.91 339.86 L159.61 347.88 M152.21 361.09 L155.91 368.43 L159.61 353.23 M152.21 357.96 L155.91 366.13 L159.61 352.1 M152.21 359.07 L155.91 365.53 L159.61 360.8 M155.91 360.47 L159.61 329.5 L163.31 363 M155.91 349.87 L159.61 335.22 L163.31 358 M155.91 348.49 L159.61 338.97 L163.31 355.88 M155.91 355.16 L159.61 368.92 L163.31 354.58 M155.91 357.56 L159.61 366.55 L163.31 352.1 M155.91 358.08 L159.61 366.48 L163.31 357.57 M159.61 363 L163.31 340.6 L167.01 359.49 M159.61 355.83 L163.31 343.52 L167.01 354.41 M159.61 353.2 L163.31 342.8 L167.01 359.22 M159.61 358.11 L163.31 366.83 L167.01 360.84 M159.61 356.48 L163.31 365.83 L167.01 352.98 M159.61 355.72 L163.31 366.34 L167.01 357.46 M163.31 363 L167.01 340.6 L170.71 357.98 M163.31 357.75 L167.01 342.1 L170.71 358.4 M163.31 356.23 L167.01 343.59 L170.71 357.3 M163.31 352.52 L167.01 367.75 L170.71 352.51 M163.31 353.29 L167.01 366.49 L170.71 355.01 M163.31 360.19 L167.01 366.76 L170.71 354.46 M167.01 363 L170.71 342.1 L174.41 363 M167.01 348.38 L170.71 343.78 L174.41 355.34 M167.01 351.05 L170.71 343.05 L174.41 350.27 M167.01 360.56 L170.71 367.06 L174.41 354.74 M167.01 353.48 L170.71 366.95 L174.41 357.9 M167.01 360.78 L170.71 366.4 L174.41 353.11 M170.71 359 L174.41 342.1 L178.11 327.07 M170.71 349.3 L174.41 343.31 L178.11 325.58 M170.71 353.29 L174.41 344.06 L178.11 329.21 M170.71 361.1 L174.41 368.52 L178.11 353.23 M170.71 359.26 L174.41 365.22 L178.11 355.21 M170.71 358.19 L174.41 365.68 L178.11 355.82 M174.41 356.86 L178.11 306.4 L181.81 342.87 M174.41 358.41 L178.11 315.66 L181.81 332.51 M174.41 347.9 L178.11 313.39 L181.81 332.12 M174.41 356.45 L178.11 366.57 L181.81 357.26 M174.41 355.2 L178.11 365.13 L181.81 354.25 M174.41 357.5 L178.11 366.17 L181.81 356.38 M178.11 338.78 L181.81 310.1 L185.51 331.53 M178.11 334.94 L181.81 313.42 L185.51 332.45 M178.11 326.28 L181.81 312.96 L185.51 334.82 M178.11 356.72 L181.81 366.68 L185.51 360.16 M178.11 354.67 L181.81 365.91 L185.51 354.42 M178.11 358.08 L181.81 365.91 L185.51 359.6 M181.81 335.06 L185.51 312.4 L189.21 361.15 M181.81 331.57 L185.51 317.31 L189.21 357.21 M181.81 324.57 L185.51 316.42 L189.21 359.65 M181.81 358.84 L185.51 366.99 L189.21 355.9 M181.81 351.77 L185.51 366.4 L189.21 354.02 M181.81 352.3 L185.51 366.9 L189.21 354.27 M185.51 341.39 L189.21 336.2 L192.91 356.75 M185.51 322.17 L189.21 344.53 L192.91 361.73 M185.51 330.19 L189.21 341.32 L192.91 353.93 M185.51 359.86 L189.21 367.39 L192.91 355.18 M185.51 358.44 L189.21 366.98 L192.91 361.06 M185.51 357.95 L189.21 365.35 L192.91 352.51 M189.21 363 L192.91 334 L196.61 363 M189.21 351.89 L192.91 344.72 L196.61 352.5 M189.21 356.63 L192.91 339.7 L196.61 363 M189.21 353.55 L192.91 368.78 L196.61 356.74 M189.21 360.22 L192.91 366.64 L196.61 360.41 M189.21 356.42 L192.91 366.13 L196.61 359.41 M192.91 360.54 L196.61 342.1 L200.31 355.92 M192.91 359.73 L196.61 343.99 L200.31 362.79 M192.91 356.18 L196.61 343.78 L200.31 360.02 M192.91 353.38 L196.61 367.46 L200.31 353.09 M192.91 361.37 L196.61 365.27 L200.31 359.36 M192.91 357.71 L196.61 366.17 L200.31 361.41 M196.61 363 L200.31 342.1 L204.01 363 M196.61 351.06 L200.31 345.31 L204.01 362.06 M196.61 351.42 L200.31 345.1 L204.01 354.7 M196.61 352.65 L200.31 368.06 L204.01 356.65 M196.61 359.44 L200.31 366.28 L204.01 359.07 M196.61 357.67 L200.31 366.81 L204.01 360.46 M200.31 363 L204.01 342.1 L207.71 358.02 M200.31 356.43 L204.01 346.1 L207.71 358.11 M200.31 359.69 L204.01 344.8 L207.71 356.22 M200.31 354.26 L204.01 366.67 L207.71 360.96 M200.31 357.5 L204.01 365.94 L207.71 354.77 M200.31 359.1 L204.01 366.43 L207.71 355 M204.01 363 L207.71 340.6 L211.41 337.43 M204.01 362.32 L207.71 345.93 L211.41 330.79 M204.01 353.6 L207.71 346.23 L211.41 335.83 M204.01 357.58 L207.71 367.07 L211.41 353.62 M204.01 355.16 L207.71 366.65 L211.41 354.08 M204.01 360.56 L207.71 365.08 L211.41 351.74 M207.71 363 L211.41 306.4 L215.11 328.76 M207.71 353.63 L211.41 317.6 L215.11 335.1 M207.71 359.23 L211.41 316.32 L215.11 335.09 M207.71 352.31 L211.41 368.1 L215.11 358.87 M207.71 361.32 L211.41 365.31 L215.11 353.93 M207.71 351.77 L211.41 365.21 L215.11 354.4 M211.41 331.74 L215.11 307.9 L218.81 344.14 M211.41 329.66 L215.11 317.1 L218.81 324.38 M211.41 334.57 L215.11 312.95 L218.81 334.91 M211.41 352.99 L215.11 366.51 L218.81 355.94 M211.41 356.48 L215.11 366.64 L218.81 355.3 M211.41 353.5 L215.11 366.19 L218.81 360.72 M215.11 329.08 L218.81 313.8 L222.51 363 M215.11 328.16 L218.81 318.08 L222.51 350.6 M215.11 323.31 L218.81 316.53 L222.51 361.29 M215.11 356.92 L218.81 368.53 L222.51 360.28 M215.11 359.43 L218.81 366.3 L222.51 357.21 M215.11 351.74 L218.81 365.22 L222.51 356.04 M218.81 335.05 L222.51 336.2 L226.21 357.38 M218.81 334.05 L222.51 341.27 L226.21 361.53 M218.81 327.78 L222.51 345.17 L226.21 354.44 M218.81 360.02 L222.51 368.41 L226.21 355.44 M218.81 353.81 L222.51 366.96 L226.21 361.43 M218.81 360.36 L222.51 365.15 L226.21 354.58 M222.51 363 L226.21 333.2 L229.91 363 M222.51 355.8 L226.21 341.77 L229.91 358.44 M222.51 362.41 L226.21 340.25 L229.91 360.02 M222.51 352.37 L226.21 368.49 L229.91 353.13 M222.51 361.19 L226.21 366.43 L229.91 354.69 M222.51 357.19 L226.21 366.7 L229.91 352.72 M226.21 359.1 L229.91 332.5 L233.61 363 M226.21 359.68 L229.91 341.61 L233.61 353.78 M226.21 355.03 L229.91 342.77 L233.61 354.72 M226.21 357.07 L229.91 366.74 L233.61 351.69 M226.21 352.18 L229.91 366.31 L233.61 353.88 M226.21 351.56 L229.91 366.67 L233.61 353.97 M229.91 360.98 L233.61 339.2 L237.31 360.49 M229.91 350.77 L233.61 344.37 L237.31 353.5 M229.91 362.47 L233.61 342.21 L237.31 354.77 M229.91 353.75 L233.61 368.43 L237.31 352.6 M229.91 356.18 L233.61 366.59 L237.31 360.45 M229.91 358.36 L233.61 366.65 L237.31 355.23 M233.61 362.84 L237.31 342.1 L241.01 363 M233.61 352.59 L237.31 343.82 L241.01 357.4 M233.61 357.5 L237.31 344.76 L241.01 362.69 M233.61 352.36 L237.31 367.52 L241.01 354.6 M233.61 360.6 L237.31 366.93 L241.01 359.38 M233.61 352.43 L237.31 365.57 L241.01 361.36 M237.31 360.7 L241.01 342.9 M237.31 363 L241.01 345 M237.31 356.19 L241.01 346.36 M237.31 354.59 L241.01 368.22 M237.31 353.97 L241.01 366.49 M237.31 358.93 L241.01 365.5" fill="none" stroke="#f2dbb3" stroke-width="1.1" stroke-linejoin="round"/>
<path d="M144.81 354.1 L148.51 354.4 L152.21 354.7 L155.91 355.4 L159.61 355.1 L163.31 355.1 L167.01 356.6 L170.71 356.6 L174.41 357 L178.11 342.4 L181.81 341.7 L185.51 343.2 L189.21 355.8 L192.91 357 L196.61 357.3 L200.31 357.3 L204.01 357.3 L207.71 358.1 L211.41 341.7 L215.11 340.7 L218.81 349.1 L222.51 356.1 L226.21 355.4 L229.91 356.1 L233.61 357.3 L237.31 357.3 L241.01 357.6" fill="none" stroke="#f39c1e" stroke-width="1.4" stroke-linejoin="round" stroke-linecap="round"/>
<path d="M255.25 316.25 L258.95 316.58 L262.65 317.94 L266.35 341.26 L270.05 341.28 L273.75 340.75 L277.45 340.32 L281.15 340.85 L284.85 340.4 L288.55 341.95 L292.25 340.69 L295.95 340.52 L299.65 340.75 L303.35 341.44 L307.05 341.51 L310.75 341.88 L314.45 341.7 L318.15 341.69 L321.85 319.24 L325.55 318.91 L329.25 317.72 L332.95 333.03 L336.65 332.59 L340.35 332.59 L344.05 331.66 L347.75 333.17 L351.45 332.57 L351.45 367.63 L347.75 367.29 L344.05 366.77 L340.35 366.93 L336.65 367.66 L332.95 366.88 L329.25 361.94 L325.55 362.1 L321.85 363.05 L318.15 366.41 L314.45 366.06 L310.75 366.62 L307.05 366.17 L303.35 366.8 L299.65 366.74 L295.95 366.18 L292.25 367.38 L288.55 367.24 L284.85 366.89 L281.15 366.26 L277.45 366.03 L273.75 366.12 L270.05 367.25 L266.35 367.18 L262.65 367.16 L258.95 366.47 L255.25 367.24 Z" fill="#f2dbb3"/>
<path d="M255.25 309.4 L258.95 329.27 M255.25 315.43 L258.95 319.99 M255.25 312.22 L258.95 321.49 M255.25 370.61 L258.95 359.56 M255.25 368.15 L258.95 361.82 M255.25 368.28 L258.95 360.68 M255.25 332.12 L258.95 301.9 L262.65 335.26 M255.25 323.03 L258.95 313.65 L262.65 330.15 M255.25 324.75 L258.95 312.23 L262.65 329.74 M255.25 361.26 L258.95 368.76 L262.65 361.01 M255.25 359.55 L258.95 367.47 L262.65 356.79 M255.25 354.5 L258.95 367.64 L262.65 362.69 M258.95 338.07 L262.65 310.1 L266.35 364.7 M258.95 320.18 L262.65 314.93 L266.35 349.5 M258.95 325.78 L262.65 315.37 L266.35 353.05 M258.95 362.02 L262.65 368.43 L266.35 358.4 M258.95 360.89 L262.65 367.05 L266.35 358.8 M258.95 362.52 L262.65 366.94 L266.35 359.59 M262.65 334.18 L266.35 326.5 L270.05 364.7 M262.65 320.73 L266.35 334.29 L270.05 346.69 M262.65 327.12 L266.35 332.8 L270.05 355.11 M262.65 354.62 L266.35 370.61 L270.05 362.1 M262.65 357.95 L266.35 368.59 L270.05 360.8 M262.65 354.55 L266.35 367.04 L270.05 361.08 M266.35 350.46 L270.05 328 L273.75 354.11 M266.35 349.79 L270.05 332.37 L273.75 353.31 M266.35 349.69 L270.05 338.36 L273.75 347.93 M266.35 356.57 L270.05 368.71 L273.75 359.59 M266.35 353.36 L270.05 366.94 L273.75 358.38 M266.35 363.09 L270.05 367.06 L273.75 356.67 M270.05 359.09 L273.75 332.5 L277.45 349.29 M270.05 353.43 L273.75 337.41 L277.45 350.78 M270.05 350.29 L273.75 338.49 L277.45 351.66 M270.05 361.75 L273.75 369.83 L277.45 355.16 M270.05 355.8 L273.75 368.59 L277.45 354.63 M270.05 354.17 L273.75 367.44 L277.45 361.38 M273.75 353.34 L277.45 329.5 L281.15 360.76 M273.75 344.87 L277.45 333.5 L281.15 346.62 M273.75 349.51 L277.45 338.88 L281.15 345.63 M273.75 355.71 L277.45 368.68 L281.15 357.37 M273.75 359.18 L277.45 368.58 L281.15 356.41 M273.75 353.72 L277.45 366.73 L281.15 360.87 M277.45 358.34 L281.15 328 L284.85 359.03 M277.45 350.2 L281.15 332.2 L284.85 356.69 M277.45 346.61 L281.15 334.51 L284.85 354.64 M277.45 353.2 L281.15 368.7 L284.85 358.63 M277.45 353.59 L281.15 367.15 L284.85 359.98 M277.45 359.77 L281.15 367.51 L284.85 356.51 M281.15 349.26 L284.85 330.2 L288.55 356.28 M281.15 354.56 L284.85 338.27 L288.55 343.8 M281.15 347.15 L284.85 335.67 L288.55 349.7 M281.15 356.08 L284.85 369.6 L288.55 361.82 M281.15 361.99 L284.85 367.18 L288.55 353.6 M281.15 361.83 L284.85 367 L288.55 357.98 M284.85 360.43 L288.55 333.2 L292.25 364.7 M284.85 346.85 L288.55 339.42 L292.25 345.98 M284.85 349.68 L288.55 337.21 L292.25 349.12 M284.85 356.58 L288.55 370.42 L292.25 354.6 M284.85 360.51 L288.55 368.61 L292.25 353.78 M284.85 362.68 L288.55 367.52 L292.25 354.05 M288.55 350.88 L292.25 332.5 L295.95 349.15 M288.55 347.56 L292.25 338.23 L295.95 356.37 M288.55 349.26 L292.25 335.58 L295.95 350.68 M288.55 355.13 L292.25 370.32 L295.95 356.67 M288.55 362.03 L292.25 367.73 L295.95 360.76 M288.55 357.34 L292.25 368.02 L295.95 355.19 M292.25 364.7 L295.95 331 L299.65 364.7 M292.25 344.79 L295.95 338.29 L299.65 355.47 M292.25 346.16 L295.95 336.26 L299.65 352.8 M292.25 360.83 L295.95 368.84 L299.65 359.54 M292.25 356.43 L295.95 367.75 L299.65 362.47 M292.25 356.96 L295.95 368.18 L299.65 358.48 M295.95 362.24 L299.65 325 L303.35 364.7 M295.95 349.98 L299.65 338.35 L303.35 352.61 M295.95 352.22 L299.65 332.27 L303.35 346.14 M295.95 355.34 L299.65 370.6 L303.35 360.87 M295.95 353.62 L299.65 367.56 L303.35 361.13 M295.95 353.58 L299.65 367.52 L303.35 354.2 M299.65 353.45 L303.35 325 L307.05 363.51 M299.65 352.42 L303.35 335.3 L307.05 353.77 M299.65 346.69 L303.35 337.32 L307.05 346.59 M299.65 362.84 L303.35 368.87 L307.05 361.84 M299.65 358.99 L303.35 367.51 L307.05 362.42 M299.65 353.78 L303.35 367.86 L307.05 357.43 M303.35 355.91 L307.05 328.7 L310.75 362.89 M303.35 346.08 L307.05 336.08 L310.75 350.06 M303.35 352.59 L307.05 338.87 L310.75 345.89 M303.35 353.58 L307.05 369.12 L310.75 355.53 M303.35 356.78 L307.05 368.37 L310.75 356.85 M303.35 353.54 L307.05 368.11 L310.75 361.24 M307.05 364.12 L310.75 328 L314.45 354.82 M307.05 354.48 L310.75 337.08 L314.45 351.61 M307.05 355.18 L310.75 332.9 L314.45 351.45 M307.05 363.05 L310.75 368.7 L314.45 357.85 M307.05 360.48 L310.75 368.15 L314.45 362.5 M307.05 361.47 L310.75 366.71 L314.45 356.24 M310.75 348.88 L314.45 331 L318.15 353.4 M310.75 353.04 L314.45 337.9 L318.15 356.63 M310.75 345.28 L314.45 339.23 L318.15 355.95 M310.75 361.71 L314.45 370.62 L318.15 359.85 M310.75 360 L314.45 367.74 L318.15 359.03 M310.75 360.61 L314.45 367.66 L318.15 362.65 M314.45 350.48 L318.15 328 L321.85 329.55 M314.45 351.91 L318.15 338.24 L321.85 330.36 M314.45 354.09 L318.15 337.03 L321.85 330.77 M314.45 358.28 L318.15 369.05 L321.85 356.92 M314.45 357.6 L318.15 368.56 L321.85 358.29 M314.45 356.27 L318.15 367.01 L321.85 354.95 M318.15 363.14 L321.85 301.9 L325.55 330.89 M318.15 354.23 L321.85 308.65 L325.55 322.52 M318.15 346.29 L321.85 310.55 L325.55 330.5 M318.15 355.29 L321.85 365.81 L325.55 356.49 M318.15 356.57 L321.85 362.49 L325.55 353.15 M318.15 361.27 L321.85 362.58 L325.55 352.98 M321.85 328.46 L325.55 307.9 L329.25 338.98 M321.85 324.66 L325.55 315.36 L329.25 326.81 M321.85 330.72 L325.55 313.69 L329.25 321.7 M321.85 356.59 L325.55 365.61 L329.25 355.89 M321.85 351.89 L325.55 363.58 L329.25 352.65 M321.85 356.75 L325.55 364.1 L329.25 355.69 M325.55 339.55 L329.25 310.1 L332.95 345.22 M325.55 324.24 L329.25 316.36 L332.95 345.03 M325.55 330.61 L329.25 313.34 L332.95 347.46 M325.55 355.7 L329.25 365.79 L332.95 360.65 M325.55 358.24 L329.25 363.74 L332.95 357.71 M325.55 358.31 L329.25 362.48 L332.95 358.66 M329.25 329.33 L332.95 324.3 L336.65 358.63 M329.25 327.3 L332.95 327.13 L336.65 337.57 M329.25 327.89 L332.95 330.34 L336.65 341.78 M329.25 351.64 L332.95 369.71 L336.65 358.51 M329.25 357.74 L332.95 368.85 L336.65 363.1 M329.25 353.96 L332.95 368.07 L336.65 361.27 M332.95 353.37 L336.65 319.1 L340.35 344.44 M332.95 341.2 L336.65 327.81 L340.35 344.26 M332.95 339.83 L336.65 324.6 L340.35 340.81 M332.95 354.46 L336.65 371.12 L340.35 357.61 M332.95 359.24 L336.65 367.51 L340.35 357.43 M332.95 363.43 L336.65 367.86 L340.35 353.99 M336.65 358.19 L340.35 328 L344.05 342.58 M336.65 343.05 L340.35 330.38 L344.05 338.9 M336.65 344.76 L340.35 331.25 L344.05 345.02 M336.65 362.94 L340.35 369.89 L344.05 359.86 M336.65 354.16 L340.35 367.49 L344.05 363.29 M336.65 356.12 L340.35 367.88 L344.05 362.45 M340.35 342.13 L344.05 325.8 L347.75 341.41 M340.35 341.91 L344.05 330.51 L347.75 345.83 M340.35 337.26 L344.05 330.49 L347.75 344.94 M340.35 360.42 L344.05 369.86 L347.75 362.57 M340.35 354.08 L344.05 367.79 L347.75 362.63 M340.35 356.39 L344.05 367.82 L347.75 354.88 M344.05 358.09 L347.75 323.5 L351.45 349.46 M344.05 342.85 L347.75 326.25 L351.45 338.75 M344.05 344.31 L347.75 328.55 L351.45 344.54 M344.05 361.86 L347.75 369.12 L351.45 354.22 M344.05 355.67 L347.75 367.51 L351.45 360.41 M344.05 361.25 L347.75 367.8 L351.45 359.11 M347.75 359.81 L351.45 321.3 M347.75 346.11 L351.45 329.52 M347.75 337.25 L351.45 328.5 M347.75 360.38 L351.45 370.66 M347.75 359.62 L351.45 367.68 M347.75 355.17 L351.45 368.94" fill="none" stroke="#f2dbb3" stroke-width="1.1" stroke-linejoin="round"/>
<path d="M255.25 352.6 L258.95 341.3 L262.65 349.9 L266.35 355.5 L270.05 355.8 L273.75 355.8 L277.45 356.1 L281.15 356.1 L284.85 356.1 L288.55 356.1 L292.25 355.8 L295.95 355.8 L299.65 355.4 L303.35 355.8 L307.05 355.8 L310.75 355.5 L314.45 355.8 L318.15 356.3 L321.85 332 L325.55 345.4 L329.25 348.4 L332.95 355.1 L336.65 355.1 L340.35 355.4 L344.05 355.8 L347.75 356.1 L351.45 356.1" fill="none" stroke="#f39c1e" stroke-width="1.4" stroke-linejoin="round" stroke-linecap="round"/>
<path d="M365.81 323.23 L369.51 323.57 L373.21 323.82 L376.91 318.29 L380.61 319.17 L384.31 318.36 L388.01 328.74 L391.71 328.3 L395.41 329.74 L399.11 317.34 L402.81 317.56 L406.51 317.86 L410.21 347.18 L413.91 346.76 L417.61 345.86 L421.31 346.09 L425.01 345.64 L428.71 346.01 L432.41 346.02 L436.11 346.93 L439.81 345.65 L443.51 346.74 L447.21 346.57 L450.91 346.97 L454.61 346.22 L458.31 346.81 L462.01 346.97 L462.01 367.19 L458.31 368.21 L454.61 367.41 L450.91 367.79 L447.21 366.89 L443.51 368.02 L439.81 368.49 L436.11 368.38 L432.41 368.32 L428.71 368.28 L425.01 367.77 L421.31 368.31 L417.61 367.98 L413.91 368.26 L410.21 368.11 L406.51 363.25 L402.81 362.24 L399.11 363.4 L395.41 362.54 L391.71 362.21 L388.01 362.48 L384.31 362.47 L380.61 362.28 L376.91 363.33 L373.21 363.51 L369.51 362.89 L365.81 361.82 Z" fill="#f2dbb3"/>
<path d="M365.81 322 L369.51 337.61 M365.81 322.23 L369.51 327.11 M365.81 322.14 L369.51 326.14 M365.81 365.99 L369.51 356.73 M365.81 362.64 L369.51 358.32 M365.81 363.98 L369.51 357.02 M365.81 340.04 L369.51 319.1 L373.21 338.84 M365.81 338.2 L369.51 320.61 L373.21 329.83 M365.81 337.43 L369.51 320.96 L373.21 331.92 M365.81 351.66 L369.51 366.25 L373.21 355.88 M365.81 353.27 L369.51 364.25 L373.21 357.94 M365.81 350.71 L369.51 363.67 L373.21 353.81 M369.51 340.48 L373.21 318 L376.91 334.63 M369.51 334.45 L373.21 319.76 L376.91 324 M369.51 330.52 L373.21 321.12 L376.91 333.76 M369.51 357.75 L373.21 365.74 L376.91 349.86 M369.51 353.09 L373.21 362.57 L376.91 354.68 M369.51 354.71 L373.21 363.93 L376.91 358.08 M373.21 341.27 L376.91 301.9 L380.61 342.71 M373.21 330.44 L376.91 308.72 L380.61 324.19 M373.21 336.22 L376.91 309.12 L380.61 324.15 M373.21 349.08 L376.91 366.21 L380.61 354.67 M373.21 351.9 L376.91 363.26 L380.61 349.7 M373.21 355.98 L376.91 362.9 L380.61 355.71 M376.91 340.94 L380.61 313.1 L384.31 330.04 M376.91 327.8 L380.61 315.96 L384.31 329.99 M376.91 333.74 L380.61 317.11 L384.31 334.3 M376.91 351.05 L380.61 365.4 L384.31 357.17 M376.91 353.49 L380.61 364.32 L384.31 351.4 M376.91 355.38 L380.61 364.24 L384.31 349.76 M380.61 330.45 L384.31 310.1 L388.01 337.17 M380.61 332.98 L384.31 314.8 L388.01 343.41 M380.61 327.94 L384.31 312.76 L388.01 343.82 M380.61 357.56 L384.31 365.4 L388.01 352.69 M380.61 354.76 L384.31 364.11 L388.01 352.98 M380.61 356.24 L384.31 363.02 L388.01 354.8 M384.31 336.56 L388.01 328 L391.71 346.07 M384.31 321.37 L388.01 328.3 L391.71 336.12 M384.31 331.03 L388.01 327.61 L391.71 334.78 M384.31 353.83 L388.01 364.64 L391.71 357.25 M384.31 349.96 L388.01 363.71 L391.71 356.98 M384.31 351.79 L388.01 363.67 L391.71 351.51 M388.01 350.94 L391.71 322 L395.41 350.91 M388.01 342.6 L391.71 326.69 L395.41 343.73 M388.01 343.97 L391.71 327.5 L395.41 337.45 M388.01 358.3 L391.71 364.22 L395.41 351.03 M388.01 357.58 L391.71 363.86 L395.41 354.4 M388.01 349.02 L391.71 363.78 L395.41 355.64 M391.71 352.03 L395.41 328.4 L399.11 329.7 M391.71 333.8 L395.41 328.18 L399.11 325.13 M391.71 335.64 L395.41 327.72 L399.11 321.91 M391.71 358.15 L395.41 364.55 L399.11 357.07 M391.71 353.95 L395.41 363.13 L399.11 357.16 M391.71 354.6 L395.41 363.46 L399.11 349.27 M395.41 346.42 L399.11 312.4 L402.81 343.7 M395.41 334.27 L399.11 315 L402.81 327.5 M395.41 333.9 L399.11 315.79 L402.81 320.75 M395.41 349.33 L399.11 365.75 L402.81 354.97 M395.41 354.75 L399.11 363.21 L402.81 355.48 M395.41 355.08 L399.11 363.88 L402.81 357.48 M399.11 342.09 L402.81 304.9 L406.51 336.25 M399.11 330.84 L402.81 314.97 L406.51 329.27 M399.11 327.99 L402.81 312.69 L406.51 331.76 M399.11 354.67 L402.81 365 L406.51 356.02 M399.11 352.37 L402.81 363.61 L406.51 351.65 M399.11 357.55 L402.81 364.4 L406.51 355.34 M402.81 341.83 L406.51 313.1 L410.21 365.5 M402.81 328.6 L406.51 315.04 L410.21 353.42 M402.81 326.94 L406.51 314.32 L410.21 354.23 M402.81 357.85 L406.51 364.46 L410.21 355.02 M402.81 358.73 L406.51 364.1 L410.21 360.77 M402.81 354.04 L406.51 363.46 L410.21 360.37 M406.51 342.7 L410.21 336.2 L413.91 361 M406.51 331.88 L410.21 341.66 L413.91 357.31 M406.51 324.12 L410.21 341.96 L413.91 354.03 M406.51 351.14 L410.21 370.52 L413.91 361.39 M406.51 355.12 L410.21 368.24 L413.91 360.37 M406.51 353.61 L410.21 369.33 L413.91 361.24 M410.21 360.65 L413.91 332.5 L417.61 365.5 M410.21 357.97 L413.91 342.79 L417.61 349.28 M410.21 349.77 L413.91 342.54 L417.61 359.47 M410.21 361.72 L413.91 369.37 L417.61 363.42 M410.21 356.67 L413.91 368.03 L417.61 356.8 M410.21 354.53 L413.91 369.32 L417.61 358.49 M413.91 365.5 L417.61 337.7 L421.31 355.79 M413.91 354.64 L417.61 340.53 L421.31 351.51 M413.91 360.16 L417.61 341.34 L421.31 354.01 M413.91 355.27 L417.61 369.23 L421.31 356.46 M413.91 354.23 L417.61 368.69 L421.31 363.62 M413.91 362.76 L417.61 367.61 L421.31 363.78 M417.61 365.5 L421.31 329.5 L425.01 365.5 M417.61 351.11 L421.31 342.51 L425.01 351.35 M417.61 357.74 L421.31 338 L425.01 361.6 M417.61 354.21 L421.31 369.9 L425.01 359.66 M417.61 361.47 L421.31 368.28 L425.01 361.67 M417.61 354.05 L421.31 369.45 L425.01 356.94 M421.31 357.5 L425.01 335.4 L428.71 357.6 M421.31 353.56 L425.01 343.52 L428.71 358.58 M421.31 355.89 L425.01 344.07 L428.71 357.85 M421.31 359.6 L425.01 369.08 L428.71 356.09 M421.31 359.48 L425.01 368.65 L428.71 355.19 M421.31 360.63 L425.01 368.7 L428.71 360.04 M425.01 365.5 L428.71 333.2 L432.41 365.5 M425.01 356.29 L428.71 337.64 L432.41 350.85 M425.01 353.98 L428.71 342.85 L432.41 357.98 M425.01 355.98 L428.71 369.01 L432.41 356.14 M425.01 363.94 L428.71 368.53 L432.41 356.02 M425.01 357.31 L428.71 368.33 L432.41 358.3 M428.71 365.5 L432.41 337.7 L436.11 362.18 M428.71 361.42 L432.41 340.37 L436.11 361.08 M428.71 353.11 L432.41 341.95 L436.11 353.9 M428.71 354.96 L432.41 369.67 L436.11 356.08 M428.71 355.79 L432.41 369.08 L436.11 354.09 M428.71 360.82 L432.41 368.88 L436.11 356.42 M432.41 359.25 L436.11 333.2 L439.81 365.5 M432.41 360.15 L436.11 342.96 L439.81 355.35 M432.41 361 L436.11 342.14 L439.81 350.08 M432.41 356.43 L436.11 371.33 L439.81 362.51 M432.41 358.27 L436.11 369.02 L439.81 354.93 M432.41 359.73 L436.11 368.67 L439.81 354.67 M436.11 355.75 L439.81 336.2 L443.51 365.5 M436.11 352.6 L439.81 343.98 L443.51 350.48 M436.11 354.74 L439.81 339.83 L443.51 358.44 M436.11 356.7 L439.81 369.64 L443.51 357.51 M436.11 359.06 L439.81 367.7 L443.51 356.78 M436.11 357.46 L439.81 367.93 L443.51 361.22 M439.81 361.41 L443.51 339.2 L447.21 365.5 M439.81 361.97 L443.51 341.45 L447.21 354.55 M439.81 359.51 L443.51 342.84 L447.21 358.86 M439.81 355.36 L443.51 370.14 L447.21 359.99 M439.81 359.27 L443.51 369.4 L447.21 362.81 M439.81 362.55 L443.51 369 L447.21 357.2 M443.51 355.07 L447.21 331 L450.91 365.5 M443.51 358.63 L447.21 339.29 L450.91 350.71 M443.51 353.89 L447.21 338.5 L450.91 352.24 M443.51 363.67 L447.21 371.04 L450.91 359.22 M443.51 355.49 L447.21 367.67 L450.91 355.07 M443.51 359.35 L447.21 367.57 L450.91 359.31 M447.21 365.5 L450.91 339.2 L454.61 365.5 M447.21 361.13 L450.91 343.7 L454.61 351.41 M447.21 359.59 L450.91 344.47 L454.61 350.56 M447.21 359 L450.91 369.46 L454.61 360.64 M447.21 354.7 L450.91 367.83 L454.61 359.26 M447.21 361.5 L450.91 369.07 L454.61 354.87 M450.91 358.42 L454.61 340.6 L458.31 365.5 M450.91 361.62 L454.61 343.37 L458.31 359.03 M450.91 355.93 L454.61 343.32 L458.31 360.11 M450.91 363.02 L454.61 370.11 L458.31 354.86 M450.91 357.18 L454.61 369.11 L458.31 356.55 M450.91 359.37 L454.61 367.96 L458.31 355.77 M454.61 365.5 L458.31 336.9 L462.01 365.5 M454.61 357.89 L458.31 343.83 L462.01 356.2 M454.61 351.18 L458.31 342.61 L462.01 350.78 M454.61 359.07 L458.31 370.18 L462.01 361.32 M454.61 358.46 L458.31 368.24 L462.01 356.38 M454.61 362.38 L458.31 368.68 L462.01 355.14 M458.31 361.35 L462.01 340.6 M458.31 361.76 L462.01 342.34 M458.31 356.57 L462.01 344.77 M458.31 360.15 L462.01 371.42 M458.31 360.86 L462.01 368.59 M458.31 361.95 L462.01 367.56" fill="none" stroke="#f2dbb3" stroke-width="1.1" stroke-linejoin="round"/>
<path d="M365.81 351.1 L369.51 351.4 L373.21 350.6 L376.91 328 L380.61 348.7 L384.31 349.4 L388.01 353.2 L391.71 352.6 L395.41 355.1 L399.11 348.7 L402.81 348.7 L406.51 348.7 L410.21 356.6 L413.91 357 L417.61 357 L421.31 357 L425.01 357 L428.71 357 L432.41 357 L436.11 357 L439.81 357.3 L443.51 357 L447.21 356.6 L450.91 357.3 L454.61 357.3 L458.31 357.3 L462.01 358.1" fill="none" stroke="#f39c1e" stroke-width="1.4" stroke-linejoin="round" stroke-linecap="round"/>
<path d="M475.95 345.12 L479.65 346.03 L483.35 346.61 L487.05 345.55 L490.75 346.04 L494.45 346.45 L498.15 345.55 L501.85 345.44 L505.55 345.34 L509.25 345.02 L512.95 345.9 L516.65 345.81 L520.35 323.71 L524.05 323.43 L527.75 323.99 L531.45 323.48 L535.15 322.29 L538.85 323.94 L542.55 323.22 L546.25 322.95 L549.95 323.26 L553.65 339.92 L557.35 340.22 L561.05 340.08 L564.75 340.38 L568.45 340.83 L572.15 341.64 L572.15 367.93 L568.45 367.78 L564.75 368.78 L561.05 368.88 L557.35 368.7 L553.65 367.56 L549.95 361.58 L546.25 361.72 L542.55 360.12 L538.85 360.66 L535.15 360.87 L531.45 360.1 L527.75 361.32 L524.05 361.77 L520.35 361.3 L516.65 370.21 L512.95 370.37 L509.25 370.02 L505.55 371.75 L501.85 371.74 L498.15 371.09 L494.45 371.21 L490.75 370.98 L487.05 371.71 L483.35 371.23 L479.65 371.01 L475.95 370.51 Z" fill="#f2dbb3"/>
<path d="M475.95 328 L479.65 367.45 M475.95 342.23 L479.65 359.3 M475.95 333.43 L479.65 349.94 M475.95 374.07 L479.65 364.5 M475.95 371 L479.65 363.56 M475.95 372.02 L479.65 357.66 M475.95 368.7 L479.65 331 L483.35 368.7 M475.95 356.99 L479.65 338.35 L483.35 350.59 M475.95 355.67 L479.65 337.53 L483.35 353.17 M475.95 364.65 L479.65 374.45 L483.35 365.78 M475.95 365.71 L479.65 371.02 L483.35 361.31 M475.95 365.6 L479.65 372.3 L483.35 362.17 M479.65 364.99 L483.35 336.2 L487.05 364.71 M479.65 355.57 L483.35 341.99 L487.05 348.7 M479.65 353.99 L483.35 343.81 L487.05 351.58 M479.65 364.78 L483.35 374.09 L487.05 358.96 M479.65 366.27 L483.35 371.18 L487.05 362.43 M479.65 363.84 L483.35 371.48 L487.05 359.55 M483.35 357.95 L487.05 332.5 L490.75 366.9 M483.35 354.38 L487.05 337.58 L490.75 355.04 M483.35 356.35 L487.05 336.95 L490.75 350.85 M483.35 366.38 L487.05 372.37 L490.75 363.88 M483.35 360.71 L487.05 370.88 L490.75 362.96 M483.35 362.08 L487.05 371.32 L490.75 357.83 M487.05 358.39 L490.75 329.5 L494.45 356.59 M487.05 352.72 L490.75 340.41 L494.45 360.33 M487.05 354.07 L490.75 336.89 L494.45 350.66 M487.05 365.98 L490.75 372.31 L494.45 358.73 M487.05 365.63 L490.75 372 L494.45 360.95 M487.05 362.13 L490.75 370.82 L494.45 363.85 M490.75 355.55 L494.45 323.5 L498.15 368.35 M490.75 355.14 L494.45 333.53 L498.15 350.69 M490.75 354.13 L494.45 334.1 L498.15 357.1 M490.75 358.17 L494.45 372.43 L498.15 367.16 M490.75 363.22 L494.45 371.15 L498.15 365.22 M490.75 360.33 L494.45 370.88 L498.15 357.26 M494.45 360.2 L498.15 337.7 L501.85 358.82 M494.45 351.39 L498.15 341.45 L501.85 353.71 M494.45 354.1 L498.15 341.38 L501.85 350.52 M494.45 361.77 L498.15 372.38 L501.85 357.29 M494.45 366.2 L498.15 372.54 L501.85 362.18 M494.45 365.26 L498.15 371.68 L501.85 360.5 M498.15 363.41 L501.85 337.7 L505.55 368.7 M498.15 360.64 L501.85 343.08 L505.55 359.09 M498.15 350.34 L501.85 342.3 L505.55 354.79 M498.15 360.34 L501.85 372.52 L505.55 360.23 M498.15 357.44 L501.85 371.86 L505.55 366.75 M498.15 359.19 L501.85 372.13 L505.55 366.07 M501.85 359.94 L505.55 337.7 L509.25 354.58 M501.85 357.9 L505.55 341.83 L509.25 353.02 M501.85 353.27 L505.55 341.35 L509.25 357.76 M501.85 357.42 L505.55 372.89 L509.25 362.82 M501.85 366.29 L505.55 370.71 L509.25 359.94 M501.85 360.83 L505.55 372.43 L509.25 365.65 M505.55 368.7 L509.25 336.2 L512.95 367.84 M505.55 353.45 L509.25 343.52 L512.95 357.23 M505.55 349.05 L509.25 344.09 L512.95 353.1 M505.55 357.24 L509.25 374.39 L512.95 364.02 M505.55 359.34 L509.25 372.52 L512.95 358.55 M505.55 357.51 L509.25 371.88 L512.95 360.76 M509.25 368.7 L512.95 340.6 L516.65 364.82 M509.25 355.24 L512.95 344.24 L516.65 354.78 M509.25 353.36 L512.95 343.86 L516.65 355.14 M509.25 364.97 L512.95 373.67 L516.65 364.43 M509.25 362.16 L512.95 371.71 L516.65 363.01 M509.25 365.35 L512.95 372.03 L516.65 361.88 M512.95 359.02 L516.65 336.9 L520.35 346.2 M512.95 358.65 L516.65 340.88 L520.35 332.53 M512.95 360.53 L516.65 343.03 L520.35 332.44 M512.95 364.3 L516.65 373.14 L520.35 353.28 M512.95 359.01 L516.65 372.12 L520.35 352.47 M512.95 365.07 L516.65 372.16 L520.35 352.78 M516.65 360.66 L520.35 314.6 L524.05 336.93 M516.65 358.31 L520.35 319.95 L524.05 335.33 M516.65 351.54 L520.35 320.63 L524.05 336 M516.65 360.44 L520.35 363.94 L524.05 350.95 M516.65 364.47 L520.35 362.19 L524.05 356.69 M516.65 366.88 L520.35 361.52 L524.05 347.68 M520.35 341.3 L524.05 315.3 L527.75 344.2 M520.35 336.26 L524.05 317.69 L527.75 328.78 M520.35 327.21 L524.05 320.29 L527.75 336.14 M520.35 352.42 L524.05 364.14 L527.75 353.61 M520.35 352.43 L524.05 361.34 L527.75 350.18 M520.35 348.81 L524.05 362.59 L527.75 348.62 M524.05 339.59 L527.75 312.4 L531.45 339.22 M524.05 338.46 L527.75 319.44 L531.45 328.18 M524.05 329.45 L527.75 320.34 L531.45 337.79 M524.05 353.99 L527.75 364.43 L531.45 348.78 M524.05 353.03 L527.75 362.58 L531.45 355.38 M524.05 353.55 L527.75 362.35 L531.45 356.11 M527.75 348.86 L531.45 315.3 L535.15 339.59 M527.75 333.54 L531.45 320.04 L535.15 329.12 M527.75 330.87 L531.45 321.59 L535.15 330.73 M527.75 353.58 L531.45 362.33 L535.15 349.69 M527.75 350.5 L531.45 361.47 L535.15 351.05 M527.75 357.1 L531.45 361.18 L535.15 350.56 M531.45 343.02 L535.15 319.1 L538.85 336.68 M531.45 336.92 L535.15 321.84 L538.85 337.62 M531.45 333.42 L535.15 321.77 L538.85 333.27 M531.45 356.94 L535.15 363.11 L538.85 354.05 M531.45 351.28 L535.15 362.09 L538.85 352.2 M531.45 355.17 L535.15 361.04 L538.85 354.19 M535.15 339.13 L538.85 312.4 L542.55 338.06 M535.15 327.31 L538.85 316.08 L542.55 338.62 M535.15 336.94 L538.85 319.87 L542.55 328.97 M535.15 353.53 L538.85 363.77 L542.55 356.92 M535.15 349.2 L538.85 362.39 L542.55 354.61 M535.15 352.51 L538.85 362.35 L542.55 347.43 M538.85 331.89 L542.55 315.3 L546.25 338.41 M538.85 333.92 L542.55 320.74 L546.25 335.91 M538.85 332.93 L542.55 318.2 L546.25 330.83 M538.85 356.25 L542.55 364.3 L546.25 354.7 M538.85 352.9 L542.55 362.31 L546.25 347.37 M538.85 352.68 L542.55 360.98 L546.25 355.17 M542.55 330.84 L546.25 309.4 L549.95 332.67 M542.55 330.6 L546.25 320.12 L549.95 331.42 M542.55 329.56 L546.25 317.05 L549.95 334.93 M542.55 347.48 L546.25 363.59 L549.95 355.61 M542.55 352.36 L546.25 361.82 L549.95 353.58 M542.55 355.2 L546.25 362.52 L549.95 348.52 M546.25 337.96 L549.95 313.8 L553.65 355.21 M546.25 333.12 L549.95 318.41 L553.65 347.19 M546.25 338.22 L549.95 321.03 L553.65 348.3 M546.25 350.74 L549.95 362.59 L553.65 359.08 M546.25 354.02 L549.95 361.46 L553.65 355.95 M546.25 353.13 L549.95 361.48 L553.65 354.83 M549.95 338.02 L553.65 333.2 L557.35 356.54 M549.95 334.41 L553.65 338.75 L557.35 352.14 M549.95 331.08 L553.65 337.61 L557.35 346.53 M549.95 352.73 L553.65 371.37 L557.35 356.08 M549.95 349.96 L553.65 368.65 L557.35 364.11 M549.95 347.69 L553.65 368.34 L557.35 357.58 M553.65 362.01 L557.35 334 L561.05 358.44 M553.65 346.07 L557.35 337.84 L561.05 345.75 M553.65 352.52 L557.35 337.22 L561.05 346.86 M553.65 363.04 L557.35 371.01 L561.05 358.27 M553.65 359.3 L557.35 368.24 L561.05 361.26 M553.65 363.06 L557.35 369 L561.05 359.57 M557.35 360.83 L561.05 333.2 L564.75 351.2 M557.35 352.32 L561.05 338.17 L564.75 350.6 M557.35 353.64 L561.05 336.93 L564.75 350.93 M557.35 359.97 L561.05 369.96 L564.75 356.1 M557.35 356.87 L561.05 369.03 L564.75 360.76 M557.35 354.7 L561.05 368.8 L564.75 356.18 M561.05 361.56 L564.75 331.7 L568.45 350.63 M561.05 343.93 L564.75 336.22 L568.45 355.64 M561.05 352.97 L564.75 334.48 L568.45 346.98 M561.05 362.63 L564.75 371.51 L568.45 356.12 M561.05 364.24 L564.75 368.94 L568.45 355.5 M561.05 356.1 L564.75 368.78 L568.45 357.52 M564.75 359.15 L568.45 328 L572.15 365.75 M564.75 355.18 L568.45 337.23 L572.15 347.9 M564.75 347.88 L568.45 338.45 L572.15 344.36 M564.75 358.16 L568.45 369.58 L572.15 363.19 M564.75 361.47 L568.45 368.22 L572.15 361.61 M564.75 355.35 L568.45 369.74 L572.15 355.7 M568.45 365.9 L572.15 328.7 M568.45 353.85 L572.15 335.87 M568.45 355.54 L572.15 336.91 M568.45 357.08 L572.15 371.43 M568.45 363.49 L572.15 368.36 M568.45 358.88 L572.15 369.75" fill="none" stroke="#f2dbb3" stroke-width="1.1" stroke-linejoin="round"/>
<path d="M475.95 357.6 L479.65 357.6 L483.35 358.1 L487.05 359.6 L490.75 360.3 L494.45 358.8 L498.15 358.1 L501.85 358.5 L505.55 356.6 L509.25 358.1 L512.95 359.1 L516.65 358.5 L520.35 346.9 L524.05 345.4 L527.75 346.2 L531.45 340.7 L535.15 342.7 L538.85 345.1 L542.55 346.2 L546.25 345.4 L549.95 349.1 L553.65 355.1 L557.35 355.1 L561.05 355.5 L564.75 356.1 L568.45 355.8 L572.15 355.8" fill="none" stroke="#f39c1e" stroke-width="1.4" stroke-linejoin="round" stroke-linecap="round"/>
<path d="M586.55 338.5 L590.25 337.66 L593.95 338.24 L597.65 338.22 L601.35 339.12 L605.05 343.14 L608.75 342.25 L612.45 342.51 L616.15 342.19 L619.85 336.56 L623.55 336.8 L627.25 337.26 L630.95 337.48 L634.65 336.28 L638.35 337.22 L642.05 325.93 L645.75 325.48 L649.45 326.05 L653.15 326.62 L656.85 326.5 L660.55 326.66 L664.25 318.2 L667.95 318.57 L671.65 318.74 L675.35 337.89 L679.05 338.54 L682.75 338.6 L682.75 367.59 L679.05 367.06 L675.35 366.6 L671.65 363.99 L667.95 364.28 L664.25 364.74 L660.55 364.97 L656.85 365.44 L653.15 365.16 L649.45 365.71 L645.75 366.45 L642.05 365.74 L638.35 365.98 L634.65 365.43 L630.95 365.44 L627.25 368.64 L623.55 367.35 L619.85 368.22 L616.15 369.02 L612.45 367.7 L608.75 368.55 L605.05 368.8 L601.35 367.81 L597.65 367.65 L593.95 368.71 L590.25 368.56 L586.55 368.85 Z" fill="#f2dbb3"/>
<path d="M586.55 332.5 L590.25 358.03 M586.55 335.28 L590.25 342.63 M586.55 334.82 L590.25 344.8 M586.55 371.66 L590.25 356.64 M586.55 369.36 L590.25 356.35 M586.55 368.87 L590.25 357.77 M586.55 365.06 L590.25 332.5 L593.95 349.78 M586.55 346.36 L590.25 336.87 L593.95 347.62 M586.55 343.88 L590.25 336.72 L593.95 352.27 M586.55 363.01 L590.25 370.47 L593.95 362.67 M586.55 362.6 L590.25 369.15 L593.95 359.75 M586.55 360.1 L590.25 369.08 L593.95 359.46 M590.25 362.74 L593.95 332.5 L597.65 346.33 M590.25 343.59 L593.95 334.36 L597.65 341.5 M590.25 348.41 L593.95 334.85 L597.65 347.99 M590.25 356.69 L593.95 370.04 L597.65 361.44 M590.25 362.22 L593.95 369.45 L597.65 358.77 M590.25 360.78 L593.95 369.3 L597.65 359.7 M593.95 347.3 L597.65 334.7 L601.35 358.87 M593.95 342.99 L597.65 336.25 L601.35 348.16 M593.95 342.31 L597.65 336.17 L601.35 351.91 M593.95 364 L597.65 371.68 L601.35 362.02 M593.95 361.97 L597.65 368.17 L601.35 363.64 M593.95 362 L597.65 368.98 L601.35 361.5 M597.65 355.23 L601.35 328.7 L605.05 357.83 M597.65 350.4 L601.35 332.57 L605.05 346.88 M597.65 341.11 L601.35 335.46 L605.05 349.68 M597.65 357.53 L601.35 369.77 L605.05 356.7 M597.65 362.41 L601.35 369.99 L605.05 364.13 M597.65 360.38 L601.35 369.51 L605.05 355.19 M601.35 353.85 L605.05 318.3 L608.75 356.65 M601.35 353.32 L605.05 337.82 L608.75 352.06 M601.35 346.68 L605.05 332.94 L608.75 355.39 M601.35 359.74 L605.05 371.58 L608.75 362.72 M601.35 355.59 L605.05 368.81 L608.75 360.42 M601.35 358.9 L605.05 369.32 L608.75 359.89 M605.05 361.9 L608.75 336.2 L612.45 355.3 M605.05 356.64 L608.75 339.57 L612.45 346.44 M605.05 356.85 L608.75 340.21 L612.45 358.12 M605.05 358.23 L608.75 369.53 L612.45 358.18 M605.05 359.8 L608.75 369.69 L612.45 363.19 M605.05 357.37 L608.75 368.6 L612.45 357.22 M608.75 354.49 L612.45 340.6 L616.15 363.25 M608.75 353.95 L612.45 341.38 L616.15 345.68 M608.75 349.62 L612.45 341.61 L616.15 353.16 M608.75 363.22 L612.45 370.34 L616.15 357.8 M608.75 356.59 L612.45 368.57 L616.15 361.44 M608.75 356.42 L612.45 369.09 L616.15 363.34 M612.45 365.02 L616.15 341.4 L619.85 345.86 M612.45 345.73 L616.15 341.07 L619.85 348.91 M612.45 347.74 L616.15 341.69 L619.85 344.63 M612.45 360.35 L616.15 370.75 L619.85 363.28 M612.45 361.5 L616.15 369.05 L619.85 354.83 M612.45 360.15 L616.15 368.77 L619.85 362.22 M616.15 366 L619.85 336.2 L623.55 350.94 M616.15 356.22 L619.85 335.49 L623.55 344.61 M616.15 349.02 L619.85 335.37 L623.55 340.92 M616.15 360.01 L619.85 369.61 L623.55 355.76 M616.15 360.1 L619.85 368.41 L623.55 356.87 M616.15 362.97 L619.85 368.55 L623.55 359.31 M619.85 353.01 L623.55 322 L627.25 363.27 M619.85 342.59 L623.55 327.17 L627.25 346.79 M619.85 339.94 L623.55 331.01 L627.25 345.28 M619.85 361.47 L623.55 371.79 L627.25 358.64 M619.85 363.87 L623.55 369.42 L627.25 355.26 M619.85 361.48 L623.55 368.22 L627.25 357.34 M623.55 344.89 L627.25 332.5 L630.95 352.01 M623.55 345.65 L627.25 335.62 L630.95 339.71 M623.55 342.39 L627.25 335.57 L630.95 340.56 M623.55 362.56 L627.25 369.73 L630.95 356.82 M623.55 356.29 L627.25 368.27 L630.95 357.83 M623.55 362.09 L627.25 368.5 L630.95 353.6 M627.25 345.44 L630.95 328.7 L634.65 359.34 M627.25 351.78 L630.95 334.91 L634.65 344.81 M627.25 350.72 L630.95 332.77 L634.65 340.81 M627.25 357.56 L630.95 367.16 L634.65 356.12 M627.25 361.72 L630.95 366.94 L634.65 357.03 M627.25 360.13 L630.95 365.87 L634.65 359.18 M630.95 356.21 L634.65 323.5 L638.35 350.48 M630.95 347.85 L634.65 332.59 L638.35 340.61 M630.95 345.94 L634.65 328.82 L638.35 342.48 M630.95 356.91 L634.65 367.29 L638.35 356.96 M630.95 358.26 L634.65 366.94 L638.35 357.88 M630.95 359.26 L634.65 367.29 L638.35 352.19 M634.65 362.35 L638.35 329.5 L642.05 353.6 M634.65 342.84 L638.35 331.82 L642.05 339.39 M634.65 342.15 L638.35 333.09 L642.05 341.77 M634.65 353.9 L638.35 368.62 L642.05 356.42 M634.65 353.37 L638.35 365.66 L642.05 360.25 M634.65 355.84 L638.35 366.02 L642.05 360.06 M638.35 353.75 L642.05 311.6 L645.75 348.07 M638.35 348.09 L642.05 322.92 L645.75 330.16 M638.35 347.94 L642.05 319.96 L645.75 337.74 M638.35 360.09 L642.05 367.11 L645.75 352.4 M638.35 357.75 L642.05 366.28 L645.75 358.25 M638.35 354.6 L642.05 366.89 L645.75 355.5 M642.05 341.85 L645.75 317.6 L649.45 345.19 M642.05 331.24 L645.75 322.25 L649.45 341.14 M642.05 338.91 L645.75 320.22 L649.45 341.7 M642.05 353.61 L645.75 368.16 L649.45 359.59 M642.05 354.85 L645.75 366.99 L649.45 352.61 M642.05 353.21 L645.75 367.17 L649.45 359.32 M645.75 349.55 L649.45 315.3 L653.15 343.31 M645.75 333.59 L649.45 322.42 L653.15 339.19 M645.75 339.78 L649.45 319.36 L653.15 337.5 M645.75 360.44 L649.45 367.43 L653.15 356.32 M645.75 358.63 L649.45 365.92 L653.15 360.98 M645.75 354.83 L649.45 365.81 L653.15 359.76 M649.45 350.76 L653.15 314.6 L656.85 340.38 M649.45 332.73 L653.15 318.89 L656.85 332.28 M649.45 328.96 L653.15 321.69 L656.85 334.46 M649.45 361.87 L653.15 367.95 L656.85 353.38 M649.45 362 L653.15 366.25 L656.85 352.4 M649.45 359.47 L653.15 365.96 L656.85 361.76 M653.15 335.79 L656.85 323.5 L660.55 348 M653.15 335.35 L656.85 324.72 L660.55 332 M653.15 341.41 L656.85 325.09 L660.55 333.64 M653.15 353.13 L656.85 369.47 L660.55 360.75 M653.15 361.79 L656.85 367.2 L660.55 354.89 M653.15 355.04 L656.85 367.12 L660.55 356.5 M656.85 350.06 L660.55 324.3 L664.25 329.39 M656.85 332.26 L660.55 324.91 L664.25 326.49 M656.85 338.01 L660.55 325.29 L664.25 328.75 M656.85 355.72 L660.55 368.95 L664.25 354.81 M656.85 353.88 L660.55 367.34 L664.25 355.13 M656.85 352.72 L660.55 366.15 L664.25 357.09 M660.55 335.84 L664.25 302.2 L667.95 332.97 M660.55 340.91 L664.25 309.63 L667.95 329.69 M660.55 340.99 L664.25 310.02 L667.95 331.41 M660.55 357.38 L664.25 366.91 L667.95 353.2 M660.55 360.9 L664.25 364.94 L667.95 354.6 M660.55 359.52 L664.25 365.92 L667.95 353.96 M664.25 344.15 L667.95 306.7 L671.65 328.85 M664.25 327.71 L667.95 315.69 L671.65 325.65 M664.25 334.26 L667.95 310.5 L671.65 327.09 M664.25 354.48 L667.95 367.78 L671.65 359.07 M664.25 359.06 L667.95 366.24 L671.65 360.04 M664.25 360.62 L667.95 365.21 L671.65 355.99 M667.95 334.54 L671.65 312.4 L675.35 364.79 M667.95 332.35 L671.65 316.07 L675.35 350.84 M667.95 324.39 L671.65 315.51 L675.35 344.66 M667.95 356.85 L671.65 367.03 L675.35 357.34 M667.95 357.57 L671.65 365.31 L675.35 357.73 M667.95 358.77 L671.65 366.29 L675.35 360.44 M671.65 326.54 L675.35 325.8 L679.05 347.58 M671.65 326.8 L675.35 335.55 L679.05 351.57 M671.65 333.86 L675.35 331.35 L679.05 351.58 M671.65 355 L675.35 370.26 L679.05 363.67 M671.65 358.18 L675.35 368.07 L679.05 357.59 M671.65 355.38 L675.35 367.43 L679.05 360.04 M675.35 355.54 L679.05 332.5 L682.75 353.79 M675.35 350.21 L679.05 336.63 L682.75 351.1 M675.35 342.21 L679.05 335.21 L682.75 348.49 M675.35 353.93 L679.05 370.98 L682.75 356.21 M675.35 355.02 L679.05 367.39 L682.75 357.15 M675.35 354.6 L679.05 367.85 L682.75 355.54 M679.05 363.6 L682.75 328.7 M679.05 348.2 L682.75 335.12 M679.05 344.55 L682.75 334.47 M679.05 357.63 L682.75 370.7 M679.05 358.37 L682.75 367.96 M679.05 358.13 L682.75 369.16" fill="none" stroke="#f2dbb3" stroke-width="1.1" stroke-linejoin="round"/>
<path d="M586.55 356.3 L590.25 356.3 L593.95 355.8 L597.65 355.5 L601.35 355.4 L605.05 355.8 L608.75 357 L612.45 356.6 L616.15 356.1 L619.85 356.3 L623.55 356.6 L627.25 356.6 L630.95 355.5 L634.65 355.1 L638.35 355.1 L642.05 352.6 L645.75 353.6 L649.45 354.1 L653.15 353.9 L656.85 354.1 L660.55 354.8 L664.25 318.3 L667.95 345.1 L671.65 348.4 L675.35 355.1 L679.05 355.5 L682.75 355.5" fill="none" stroke="#f39c1e" stroke-width="1.4" stroke-linejoin="round" stroke-linecap="round"/>
<path d="M34.6 235.34 L38.3 225.7 L42 222.24 L45.7 228.8 L49.4 221.55 L53.1 223.97 L56.8 232.73 L60.5 236.3 L64.2 230.3 L67.9 227.3 L71.6 218.53 L75.3 219.29 L79 233.26 L82.7 235.33 L86.4 236.65 L90.1 234 L93.8 233.3 L97.5 232.5 L101.2 232.5 L104.9 232.5 L108.6 218.78 L112.3 210.94 L116 210.86 L119.7 212.82 L123.4 210.08 L127.1 214.7 L130.8 204.98" fill="none" stroke="#7183bd" stroke-width="1.3" stroke-linejoin="round"/>
<path d="M34.6 223.34 L38.3 222.03 L42 221.32 L45.7 220.07 L49.4 215.71 L53.1 223.31 L56.8 214.59 L60.5 213.74 L64.2 217.34 L67.9 203.09 L71.6 218.2 L75.3 226.6 L79 221.68 L82.7 224.63 L86.4 223.31 L90.1 219.36 L93.8 221.85 L97.5 230.52 L101.2 216.72 L104.9 219.96 L108.6 213.71 L112.3 197.52 L116 210.45 L119.7 210.43 L123.4 185.07 L127.1 184.39 L130.8 196.16" fill="none" stroke="#7183bd" stroke-width="1.3" stroke-linejoin="round"/>
<path d="M34.6 222.41 L38.3 235.02 L42 231.8 L45.7 215.26 L49.4 225.83 L53.1 228.8 L56.8 237 L60.5 219.13 L64.2 218.74 L67.9 219.07 L71.6 222.84 L75.3 217.07 L79 220.91 L82.7 228.81 L86.4 225.93 L90.1 224.35 L93.8 222.9 L97.5 225.95 L101.2 220.09 L104.9 220.01 L108.6 235.5 L112.3 212.21 L116 213.6 L119.7 220.18 L123.4 193.18 L127.1 196.81 L130.8 197.34" fill="none" stroke="#7183bd" stroke-width="1.3" stroke-linejoin="round"/>
<path d="M34.6 240 L38.3 237 L42 223.22 L45.7 221.85 L49.4 221.49 L53.1 227.03 L56.8 223 L60.5 218.75 L64.2 222.67 L67.9 225.1 L71.6 217.81 L75.3 219.65 L79 230.38 L82.7 226.27 L86.4 227.64 L90.1 226.94 L93.8 222.32 L97.5 221.5 L101.2 216.62 L104.9 221.18 L108.6 219.25 L112.3 210.95 L116 211.73 L119.7 213.36 L123.4 192.96 L127.1 209.54 L130.8 193.15" fill="none" stroke="#7183bd" stroke-width="1.3" stroke-linejoin="round"/>
<path d="M34.6 216.2 L38.3 222.6 L42 219.04 L45.7 222.09 L49.4 227.3 L53.1 220.24 L56.8 222.13 L60.5 221.84 L64.2 216.4 L67.9 213.8 L71.6 217.28 L75.3 214.86 L79 222.03 L82.7 220.05 L86.4 225.06 L90.1 222.32 L93.8 215.53 L97.5 210.65 L101.2 209.89 L104.9 196.1 L108.6 205.65 L112.3 204.99 L116 199.9 L119.7 197.87 L123.4 213.2 L127.1 193.56 L130.8 183.81" fill="none" stroke="#7183bd" stroke-width="1.3" stroke-linejoin="round"/>
<path d="M34.6 224.61 L38.3 225.19 L42 228.34 L45.7 227.22 L49.4 217.01 L53.1 219.57 L56.8 225.1 L60.5 227.56 L64.2 222.32 L67.9 218.99 L71.6 224.4 L75.3 223.26 L79 237 L82.7 237.8 L86.4 237.8 L90.1 231.96 L93.8 231.22 L97.5 226.69 L101.2 221.95 L104.9 220.26 L108.6 232.73 L112.3 221.74 L116 222.02 L119.7 212.33 L123.4 191.41 L127.1 195.79 L130.8 210.2" fill="none" stroke="#7183bd" stroke-width="1.3" stroke-linejoin="round"/>
<path d="M34.6 221.44 L38.3 219.77 L42 219.56 L45.7 208.69 L49.4 216.11 L53.1 209.5 L56.8 219.16 L60.5 220.83 L64.2 216.73 L67.9 218.17 L71.6 217.52 L75.3 216.88 L79 220.58 L82.7 225.22 L86.4 215.77 L90.1 225.93 L93.8 225.47 L97.5 226.01 L101.2 230.87 L104.9 217.99 L108.6 217.68 L112.3 207.86 L116 211.32 L119.7 210.17 L123.4 194.69 L127.1 197.32 L130.8 196.89" fill="none" stroke="#7183bd" stroke-width="1.3" stroke-linejoin="round"/>
<path d="M34.6 220.24 L38.3 221.86 L42 213.75 L45.7 217.86 L49.4 220.13 L53.1 221.58 L56.8 209 L60.5 207.2 L64.2 209.44 L67.9 201.3 L71.6 201.6 L75.3 208 L79 211 L82.7 217.6 L86.4 211.7 L90.1 210.2 L93.8 209.5 L97.5 207.2 L101.2 204.2 L104.9 203.12 L108.6 199 L112.3 194.6 L116 196.8 L119.7 196.1 L123.4 180.4 L127.1 181.2 L130.8 180.4" fill="none" stroke="#7183bd" stroke-width="1.3" stroke-linejoin="round"/>
<path d="M34.6 226.03 L38.3 223.51 L42 220.18 L45.7 215.48 L49.4 210.7 L53.1 222.7 L56.8 227.89 L60.5 233.81 L64.2 229.33 L67.9 218.94 L71.6 216.76 L75.3 214.73 L79 223.48 L82.7 227.48 L86.4 223.26 L90.1 219.58 L93.8 224.72 L97.5 225.86 L101.2 214.89 L104.9 220.28 L108.6 213.03 L112.3 207.47 L116 209.59 L119.7 211.09 L123.4 190.38 L127.1 193.97 L130.8 192.29" fill="none" stroke="#7183bd" stroke-width="1.3" stroke-linejoin="round"/>
<path d="M34.6 218.01 L38.3 217.7 L42 211 L45.7 206.5 L49.4 205.7 L53.1 215.43 L56.8 220.44 L60.5 217.89 L64.2 201.24 L67.9 216.05 L71.6 215.18 L75.3 216.86 L79 228.25 L82.7 230.61 L86.4 227.82 L90.1 225.33 L93.8 225.14 L97.5 225.76 L101.2 218.73 L104.9 213.45 L108.6 212.8 L112.3 207.08 L116 213.15 L119.7 208.48 L123.4 191.56 L127.1 194.5 L130.8 194.98" fill="none" stroke="#7183bd" stroke-width="1.3" stroke-linejoin="round"/>
<path d="M34.6 221.84 L38.3 222.69 L42 222.81 L45.7 216.48 L49.4 216.13 L53.1 214.58 L56.8 222.55 L60.5 211.05 L64.2 198.3 L67.9 216.2 L71.6 206.07 L75.3 209.04 L79 212.58 L82.7 226.79 L86.4 223.41 L90.1 213.85 L93.8 219.45 L97.5 215.8 L101.2 217.93 L104.9 230.34 L108.6 218.31 L112.3 224.4 L116 224.4 L119.7 224.4 L123.4 188.62 L127.1 193.88 L130.8 197.5" fill="none" stroke="#7183bd" stroke-width="1.3" stroke-linejoin="round"/>
<path d="M34.6 223.6 L38.3 223.6 L42 222.1 L45.7 219.4 L49.4 221.1 L53.1 223.2 L56.8 223.9 L60.5 223.2 L64.2 222.1 L67.9 218.7 L71.6 218.4 L75.3 218.1 L79 225.8 L82.7 228.5 L86.4 227 L90.1 225.5 L93.8 225.1 L97.5 225.8 L101.2 221.4 L104.9 219.9 L108.6 218.7 L112.3 211.7 L116 213.9 L119.7 211 L123.4 192.3 L127.1 195.3 L130.8 196.1" fill="none" stroke="#1e2a62" stroke-width="1.4" stroke-linejoin="round" stroke-linecap="round"/>
<path d="M144.65 229.6 L148.35 223.22 L152.05 224.47 L155.75 227.15 L159.45 225.94 L163.15 223.85 L166.85 229.25 L170.55 228.66 L174.25 227.24 L177.95 196.65 L181.65 198.24 L185.35 199.02 L189.05 226.3 L192.75 226.54 L196.45 228.21 L200.15 238.91 L203.85 234.8 L207.55 227.3 L211.25 224.62 L214.95 226.6 L218.65 222.6 L222.35 234.8 L226.05 223.42 L229.75 217.99 L233.45 223.08 L237.15 230.3 L240.85 229.6" fill="none" stroke="#7183bd" stroke-width="1.3" stroke-linejoin="round"/>
<path d="M144.65 220.36 L148.35 226.4 L152.05 226.53 L155.75 223.42 L159.45 225.23 L163.15 224 L166.85 245.2 L170.55 238.71 L174.25 235.67 L177.95 203.22 L181.65 200.49 L185.35 202.16 L189.05 226.74 L192.75 231.93 L196.45 231.1 L200.15 232.67 L203.85 229.08 L207.55 226.4 L211.25 216.82 L214.95 223.58 L218.65 211.42 L222.35 225.31 L226.05 232.81 L229.75 224.04 L233.45 231.1 L237.15 227.89 L240.85 224.49" fill="none" stroke="#7183bd" stroke-width="1.3" stroke-linejoin="round"/>
<path d="M144.65 221.25 L148.35 226.22 L152.05 214.81 L155.75 218.21 L159.45 217.11 L163.15 222.15 L166.85 228.52 L170.55 224.75 L174.25 227.19 L177.95 198.15 L181.65 196.12 L185.35 187.84 L189.05 215.18 L192.75 217.99 L196.45 217.6 L200.15 225.01 L203.85 224.58 L207.55 226.28 L211.25 207.01 L214.95 211.37 L218.65 210.92 L222.35 219.09 L226.05 219.14 L229.75 212.99 L233.45 214.71 L237.15 216.3 L240.85 207.73" fill="none" stroke="#7183bd" stroke-width="1.3" stroke-linejoin="round"/>
<path d="M144.65 227.48 L148.35 227.51 L152.05 227.36 L155.75 224.1 L159.45 228.8 L163.15 223.71 L166.85 231.88 L170.55 233.52 L174.25 245.2 L177.95 206.78 L181.65 199.14 L185.35 209.5 L189.05 225.52 L192.75 230.45 L196.45 227.31 L200.15 229.67 L203.85 224.95 L207.55 226.33 L211.25 210.57 L214.95 216.26 L218.65 215.7 L222.35 225.01 L226.05 225.9 L229.75 231.1 L233.45 229.87 L237.15 223.98 L240.85 226.34" fill="none" stroke="#7183bd" stroke-width="1.3" stroke-linejoin="round"/>
<path d="M144.65 217.82 L148.35 202.6 L152.05 216.95 L155.75 212.51 L159.45 217.6 L163.15 223.16 L166.85 227.72 L170.55 227.67 L174.25 226.47 L177.95 199.56 L181.65 200.28 L185.35 202.91 L189.05 225.65 L192.75 225.22 L196.45 222.55 L200.15 225.62 L203.85 226.86 L207.55 226.39 L211.25 211.43 L214.95 207.7 L218.65 213.22 L222.35 223.31 L226.05 221.23 L229.75 218.71 L233.45 220.05 L237.15 221.83 L240.85 216.37" fill="none" stroke="#7183bd" stroke-width="1.3" stroke-linejoin="round"/>
<path d="M144.65 209.18 L148.35 219.51 L152.05 224.09 L155.75 224.29 L159.45 223.91 L163.15 221.92 L166.85 227.66 L170.55 228.67 L174.25 228.17 L177.95 199.02 L181.65 199.77 L185.35 197.22 L189.05 224.14 L192.75 229 L196.45 226.44 L200.15 226.49 L203.85 225.83 L207.55 226.12 L211.25 201.78 L214.95 208.58 L218.65 204.22 L222.35 215.31 L226.05 210.3 L229.75 212.86 L233.45 219.78 L237.15 221.39 L240.85 220.66" fill="none" stroke="#7183bd" stroke-width="1.3" stroke-linejoin="round"/>
<path d="M144.65 220.36 L148.35 216.44 L152.05 219.93 L155.75 224.13 L159.45 226.55 L163.15 223.76 L166.85 229.15 L170.55 231.27 L174.25 234.99 L177.95 200.03 L181.65 210.2 L185.35 206.12 L189.05 222.71 L192.75 226.29 L196.45 226.46 L200.15 230.94 L203.85 229.48 L207.55 226.93 L211.25 220.63 L214.95 213.05 L218.65 214.66 L222.35 220.04 L226.05 222.11 L229.75 217.15 L233.45 221.25 L237.15 223.74 L240.85 221.71" fill="none" stroke="#7183bd" stroke-width="1.3" stroke-linejoin="round"/>
<path d="M144.65 222.24 L148.35 223.63 L152.05 217.47 L155.75 222.15 L159.45 219.22 L163.15 214.23 L166.85 223.92 L170.55 228.1 L174.25 227.41 L177.95 194.27 L181.65 194.67 L185.35 200.09 L189.05 220.58 L192.75 224.02 L196.45 226.58 L200.15 227.15 L203.85 224.93 L207.55 226.32 L211.25 204.57 L214.95 206.75 L218.65 212.84 L222.35 220.37 L226.05 223.89 L229.75 219.38 L233.45 219.61 L237.15 221.92 L240.85 220.13" fill="none" stroke="#7183bd" stroke-width="1.3" stroke-linejoin="round"/>
<path d="M144.65 217.84 L148.35 214.96 L152.05 200.5 L155.75 224.23 L159.45 223.75 L163.15 221.88 L166.85 228 L170.55 230.16 L174.25 226.28 L177.95 197.95 L181.65 201.22 L185.35 198.01 L189.05 224.63 L192.75 223.97 L196.45 224.86 L200.15 226.79 L203.85 223.39 L207.55 224.25 L211.25 199.58 L214.95 199.24 L218.65 202.21 L222.35 210.66 L226.05 218.56 L229.75 204.02 L233.45 215.45 L237.15 221.3 L240.85 220.38" fill="none" stroke="#7183bd" stroke-width="1.3" stroke-linejoin="round"/>
<path d="M144.65 213.25 L148.35 216.08 L152.05 212.64 L155.75 221.37 L159.45 209.5 L163.15 221.54 L166.85 228.84 L170.55 228.19 L174.25 223.44 L177.95 184.1 L181.65 189.81 L185.35 197.5 L189.05 221.56 L192.75 214.7 L196.45 221.92 L200.15 225.3 L203.85 219.05 L207.55 219.32 L211.25 185.6 L214.95 183.4 L218.65 194.92 L222.35 215.45 L226.05 219.56 L229.75 214.84 L233.45 205.66 L237.15 207.31 L240.85 216.6" fill="none" stroke="#7183bd" stroke-width="1.3" stroke-linejoin="round"/>
<path d="M144.65 215.23 L148.35 220.51 L152.05 222.16 L155.75 224.73 L159.45 222.92 L163.15 223.14 L166.85 228.4 L170.55 227.85 L174.25 227.76 L177.95 195.59 L181.65 196.49 L185.35 198.05 L189.05 230.24 L192.75 230.61 L196.45 228.56 L200.15 232.09 L203.85 227.72 L207.55 226.07 L211.25 203.69 L214.95 208.01 L218.65 206.17 L222.35 224.54 L226.05 220.04 L229.75 223 L233.45 221.56 L237.15 222.42 L240.85 222.56" fill="none" stroke="#7183bd" stroke-width="1.3" stroke-linejoin="round"/>
<path d="M144.65 219.62 L148.35 221.25 L152.05 224.97 L155.75 225.04 L159.45 223.08 L163.15 223.77 L166.85 229.65 L170.55 231.12 L174.25 231.55 L177.95 198.17 L181.65 197.83 L185.35 200.47 L189.05 221.98 L192.75 225.79 L196.45 227 L200.15 222.65 L203.85 225.64 L207.55 226.55 L211.25 206.39 L214.95 199.48 L218.65 211.11 L222.35 225.43 L226.05 221.38 L229.75 220.09 L233.45 223.24 L237.15 222.24 L240.85 221.24" fill="none" stroke="#7183bd" stroke-width="1.3" stroke-linejoin="round"/>
<path d="M144.65 221.33 L148.35 233.3 L152.05 227.03 L155.75 225.23 L159.45 225.5 L163.15 223.07 L166.85 228.64 L170.55 228.69 L174.25 236.25 L177.95 199.82 L181.65 199.56 L185.35 195 L189.05 223.84 L192.75 228.4 L196.45 226.06 L200.15 226.92 L203.85 226.71 L207.55 226.27 L211.25 230.3 L214.95 214.67 L218.65 210.94 L222.35 224.32 L226.05 226.95 L229.75 222.15 L233.45 220.5 L237.15 222.01 L240.85 222.43" fill="none" stroke="#7183bd" stroke-width="1.3" stroke-linejoin="round"/>
<path d="M144.65 205 L148.35 200.5 L152.05 207.27 L155.75 207.2 L159.45 213.51 L163.15 213.2 L166.85 222.1 L170.55 222.9 L174.25 222.9 L177.95 188.31 L181.65 184.9 L185.35 183.7 L189.05 211.7 L192.75 221.23 L196.45 220.04 L200.15 219.9 L203.85 216.9 L207.55 217.6 L211.25 188.84 L214.95 191.58 L218.65 192.3 L222.35 209.5 L226.05 205.7 L229.75 201.3 L233.45 199.8 L237.15 204.2 L240.85 203.5" fill="none" stroke="#7183bd" stroke-width="1.3" stroke-linejoin="round"/>
<path d="M144.65 222.29 L148.35 222.72 L152.05 225.42 L155.75 228.8 L159.45 225.78 L163.15 224.74 L166.85 240.71 L170.55 232.31 L174.25 228.53 L177.95 199.02 L181.65 205.59 L185.35 203.43 L189.05 227.32 L192.75 227.82 L196.45 227.72 L200.15 230.35 L203.85 229.43 L207.55 226.35 L211.25 203.77 L214.95 209.06 L218.65 211.86 L222.35 220.74 L226.05 235.5 L229.75 227.64 L233.45 222.6 L237.15 223.04 L240.85 220.03" fill="none" stroke="#7183bd" stroke-width="1.3" stroke-linejoin="round"/>
<path d="M144.65 220.4 L148.35 218.42 L152.05 226.79 L155.75 224.13 L159.45 225.64 L163.15 224.04 L166.85 230.95 L170.55 230.84 L174.25 234.23 L177.95 211 L181.65 200.62 L185.35 202.42 L189.05 227.74 L192.75 228.6 L196.45 229.05 L200.15 232.97 L203.85 226.82 L207.55 224.43 L211.25 205.15 L214.95 201.16 L218.65 206.79 L222.35 216.5 L226.05 220.77 L229.75 218.88 L233.45 219.09 L237.15 221.09 L240.85 224.71" fill="none" stroke="#7183bd" stroke-width="1.3" stroke-linejoin="round"/>
<path d="M144.65 216.5 L148.35 227.97 L152.05 231.1 L155.75 223.03 L159.45 224.54 L163.15 225.8 L166.85 232.73 L170.55 242.2 L174.25 242.03 L177.95 203.55 L181.65 200.32 L185.35 203.38 L189.05 231.8 L192.75 234.8 L196.45 228.13 L200.15 242.2 L203.85 233.22 L207.55 226.5 L211.25 208.17 L214.95 208.32 L218.65 228.8 L222.35 228.76 L226.05 223.07 L229.75 219.95 L233.45 223.56 L237.15 222.25 L240.85 220.11" fill="none" stroke="#7183bd" stroke-width="1.3" stroke-linejoin="round"/>
<path d="M144.65 218.7 L148.35 219.1 L152.05 220.6 L155.75 222.1 L159.45 222.6 L163.15 222.9 L166.85 228.8 L170.55 228.8 L174.25 228.1 L177.95 196.8 L181.65 197.5 L185.35 197.5 L189.05 223.6 L192.75 225.1 L196.45 225.8 L200.15 227 L203.85 226.1 L207.55 226.1 L211.25 205.4 L214.95 206.5 L218.65 208.7 L222.35 219.1 L226.05 220.6 L229.75 219.1 L233.45 219.6 L237.15 219.9 L240.85 220.2" fill="none" stroke="#1e2a62" stroke-width="1.4" stroke-linejoin="round" stroke-linecap="round"/>
<path d="M254.75 187.32 L258.45 193.21 L262.15 195.94 L265.85 221.36 L269.55 222.33 L273.25 222.97 L276.95 224.24 L280.65 224.53 L284.35 222.99 L288.05 219.81 L291.75 224.35 L295.45 221.98 L299.15 221.8 L302.85 222.22 L306.55 219.6 L310.25 223.49 L313.95 222.96 L317.65 221.81 L321.35 178.03 L325.05 181.06 L328.75 196.53 L332.45 216.63 L336.15 219.87 L339.85 223.13 L343.55 225.16 L347.25 221.51 L350.95 220.24" fill="none" stroke="#7183bd" stroke-width="1.3" stroke-linejoin="round"/>
<path d="M254.75 207.84 L258.45 209.22 L262.15 206.91 L265.85 222.81 L269.55 222.26 L273.25 221.62 L276.95 225.48 L280.65 225.96 L284.35 224.99 L288.05 222.49 L291.75 222.48 L295.45 223.86 L299.15 229.52 L302.85 227.43 L306.55 228.31 L310.25 225.78 L313.95 225.47 L317.65 225.75 L321.35 200.17 L325.05 198.8 L328.75 201.67 L332.45 228.45 L336.15 224.27 L339.85 221.99 L343.55 224.59 L347.25 228.71 L350.95 226.18" fill="none" stroke="#7183bd" stroke-width="1.3" stroke-linejoin="round"/>
<path d="M254.75 202.03 L258.45 193.67 L262.15 201.48 L265.85 220.81 L269.55 220.9 L273.25 218.24 L276.95 224.89 L280.65 225.07 L284.35 223.83 L288.05 220.36 L291.75 221.83 L295.45 222.86 L299.15 222.84 L302.85 223.7 L306.55 226.24 L310.25 226.39 L313.95 225.95 L317.65 225.96 L321.35 196.51 L325.05 205.35 L328.75 207.79 L332.45 220 L336.15 219.19 L339.85 220.84 L343.55 225.09 L347.25 222.98 L350.95 225.69" fill="none" stroke="#7183bd" stroke-width="1.3" stroke-linejoin="round"/>
<path d="M254.75 197.27 L258.45 193.22 L262.15 202.22 L265.85 220.47 L269.55 220.16 L273.25 219.25 L276.95 223.69 L280.65 225.37 L284.35 223.66 L288.05 220.51 L291.75 220.03 L295.45 221.29 L299.15 223.39 L302.85 226.82 L306.55 224.98 L310.25 225.51 L313.95 223.9 L317.65 225.88 L321.35 200.43 L325.05 204.55 L328.75 196.44 L332.45 217.66 L336.15 221.95 L339.85 222 L343.55 224.14 L347.25 226.71 L350.95 224.24" fill="none" stroke="#7183bd" stroke-width="1.3" stroke-linejoin="round"/>
<path d="M254.75 211.07 L258.45 209.25 L262.15 201.46 L265.85 222.14 L269.55 222.52 L273.25 223.76 L276.95 225.37 L280.65 225.4 L284.35 224.99 L288.05 222.98 L291.75 221.79 L295.45 217.65 L299.15 223.1 L302.85 224.17 L306.55 227.11 L310.25 227.57 L313.95 226.83 L317.65 226.13 L321.35 201.32 L325.05 207.07 L328.75 200.49 L332.45 220.85 L336.15 219.84 L339.85 222.22 L343.55 227.94 L347.25 227.06 L350.95 226.32" fill="none" stroke="#7183bd" stroke-width="1.3" stroke-linejoin="round"/>
<path d="M254.75 200.37 L258.45 203.28 L262.15 200.77 L265.85 219.78 L269.55 223.5 L273.25 220.21 L276.95 221.64 L280.65 222.58 L284.35 223.96 L288.05 222.2 L291.75 221.39 L295.45 219.67 L299.15 221.24 L302.85 221.13 L306.55 223.94 L310.25 225.09 L313.95 225.58 L317.65 225.3 L321.35 202.95 L325.05 198.89 L328.75 204.77 L332.45 218.22 L336.15 219.55 L339.85 216.98 L343.55 221.51 L347.25 230.45 L350.95 227.73" fill="none" stroke="#7183bd" stroke-width="1.3" stroke-linejoin="round"/>
<path d="M254.75 194.96 L258.45 195.48 L262.15 202.49 L265.85 221.68 L269.55 220.96 L273.25 222.1 L276.95 224.17 L280.65 223.01 L284.35 225.24 L288.05 222.84 L291.75 221.96 L295.45 220.83 L299.15 221.33 L302.85 219.89 L306.55 217.72 L310.25 216.9 L313.95 221.78 L317.65 221.54 L321.35 197.53 L325.05 203.6 L328.75 195.98 L332.45 214.49 L336.15 217.76 L339.85 217.75 L343.55 226.28 L347.25 225.36 L350.95 225.53" fill="none" stroke="#7183bd" stroke-width="1.3" stroke-linejoin="round"/>
<path d="M254.75 208.14 L258.45 206.53 L262.15 206.35 L265.85 222.14 L269.55 222.84 L273.25 223.58 L276.95 226.98 L280.65 226.08 L284.35 225.99 L288.05 224.52 L291.75 229.28 L295.45 227.42 L299.15 227.14 L302.85 225.04 L306.55 225.92 L310.25 223.66 L313.95 224.94 L317.65 223.83 L321.35 197.94 L325.05 212.14 L328.75 201.36 L332.45 223.29 L336.15 224.29 L339.85 223.66 L343.55 230.04 L347.25 230.88 L350.95 234.27" fill="none" stroke="#7183bd" stroke-width="1.3" stroke-linejoin="round"/>
<path d="M254.75 211.67 L258.45 210.61 L262.15 208.42 L265.85 222.05 L269.55 222.52 L273.25 223.73 L276.95 226.4 L280.65 225.96 L284.35 227.41 L288.05 229.08 L291.75 225.4 L295.45 224.77 L299.15 225.59 L302.85 230.27 L306.55 232.06 L310.25 234.8 L313.95 231.8 L317.65 227.54 L321.35 220.73 L325.05 212.68 L328.75 208.37 L332.45 224.94 L336.15 223.49 L339.85 232.5 L343.55 228.88 L347.25 227.27 L350.95 225.68" fill="none" stroke="#7183bd" stroke-width="1.3" stroke-linejoin="round"/>
<path d="M254.75 215.52 L258.45 213.36 L262.15 212.52 L265.85 222.53 L269.55 224.07 L273.25 223.62 L276.95 224.45 L280.65 225.86 L284.35 224.07 L288.05 220.84 L291.75 224.42 L295.45 227.52 L299.15 225.79 L302.85 225.6 L306.55 228.21 L310.25 226.72 L313.95 226.66 L317.65 227.69 L321.35 205.6 L325.05 208.69 L328.75 225.8 L332.45 223.89 L336.15 222.23 L339.85 225.03 L343.55 230.3 L347.25 229.23 L350.95 226.75" fill="none" stroke="#7183bd" stroke-width="1.3" stroke-linejoin="round"/>
<path d="M254.75 204.84 L258.45 204.9 L262.15 197.84 L265.85 219.12 L269.55 222.81 L273.25 221.63 L276.95 223.36 L280.65 222.2 L284.35 224.44 L288.05 221.55 L291.75 218.66 L295.45 211.49 L299.15 219.56 L302.85 224.02 L306.55 223.59 L310.25 225.34 L313.95 224.97 L317.65 225.55 L321.35 198.22 L325.05 202.62 L328.75 195.31 L332.45 224.1 L336.15 229.09 L339.85 220.62 L343.55 223.55 L347.25 221.72 L350.95 222.4" fill="none" stroke="#7183bd" stroke-width="1.3" stroke-linejoin="round"/>
<path d="M254.75 210.05 L258.45 209.7 L262.15 205.99 L265.85 224 L269.55 229.6 L273.25 228.8 L276.95 230.6 L280.65 227.16 L284.35 231.29 L288.05 226.44 L291.75 225.19 L295.45 226.28 L299.15 231.8 L302.85 234 L306.55 235.5 L310.25 230.82 L313.95 226.55 L317.65 225.25 L321.35 207.86 L325.05 232.5 L328.75 208.23 L332.45 225.14 L336.15 223.32 L339.85 230.88 L343.55 227.45 L347.25 228.72 L350.95 225.28" fill="none" stroke="#7183bd" stroke-width="1.3" stroke-linejoin="round"/>
<path d="M254.75 199.46 L258.45 198.04 L262.15 200.12 L265.85 221.45 L269.55 223.08 L273.25 223.29 L276.95 223.75 L280.65 223.29 L284.35 224.04 L288.05 218.41 L291.75 219.3 L295.45 221.24 L299.15 223.52 L302.85 224.12 L306.55 223.56 L310.25 224.34 L313.95 222.57 L317.65 223.93 L321.35 192.68 L325.05 201.33 L328.75 200.65 L332.45 222.23 L336.15 222.53 L339.85 222.88 L343.55 221.46 L347.25 221.02 L350.95 216.38" fill="none" stroke="#7183bd" stroke-width="1.3" stroke-linejoin="round"/>
<path d="M254.75 207.11 L258.45 209.45 L262.15 212.18 L265.85 222.94 L269.55 222.08 L273.25 223.14 L276.95 225.56 L280.65 225.9 L284.35 226.31 L288.05 222.72 L291.75 220.45 L295.45 222.28 L299.15 224.1 L302.85 225.67 L306.55 225.82 L310.25 224.5 L313.95 227 L317.65 226.59 L321.35 202.29 L325.05 202.99 L328.75 207.55 L332.45 220.8 L336.15 221.47 L339.85 222.15 L343.55 223.36 L347.25 222.89 L350.95 225.93" fill="none" stroke="#7183bd" stroke-width="1.3" stroke-linejoin="round"/>
<path d="M254.75 210.43 L258.45 210.44 L262.15 211.85 L265.85 222.37 L269.55 224.19 L273.25 223.84 L276.95 226.82 L280.65 225.65 L284.35 226.19 L288.05 224.75 L291.75 231.8 L295.45 230.35 L299.15 226.43 L302.85 227.43 L306.55 228.02 L310.25 228.88 L313.95 226.38 L317.65 230.98 L321.35 224.4 L325.05 221.12 L328.75 208.75 L332.45 224.95 L336.15 223.16 L339.85 223.28 L343.55 218.45 L347.25 226.95 L350.95 225.38" fill="none" stroke="#7183bd" stroke-width="1.3" stroke-linejoin="round"/>
<path d="M254.75 212.02 L258.45 219.79 L262.15 219.66 L265.85 228.1 L269.55 227.42 L273.25 226.5 L276.95 231.8 L280.65 230.3 L284.35 232.5 L288.05 231.1 L291.75 225.76 L295.45 232.5 L299.15 225.08 L302.85 227.78 L306.55 227.56 L310.25 227.77 L313.95 226.82 L317.65 231.8 L321.35 206.47 L325.05 211.68 L328.75 209.96 L332.45 231.1 L336.15 231.8 L339.85 226 L343.55 236.3 L347.25 234.72 L350.95 227.76" fill="none" stroke="#7183bd" stroke-width="1.3" stroke-linejoin="round"/>
<path d="M254.75 198.98 L258.45 195.61 L262.15 200.12 L265.85 219.08 L269.55 220.89 L273.25 222.58 L276.95 221.05 L280.65 218.61 L284.35 222.65 L288.05 209.83 L291.75 217.82 L295.45 215.54 L299.15 219.02 L302.85 213.23 L306.55 221.59 L310.25 223.07 L313.95 220.86 L317.65 223.68 L321.35 194.74 L325.05 191.71 L328.75 188.9 L332.45 211.7 L336.15 215.39 L339.85 209.87 L343.55 201.3 L347.25 208.85 L350.95 217.21" fill="none" stroke="#7183bd" stroke-width="1.3" stroke-linejoin="round"/>
<path d="M254.75 202.87 L258.45 197.11 L262.15 197.28 L265.85 219.32 L269.55 221.26 L273.25 221.33 L276.95 220.81 L280.65 221.79 L284.35 221.28 L288.05 215.46 L291.75 216.95 L295.45 219.02 L299.15 219.85 L302.85 220.57 L306.55 221.43 L310.25 223.39 L313.95 222.72 L317.65 222.48 L321.35 194.67 L325.05 194.14 L328.75 205.65 L332.45 223.4 L336.15 221.68 L339.85 218.92 L343.55 224.09 L347.25 224.17 L350.95 223.87" fill="none" stroke="#7183bd" stroke-width="1.3" stroke-linejoin="round"/>
<path d="M254.75 205.84 L258.45 207.14 L262.15 203.41 L265.85 221.64 L269.55 223.27 L273.25 223.55 L276.95 225.88 L280.65 228.51 L284.35 224.74 L288.05 225.31 L291.75 223.41 L295.45 226.04 L299.15 226.14 L302.85 225.5 L306.55 227.62 L310.25 228.19 L313.95 226.1 L317.65 226.11 L321.35 201.05 L325.05 204.08 L328.75 202.67 L332.45 220.48 L336.15 216.94 L339.85 222.46 L343.55 224.91 L347.25 225.04 L350.95 227.51" fill="none" stroke="#7183bd" stroke-width="1.3" stroke-linejoin="round"/>
<path d="M254.75 203.85 L258.45 202.38 L262.15 198.08 L265.85 222.04 L269.55 220.22 L273.25 220.29 L276.95 224.68 L280.65 224.95 L284.35 226.36 L288.05 224.88 L291.75 222.16 L295.45 222.49 L299.15 222.54 L302.85 223.98 L306.55 223.99 L310.25 226.44 L313.95 226.47 L317.65 225.45 L321.35 195.4 L325.05 201.81 L328.75 215.57 L332.45 220.38 L336.15 221.23 L339.85 224.46 L343.55 226.95 L347.25 226.67 L350.95 225.04" fill="none" stroke="#7183bd" stroke-width="1.3" stroke-linejoin="round"/>
<path d="M254.75 203.97 L258.45 206.46 L262.15 204.76 L265.85 221.61 L269.55 221.79 L273.25 222.54 L276.95 223.67 L280.65 223.26 L284.35 223.59 L288.05 220.57 L291.75 222.53 L295.45 217.06 L299.15 221.47 L302.85 222.34 L306.55 223.84 L310.25 222.57 L313.95 220.54 L317.65 217.82 L321.35 189.55 L325.05 192.71 L328.75 192.98 L332.45 217.14 L336.15 219.48 L339.85 223.59 L343.55 226.8 L347.25 224.47 L350.95 222.38" fill="none" stroke="#7183bd" stroke-width="1.3" stroke-linejoin="round"/>
<path d="M254.75 180.4 L258.45 181.01 L262.15 196.16 L265.85 216.93 L269.55 211.41 L273.25 215.31 L276.95 219.15 L280.65 209.5 L284.35 221.44 L288.05 217.47 L291.75 216.4 L295.45 207.2 L299.15 210.2 L302.85 211.7 L306.55 215.4 L310.25 214.7 L313.95 214.7 L317.65 215.3 L321.35 175.2 L325.05 176.7 L328.75 179.7 L332.45 199.8 L336.15 205.7 L339.85 205 L343.55 207.4 L347.25 200.5 L350.95 199.8" fill="none" stroke="#7183bd" stroke-width="1.3" stroke-linejoin="round"/>
<path d="M254.75 205.53 L258.45 197.06 L262.15 202.45 L265.85 221.66 L269.55 222.62 L273.25 221.35 L276.95 223.71 L280.65 225.01 L284.35 224.38 L288.05 220.24 L291.75 221.44 L295.45 220.53 L299.15 223.9 L302.85 223.55 L306.55 226.16 L310.25 226.05 L313.95 225.36 L317.65 226.14 L321.35 205.18 L325.05 201.76 L328.75 191.53 L332.45 220.07 L336.15 220.42 L339.85 222.56 L343.55 226.13 L347.25 226.07 L350.95 225.94" fill="none" stroke="#7183bd" stroke-width="1.3" stroke-linejoin="round"/>
<path d="M254.75 202.29 L258.45 204.7 L262.15 203.06 L265.85 219.87 L269.55 220.75 L273.25 223 L276.95 225.63 L280.65 224.87 L284.35 223.64 L288.05 220.22 L291.75 221.37 L295.45 219.17 L299.15 220.33 L302.85 224.85 L306.55 225.61 L310.25 225.21 L313.95 224.56 L317.65 225.64 L321.35 199.77 L325.05 195.3 L328.75 195.66 L332.45 215.09 L336.15 223 L339.85 216.77 L343.55 214.63 L347.25 216.92 L350.95 211.74" fill="none" stroke="#7183bd" stroke-width="1.3" stroke-linejoin="round"/>
<path d="M254.75 197.03 L258.45 198.66 L262.15 194.95 L265.85 213.75 L269.55 218.05 L273.25 216.99 L276.95 213.9 L280.65 217.51 L284.35 216.2 L288.05 216.18 L291.75 207.2 L295.45 215.07 L299.15 214.71 L302.85 222.23 L306.55 222.66 L310.25 223.16 L313.95 221.49 L317.65 219.58 L321.35 191.16 L325.05 195.27 L328.75 189.97 L332.45 211.8 L336.15 218.71 L339.85 215.6 L343.55 221.76 L347.25 212.72 L350.95 202.58" fill="none" stroke="#7183bd" stroke-width="1.3" stroke-linejoin="round"/>
<path d="M254.75 222.9 L258.45 223.6 L262.15 225.8 L265.85 225.49 L269.55 223.73 L273.25 223.03 L276.95 226.31 L280.65 225.98 L284.35 226.96 L288.05 225.45 L291.75 225.55 L295.45 225.8 L299.15 226.91 L302.85 226.65 L306.55 228.73 L310.25 228.29 L313.95 230.06 L317.65 226.52 L321.35 202.12 L325.05 205.83 L328.75 207.93 L332.45 220.81 L336.15 224.53 L339.85 223.75 L343.55 234.1 L347.25 240 L350.95 235.5" fill="none" stroke="#7183bd" stroke-width="1.3" stroke-linejoin="round"/>
<path d="M254.75 196.25 L258.45 173 L262.15 178.9 L265.85 209.5 L269.55 210.2 L273.25 210.9 L276.95 215.01 L280.65 214.94 L284.35 218.12 L288.05 207.2 L291.75 211.49 L295.45 220.27 L299.15 219.1 L302.85 220.37 L306.55 220.51 L310.25 220.96 L313.95 216.3 L317.65 212.4 L321.35 188.21 L325.05 195.32 L328.75 183.11 L332.45 204.89 L336.15 208.94 L339.85 216.39 L343.55 219.01 L347.25 215.6 L350.95 210.62" fill="none" stroke="#7183bd" stroke-width="1.3" stroke-linejoin="round"/>
<path d="M254.75 197.57 L258.45 194.86 L262.15 188.31 L265.85 220.6 L269.55 220.65 L273.25 223.64 L276.95 223.85 L280.65 225.46 L284.35 223.81 L288.05 221.57 L291.75 221.92 L295.45 222.65 L299.15 222.64 L302.85 222.95 L306.55 222.99 L310.25 226.5 L313.95 225.58 L317.65 224.54 L321.35 197.25 L325.05 202.37 L328.75 192.13 L332.45 219.89 L336.15 219.25 L339.85 215.46 L343.55 223.96 L347.25 217.84 L350.95 219.32" fill="none" stroke="#7183bd" stroke-width="1.3" stroke-linejoin="round"/>
<path d="M254.75 207.25 L258.45 208.11 L262.15 209.51 L265.85 223.78 L269.55 223.64 L273.25 223.32 L276.95 222.9 L280.65 224.06 L284.35 224.56 L288.05 224.23 L291.75 222.35 L295.45 219.66 L299.15 223.56 L302.85 222.72 L306.55 221.94 L310.25 225.58 L313.95 226.29 L317.65 226.1 L321.35 204.01 L325.05 193.65 L328.75 189.09 L332.45 215.26 L336.15 221.72 L339.85 219.38 L343.55 226.29 L347.25 225.05 L350.95 224.77" fill="none" stroke="#7183bd" stroke-width="1.3" stroke-linejoin="round"/>
<path d="M254.75 204.57 L258.45 207.21 L262.15 203.39 L265.85 220.12 L269.55 220.59 L273.25 219.99 L276.95 222.35 L280.65 222.38 L284.35 224.37 L288.05 216.25 L291.75 219.98 L295.45 220.63 L299.15 224.85 L302.85 225.76 L306.55 225.61 L310.25 227.02 L313.95 226.01 L317.65 226.73 L321.35 198.88 L325.05 198.12 L328.75 198.03 L332.45 220.8 L336.15 220.46 L339.85 218.65 L343.55 223.73 L347.25 225.58 L350.95 225.93" fill="none" stroke="#7183bd" stroke-width="1.3" stroke-linejoin="round"/>
<path d="M254.75 205.52 L258.45 205.99 L262.15 206.71 L265.85 222.1 L269.55 222.6 L273.25 222.21 L276.95 224.68 L280.65 222.9 L284.35 223.3 L288.05 221.66 L291.75 223 L295.45 226.13 L299.15 222.68 L302.85 224 L306.55 227.16 L310.25 227.81 L313.95 225.94 L317.65 227.75 L321.35 207.6 L325.05 206.79 L328.75 199.97 L332.45 223.12 L336.15 221.39 L339.85 223 L343.55 227.3 L347.25 228.79 L350.95 225.83" fill="none" stroke="#7183bd" stroke-width="1.3" stroke-linejoin="round"/>
<path d="M254.75 198.41 L258.45 194.88 L262.15 199.14 L265.85 218.16 L269.55 219.76 L273.25 222.48 L276.95 224.18 L280.65 223.89 L284.35 222.77 L288.05 216.64 L291.75 221.28 L295.45 222.77 L299.15 221.4 L302.85 225.03 L306.55 226.22 L310.25 224.33 L313.95 225.84 L317.65 225.76 L321.35 204.04 L325.05 203.3 L328.75 197.91 L332.45 215.9 L336.15 220.45 L339.85 222.23 L343.55 225.61 L347.25 226.27 L350.95 220.43" fill="none" stroke="#7183bd" stroke-width="1.3" stroke-linejoin="round"/>
<path d="M254.75 204.2 L258.45 204 L262.15 203.1 L265.85 221.4 L269.55 221.7 L273.25 222.6 L276.95 224.4 L280.65 224.4 L284.35 224.1 L288.05 221.4 L291.75 221.7 L295.45 222.1 L299.15 222.9 L302.85 223.6 L306.55 224.1 L310.25 224.8 L313.95 225.1 L317.65 225.1 L321.35 198.3 L325.05 199.8 L328.75 197.5 L332.45 219.9 L336.15 220.6 L339.85 221.1 L343.55 223.6 L347.25 224.7 L350.95 224.4" fill="none" stroke="#1e2a62" stroke-width="1.4" stroke-linejoin="round" stroke-linecap="round"/>
<path d="M365.15 230.3 L368.85 228.8 L372.55 223.45 L376.25 210.58 L379.95 211.75 L383.65 212.47 L387.35 227.45 L391.05 223.72 L394.75 226.67 L398.45 206.13 L402.15 204.58 L405.85 217.06 L409.55 229.53 L413.25 232.15 L416.95 228.44 L420.65 234.75 L424.35 234.18 L428.05 230.95 L431.75 230.4 L435.45 227.65 L439.15 225.74 L442.85 228.14 L446.55 227.45 L450.25 227.2 L453.95 229.66 L457.65 234.56 L461.35 230.24" fill="none" stroke="#7183bd" stroke-width="1.3" stroke-linejoin="round"/>
<path d="M365.15 203.09 L368.85 183.4 L372.55 193.1 L376.25 197.6 L379.95 194.33 L383.65 182.7 L387.35 217.77 L391.05 208.96 L394.75 216.7 L398.45 198.71 L402.15 192.41 L405.85 192.23 L409.55 215.81 L413.25 213.43 L416.95 212.54 L420.65 224.63 L424.35 224.9 L428.05 226.88 L431.75 224.01 L435.45 213.9 L439.15 224.06 L442.85 202 L446.55 205.7 L450.25 217.33 L453.95 204.15 L457.65 212.16 L461.35 213.2" fill="none" stroke="#7183bd" stroke-width="1.3" stroke-linejoin="round"/>
<path d="M365.15 214.6 L368.85 205.91 L372.55 211.21 L376.25 203.23 L379.95 203.34 L383.65 201.5 L387.35 221.96 L391.05 224.7 L394.75 225.45 L398.45 202.16 L402.15 202.04 L405.85 194.6 L409.55 222.22 L413.25 220.17 L416.95 223.85 L420.65 224.73 L424.35 228.57 L428.05 229.3 L431.75 230.81 L435.45 226.54 L439.15 226.68 L442.85 220.59 L446.55 222.42 L450.25 221.65 L453.95 215.53 L457.65 222.54 L461.35 219.86" fill="none" stroke="#7183bd" stroke-width="1.3" stroke-linejoin="round"/>
<path d="M365.15 211.57 L368.85 217.15 L372.55 212.53 L376.25 209.16 L379.95 207.59 L383.65 203.39 L387.35 222.09 L391.05 218.83 L394.75 220.3 L398.45 200.06 L402.15 202.23 L405.85 201.49 L409.55 222.55 L413.25 223.87 L416.95 226.64 L420.65 229.38 L424.35 230.63 L428.05 228.55 L431.75 224.67 L435.45 221.77 L439.15 217.69 L442.85 224.76 L446.55 224.05 L450.25 224.67 L453.95 224.09 L457.65 226.09 L461.35 226.1" fill="none" stroke="#7183bd" stroke-width="1.3" stroke-linejoin="round"/>
<path d="M365.15 219.79 L368.85 220.71 L372.55 228.8 L376.25 225.8 L379.95 228.8 L383.65 211.13 L387.35 226.03 L391.05 227.57 L394.75 224.58 L398.45 208.62 L402.15 215.99 L405.85 206.75 L409.55 225.81 L413.25 226.43 L416.95 228.51 L420.65 238.5 L424.35 238.5 L428.05 232.69 L431.75 231.28 L435.45 229 L439.15 233.25 L442.85 232.65 L446.55 233.3 L450.25 229.34 L453.95 235.5 L457.65 228.93 L461.35 227.04" fill="none" stroke="#7183bd" stroke-width="1.3" stroke-linejoin="round"/>
<path d="M365.15 224.97 L368.85 222.52 L372.55 218.31 L376.25 223.27 L379.95 218.86 L383.65 230.3 L387.35 235.5 L391.05 224.24 L394.75 234 L398.45 221.4 L402.15 210.29 L405.85 219.9 L409.55 227.4 L413.25 234 L416.95 229.88 L420.65 230.56 L424.35 230.86 L428.05 231.02 L431.75 229.27 L435.45 233.79 L439.15 237 L442.85 234.8 L446.55 229.15 L450.25 235.01 L453.95 228.19 L457.65 226.81 L461.35 225.02" fill="none" stroke="#7183bd" stroke-width="1.3" stroke-linejoin="round"/>
<path d="M365.15 221.54 L368.85 220.21 L372.55 219.22 L376.25 213.7 L379.95 217.41 L383.65 211.86 L387.35 223.25 L391.05 222.44 L394.75 209.13 L398.45 197.62 L402.15 206.74 L405.85 201.97 L409.55 227.69 L413.25 228.54 L416.95 227.15 L420.65 226.75 L424.35 225.24 L428.05 223.06 L431.75 230.32 L435.45 226.73 L439.15 225.62 L442.85 204.24 L446.55 222.9 L450.25 227.15 L453.95 222.45 L457.65 222.72 L461.35 229.39" fill="none" stroke="#7183bd" stroke-width="1.3" stroke-linejoin="round"/>
<path d="M365.15 195.3 L368.85 207.41 L372.55 196.13 L376.25 194.84 L379.95 197.37 L383.65 185.47 L387.35 205.7 L391.05 218.91 L394.75 217.85 L398.45 197.71 L402.15 185.1 L405.85 196.27 L409.55 222.4 L413.25 219.65 L416.95 222.39 L420.65 225.31 L424.35 228.01 L428.05 225.27 L431.75 225.5 L435.45 225.11 L439.15 224.99 L442.85 218.53 L446.55 219.99 L450.25 223.57 L453.95 220.87 L457.65 223.67 L461.35 225.39" fill="none" stroke="#7183bd" stroke-width="1.3" stroke-linejoin="round"/>
<path d="M365.15 209.78 L368.85 190.01 L372.55 209.24 L376.25 201.31 L379.95 203.99 L383.65 206.52 L387.35 220.2 L391.05 223.38 L394.75 221.23 L398.45 196.5 L402.15 194.55 L405.85 191.61 L409.55 222.5 L413.25 226.41 L416.95 225.94 L420.65 225.8 L424.35 228.85 L428.05 225.59 L431.75 224.77 L435.45 221.2 L439.15 214.7 L442.85 217.01 L446.55 221.93 L450.25 220.28 L453.95 216.94 L457.65 222.71 L461.35 226.41" fill="none" stroke="#7183bd" stroke-width="1.3" stroke-linejoin="round"/>
<path d="M365.15 214.79 L368.85 212.1 L372.55 219.38 L376.25 206.48 L379.95 209.49 L383.65 207.04 L387.35 208.33 L391.05 218.83 L394.75 216.55 L398.45 200.14 L402.15 203.64 L405.85 192.79 L409.55 221.46 L413.25 218.24 L416.95 221.07 L420.65 216.28 L424.35 216.2 L428.05 215.29 L431.75 217.7 L435.45 223.27 L439.15 224.26 L442.85 218.43 L446.55 224.29 L450.25 226.12 L453.95 224.62 L457.65 218.93 L461.35 221.09" fill="none" stroke="#7183bd" stroke-width="1.3" stroke-linejoin="round"/>
<path d="M365.15 216.78 L368.85 212.67 L372.55 220.43 L376.25 200.21 L379.95 203.5 L383.65 202.59 L387.35 222.18 L391.05 222.36 L394.75 225.54 L398.45 208.49 L402.15 222.9 L405.85 205.02 L409.55 224.52 L413.25 220.68 L416.95 223 L420.65 223.87 L424.35 226.12 L428.05 225.07 L431.75 222.55 L435.45 224.54 L439.15 227.81 L442.85 221.54 L446.55 221.49 L450.25 225.89 L453.95 220.57 L457.65 224.62 L461.35 223.35" fill="none" stroke="#7183bd" stroke-width="1.3" stroke-linejoin="round"/>
<path d="M365.15 220.88 L368.85 220.43 L372.55 216.62 L376.25 200.76 L379.95 201.08 L383.65 204.64 L387.35 219.13 L391.05 224.48 L394.75 219.6 L398.45 202.47 L402.15 202.27 L405.85 204.59 L409.55 225.99 L413.25 224.33 L416.95 221.31 L420.65 226.08 L424.35 226.51 L428.05 230.52 L431.75 227.88 L435.45 226.07 L439.15 223.37 L442.85 225.22 L446.55 221.68 L450.25 226.46 L453.95 225.31 L457.65 222.48 L461.35 223.94" fill="none" stroke="#7183bd" stroke-width="1.3" stroke-linejoin="round"/>
<path d="M365.15 216.4 L368.85 205.56 L372.55 206.49 L376.25 200.56 L379.95 203.2 L383.65 203.18 L387.35 219.53 L391.05 206.5 L394.75 207.2 L398.45 191.38 L402.15 192.45 L405.85 178.2 L409.55 219.64 L413.25 214.42 L416.95 219.34 L420.65 214.7 L424.35 224.34 L428.05 226.11 L431.75 224.65 L435.45 225.99 L439.15 224.9 L442.85 218.58 L446.55 221.16 L450.25 222.96 L453.95 219.1 L457.65 218.19 L461.35 216.98" fill="none" stroke="#7183bd" stroke-width="1.3" stroke-linejoin="round"/>
<path d="M365.15 211.52 L368.85 211.01 L372.55 218.35 L376.25 193.96 L379.95 200.39 L383.65 204.85 L387.35 222.15 L391.05 216.48 L394.75 216.23 L398.45 195.98 L402.15 194.71 L405.85 201.86 L409.55 227.79 L413.25 224.43 L416.95 226.87 L420.65 229.1 L424.35 228.48 L428.05 228.02 L431.75 223.84 L435.45 222.7 L439.15 222.7 L442.85 217.32 L446.55 219.63 L450.25 222.38 L453.95 225.26 L457.65 220.39 L461.35 224.06" fill="none" stroke="#7183bd" stroke-width="1.3" stroke-linejoin="round"/>
<path d="M365.15 218.86 L368.85 226.08 L372.55 218.55 L376.25 207.51 L379.95 206.58 L383.65 213.03 L387.35 225.42 L391.05 233.3 L394.75 228.87 L398.45 209.13 L402.15 202.74 L405.85 202.65 L409.55 231.73 L413.25 227.8 L416.95 235.12 L420.65 231.46 L424.35 230.95 L428.05 235.5 L431.75 234.48 L435.45 229.36 L439.15 229.27 L442.85 227.04 L446.55 226.73 L450.25 237 L453.95 233.66 L457.65 226.9 L461.35 229.59" fill="none" stroke="#7183bd" stroke-width="1.3" stroke-linejoin="round"/>
<path d="M365.15 217.99 L368.85 222.95 L372.55 216.05 L376.25 203.5 L379.95 211.22 L383.65 208.67 L387.35 219.93 L391.05 228.25 L394.75 228.73 L398.45 215.15 L402.15 210.18 L405.85 205.18 L409.55 227.81 L413.25 228.57 L416.95 228.39 L420.65 229.38 L424.35 229.95 L428.05 229.33 L431.75 237 L435.45 234.8 L439.15 231.14 L442.85 227.87 L446.55 227.26 L450.25 228.05 L453.95 229.86 L457.65 237 L461.35 232.51" fill="none" stroke="#7183bd" stroke-width="1.3" stroke-linejoin="round"/>
<path d="M365.15 208.05 L368.85 203.49 L372.55 208.94 L376.25 176.73 L379.95 198.95 L383.65 198.45 L387.35 217.23 L391.05 217.68 L394.75 215.97 L398.45 187.9 L402.15 182.7 L405.85 185.37 L409.55 220.12 L413.25 204.2 L416.95 207.2 L420.65 222.96 L424.35 220.08 L428.05 212.4 L431.75 219.7 L435.45 216.41 L439.15 221.95 L442.85 218.25 L446.55 212.05 L450.25 213.2 L453.95 211.57 L457.65 223.74 L461.35 217.6" fill="none" stroke="#7183bd" stroke-width="1.3" stroke-linejoin="round"/>
<path d="M365.15 211.64 L368.85 208.87 L372.55 206.78 L376.25 170 L379.95 189.4 L383.65 198.53 L387.35 217.16 L391.05 217.71 L394.75 218.78 L398.45 195.27 L402.15 190.96 L405.85 191.59 L409.55 214.7 L413.25 210.07 L416.95 223.19 L420.65 223.75 L424.35 226.11 L428.05 227.73 L431.75 225.44 L435.45 222.23 L439.15 224.53 L442.85 221.52 L446.55 218.91 L450.25 221.72 L453.95 199.8 L457.65 209.5 L461.35 218.86" fill="none" stroke="#7183bd" stroke-width="1.3" stroke-linejoin="round"/>
<path d="M365.15 211.45 L368.85 216.96 L372.55 209.89 L376.25 201.54 L379.95 201.4 L383.65 205.51 L387.35 219.93 L391.05 220.4 L394.75 217.48 L398.45 200.2 L402.15 204.42 L405.85 203.01 L409.55 224.59 L413.25 220.48 L416.95 222.79 L420.65 226.69 L424.35 225.85 L428.05 227.54 L431.75 221.87 L435.45 225.6 L439.15 225.99 L442.85 221.92 L446.55 222.13 L450.25 223.8 L453.95 214.85 L457.65 219.44 L461.35 225.55" fill="none" stroke="#7183bd" stroke-width="1.3" stroke-linejoin="round"/>
<path d="M365.15 218.63 L368.85 221.45 L372.55 222.75 L376.25 212.15 L379.95 222.52 L383.65 223.34 L387.35 232.96 L391.05 226.55 L394.75 223.94 L398.45 209 L402.15 204.29 L405.85 201.66 L409.55 234 L413.25 227.46 L416.95 237.8 L420.65 229.18 L424.35 228.61 L428.05 230 L431.75 229.94 L435.45 229.02 L439.15 231.02 L442.85 227.26 L446.55 222.92 L450.25 223.52 L453.95 227.03 L457.65 226.79 L461.35 237" fill="none" stroke="#7183bd" stroke-width="1.3" stroke-linejoin="round"/>
<path d="M365.15 214.5 L368.85 217.96 L372.55 213.63 L376.25 200.13 L379.95 200.77 L383.65 203.87 L387.35 222.43 L391.05 219.37 L394.75 219.19 L398.45 199.46 L402.15 206.61 L405.85 201.52 L409.55 223.05 L413.25 223.16 L416.95 223.2 L420.65 225.26 L424.35 226.7 L428.05 228.43 L431.75 226.32 L435.45 225.05 L439.15 226.74 L442.85 222.19 L446.55 222.18 L450.25 221.02 L453.95 224.35 L457.65 224.05 L461.35 226.51" fill="none" stroke="#7183bd" stroke-width="1.3" stroke-linejoin="round"/>
<path d="M365.15 215.1 L368.85 214.2 L372.55 215.1 L376.25 205 L379.95 204.2 L383.65 204.2 L387.35 220.6 L391.05 220.6 L394.75 219.9 L398.45 202 L402.15 200.5 L405.85 200.5 L409.55 224.4 L413.25 223.6 L416.95 224.7 L420.65 226.6 L424.35 226.6 L428.05 227 L431.75 225.8 L435.45 225.8 L439.15 225.5 L442.85 222.6 L446.55 222.1 L450.25 223.6 L453.95 224.4 L457.65 223.6 L461.35 224.4" fill="none" stroke="#1e2a62" stroke-width="1.4" stroke-linejoin="round" stroke-linecap="round"/>
<path d="M475.65 221.13 L479.35 220.41 L483.05 215.25 L486.75 208.7 L490.45 224.72 L494.15 225.13 L497.85 221.97 L501.55 224.81 L505.25 225.16 L508.95 224.46 L512.65 219.43 L516.35 225.17 L520.05 201.28 L523.75 197.57 L527.45 201.11 L531.15 196.46 L534.85 197.34 L538.55 201.21 L542.25 213.06 L545.95 214.05 L549.65 215.35 L553.35 220.77 L557.05 223.83 L560.75 222.38 L564.45 218.28 L568.15 218.56 L571.85 223.88" fill="none" stroke="#7183bd" stroke-width="1.3" stroke-linejoin="round"/>
<path d="M475.65 218.66 L479.35 214.19 L483.05 221.98 L486.75 222.03 L490.45 227.39 L494.15 226.97 L497.85 225.73 L501.55 225.61 L505.25 223.68 L508.95 224.46 L512.65 224.69 L516.35 231.25 L520.05 204.22 L523.75 210.22 L527.45 205.63 L531.15 199.92 L534.85 200.58 L538.55 199.53 L542.25 213.29 L545.95 212.58 L549.65 210.32 L553.35 220.44 L557.05 232.96 L560.75 229.98 L564.45 223.36 L568.15 234.64 L571.85 218.54" fill="none" stroke="#7183bd" stroke-width="1.3" stroke-linejoin="round"/>
<path d="M475.65 225.12 L479.35 233.84 L483.05 228.79 L486.75 235.3 L490.45 234.68 L494.15 227.45 L497.85 228.32 L501.55 230.96 L505.25 234.25 L508.95 234.8 L512.65 231.47 L516.35 226.13 L520.05 210.21 L523.75 226.6 L527.45 221.4 L531.15 216.9 L534.85 215.44 L538.55 213.91 L542.25 227.61 L545.95 229.6 L549.65 231.8 L553.35 222.08 L557.05 225.03 L560.75 223.82 L564.45 220.43 L568.15 218.86 L571.85 216.37" fill="none" stroke="#7183bd" stroke-width="1.3" stroke-linejoin="round"/>
<path d="M475.65 233.85 L479.35 225.78 L483.05 225.29 L486.75 225.94 L490.45 224 L494.15 226.36 L497.85 226.57 L501.55 238.89 L505.25 229.01 L508.95 232.87 L512.65 224.55 L516.35 226.39 L520.05 202.19 L523.75 197.96 L527.45 200.04 L531.15 200.8 L534.85 197.59 L538.55 200.72 L542.25 210.41 L545.95 198.86 L549.65 217.81 L553.35 221.83 L557.05 224.4 L560.75 222.55 L564.45 218.54 L568.15 222.19 L571.85 232.58" fill="none" stroke="#7183bd" stroke-width="1.3" stroke-linejoin="round"/>
<path d="M475.65 210.92 L479.35 215.68 L483.05 197.5 L486.75 213.94 L490.45 221.86 L494.15 220.45 L497.85 222.39 L501.55 217.43 L505.25 216.96 L508.95 214.27 L512.65 215.49 L516.35 212.07 L520.05 196.71 L523.75 195.18 L527.45 195.1 L531.15 187.9 L534.85 190.8 L538.55 194.9 L542.25 189.4 L545.95 205.04 L549.65 198.11 L553.35 216.82 L557.05 213.64 L560.75 210.64 L564.45 218.21 L568.15 213.8 L571.85 212.32" fill="none" stroke="#7183bd" stroke-width="1.3" stroke-linejoin="round"/>
<path d="M475.65 197.5 L479.35 201.81 L483.05 202.83 L486.75 216.41 L490.45 207.2 L494.15 204.2 L497.85 211.7 L501.55 211.7 L505.25 214.7 L508.95 209.5 L512.65 210.2 L516.35 205.7 L520.05 188.27 L523.75 184.1 L527.45 202.57 L531.15 198.41 L534.85 197.95 L538.55 192.3 L542.25 192.12 L545.95 190.8 L549.65 193.8 L553.35 213.64 L557.05 209.5 L560.75 206.5 L564.45 202 L568.15 200.5 L571.85 204.2" fill="none" stroke="#7183bd" stroke-width="1.3" stroke-linejoin="round"/>
<path d="M475.65 215.83 L479.35 216 L483.05 215.35 L486.75 223.23 L490.45 222.24 L494.15 221.81 L497.85 227.84 L501.55 229.76 L505.25 229.25 L508.95 222.04 L512.65 217.71 L516.35 208.98 L520.05 184.9 L523.75 197.1 L527.45 201.7 L531.15 197.87 L534.85 201.6 L538.55 205.15 L542.25 210.16 L545.95 208.25 L549.65 213.1 L553.35 210.2 L557.05 220.03 L560.75 222.48 L564.45 223.01 L568.15 214.23 L571.85 213.23" fill="none" stroke="#7183bd" stroke-width="1.3" stroke-linejoin="round"/>
<path d="M475.65 201.42 L479.35 211.37 L483.05 220.75 L486.75 224.64 L490.45 226.11 L494.15 227.09 L497.85 217.15 L501.55 227.89 L505.25 227.5 L508.95 228.95 L512.65 225.99 L516.35 223.58 L520.05 200.09 L523.75 191.75 L527.45 198.2 L531.15 190.52 L534.85 195.39 L538.55 198.18 L542.25 206.25 L545.95 204.9 L549.65 212.11 L553.35 218.3 L557.05 223.67 L560.75 219.33 L564.45 204.44 L568.15 205.78 L571.85 210.01" fill="none" stroke="#7183bd" stroke-width="1.3" stroke-linejoin="round"/>
<path d="M475.65 226.06 L479.35 229.88 L483.05 235.23 L486.75 227.57 L490.45 227.09 L494.15 228.05 L497.85 234 L501.55 240.7 L505.25 231.46 L508.95 227.29 L512.65 223.12 L516.35 225.57 L520.05 223.95 L523.75 209.58 L527.45 208.54 L531.15 202.39 L534.85 207.07 L538.55 229.24 L542.25 214.26 L545.95 225.16 L549.65 220.38 L553.35 222.89 L557.05 224.58 L560.75 220.95 L564.45 229.96 L568.15 224.18 L571.85 223.73" fill="none" stroke="#7183bd" stroke-width="1.3" stroke-linejoin="round"/>
<path d="M475.65 223.78 L479.35 225.95 L483.05 223.4 L486.75 229.06 L490.45 237 L494.15 238.5 L497.85 229.32 L501.55 230.65 L505.25 236.3 L508.95 229.53 L512.65 232.5 L516.35 232.5 L520.05 210.96 L523.75 221.2 L527.45 218.89 L531.15 214.89 L534.85 216.9 L538.55 217.03 L542.25 214.49 L545.95 213.73 L549.65 224.76 L553.35 223.13 L557.05 224.73 L560.75 223.19 L564.45 234.8 L568.15 236.3 L571.85 239.2" fill="none" stroke="#7183bd" stroke-width="1.3" stroke-linejoin="round"/>
<path d="M475.65 224.98 L479.35 223.81 L483.05 219.89 L486.75 221.21 L490.45 222.98 L494.15 226.93 L497.85 229.89 L501.55 230.99 L505.25 224.47 L508.95 225.2 L512.65 223.15 L516.35 218.96 L520.05 202.84 L523.75 204.74 L527.45 201.39 L531.15 201.34 L534.85 209 L538.55 234.8 L542.25 234.8 L545.95 218.08 L549.65 210.77 L553.35 223.81 L557.05 221.15 L560.75 221.3 L564.45 219.49 L568.15 213.64 L571.85 215.37" fill="none" stroke="#7183bd" stroke-width="1.3" stroke-linejoin="round"/>
<path d="M475.65 236.3 L479.35 228.2 L483.05 229.13 L486.75 237 L490.45 226.7 L494.15 236.29 L497.85 231.66 L501.55 232.19 L505.25 228.98 L508.95 227.79 L512.65 220.3 L516.35 225.53 L520.05 204.24 L523.75 203.33 L527.45 198.33 L531.15 197.82 L534.85 197.89 L538.55 199.73 L542.25 208.22 L545.95 206.44 L549.65 214.41 L553.35 224.1 L557.05 239.2 L560.75 232.5 L564.45 223.84 L568.15 222.35 L571.85 223.37" fill="none" stroke="#7183bd" stroke-width="1.3" stroke-linejoin="round"/>
<path d="M475.65 224.81 L479.35 223.47 L483.05 228.28 L486.75 223.76 L490.45 225.02 L494.15 227.34 L497.85 223.87 L501.55 227.05 L505.25 225.86 L508.95 227.05 L512.65 221.07 L516.35 225.26 L520.05 200.13 L523.75 195.37 L527.45 198.75 L531.15 198.86 L534.85 201.58 L538.55 199.48 L542.25 211.38 L545.95 201.29 L549.65 212.35 L553.35 220.75 L557.05 220.9 L560.75 217.84 L564.45 221.04 L568.15 217.82 L571.85 217.86" fill="none" stroke="#7183bd" stroke-width="1.3" stroke-linejoin="round"/>
<path d="M475.65 222.62 L479.35 237.8 L483.05 239.2 L486.75 227.79 L490.45 227.62 L494.15 228.35 L497.85 226.07 L501.55 229.88 L505.25 226.24 L508.95 221.51 L512.65 223.56 L516.35 224.15 L520.05 199.55 L523.75 195.03 L527.45 189.4 L531.15 197.88 L534.85 200.71 L538.55 201.6 L542.25 209.28 L545.95 213.24 L549.65 218.32 L553.35 231.7 L557.05 223.26 L560.75 219.76 L564.45 217.09 L568.15 213.97 L571.85 220.1" fill="none" stroke="#7183bd" stroke-width="1.3" stroke-linejoin="round"/>
<path d="M475.65 217.6 L479.35 213.69 L483.05 217.93 L486.75 219.12 L490.45 226.7 L494.15 228.1 L497.85 228.22 L501.55 231.13 L505.25 227.64 L508.95 222.51 L512.65 219.35 L516.35 223.26 L520.05 227.3 L523.75 213.32 L527.45 200.61 L531.15 202.05 L534.85 203.19 L538.55 198.96 L542.25 201.17 L545.95 204.5 L549.65 207.21 L553.35 234 L557.05 224.92 L560.75 222.89 L564.45 222.8 L568.15 220.37 L571.85 217.05" fill="none" stroke="#7183bd" stroke-width="1.3" stroke-linejoin="round"/>
<path d="M475.65 212.47 L479.35 199 L483.05 221.74 L486.75 224.37 L490.45 209.53 L494.15 213.07 L497.85 224.23 L501.55 228.64 L505.25 227.52 L508.95 225.18 L512.65 227.07 L516.35 227.36 L520.05 206.03 L523.75 205.79 L527.45 201.22 L531.15 199.94 L534.85 199.5 L538.55 204.26 L542.25 214.99 L545.95 216.76 L549.65 214.52 L553.35 219.41 L557.05 224.62 L560.75 223.15 L564.45 224.26 L568.15 219.34 L571.85 213.01" fill="none" stroke="#7183bd" stroke-width="1.3" stroke-linejoin="round"/>
<path d="M475.65 222.6 L479.35 222.9 L483.05 224.4 L486.75 225.8 L490.45 226.1 L494.15 226.6 L497.85 228.1 L501.55 229.6 L505.25 227.3 L508.95 225.1 L512.65 224.1 L516.35 224.4 L520.05 204.5 L523.75 203.5 L527.45 205 L531.15 201.3 L534.85 203.1 L538.55 202.5 L542.25 212 L545.95 213.2 L549.65 213.9 L553.35 221.4 L557.05 223.6 L560.75 222.6 L564.45 222.1 L568.15 220.6 L571.85 222.6" fill="none" stroke="#1e2a62" stroke-width="1.4" stroke-linejoin="round" stroke-linecap="round"/>
<path d="M586.55 196.8 L590.25 212.86 L593.95 207.2 L597.65 215.4 L601.35 204.2 L605.05 193.8 L608.75 211.81 L612.45 220.82 L616.15 216.32 L619.85 219.4 L623.55 208.43 L627.25 213.61 L630.95 204.2 L634.65 206.5 L638.35 203.5 L642.05 193.69 L645.75 194.6 L649.45 202 L653.15 207.89 L656.85 207.79 L660.55 206 L664.25 170 L667.95 177.4 L671.65 182.7 L675.35 208.23 L679.05 212.19 L682.75 209.1" fill="none" stroke="#7183bd" stroke-width="1.3" stroke-linejoin="round"/>
<path d="M586.55 234.35 L590.25 226.1 L593.95 233.57 L597.65 232.5 L601.35 237 L605.05 232.01 L608.75 237.8 L612.45 226.85 L616.15 227.54 L619.85 232.17 L623.55 220.11 L627.25 235.5 L630.95 230.63 L634.65 218.1 L638.35 216.64 L642.05 233.3 L645.75 232.5 L649.45 232.5 L653.15 227.32 L656.85 221.03 L660.55 231.01 L664.25 201.31 L667.95 207.68 L671.65 199.77 L675.35 225.25 L679.05 224.59 L682.75 224.61" fill="none" stroke="#7183bd" stroke-width="1.3" stroke-linejoin="round"/>
<path d="M586.55 217.29 L590.25 222.42 L593.95 214.16 L597.65 221.16 L601.35 223.65 L605.05 211.06 L608.75 226.43 L612.45 223.79 L616.15 208.7 L619.85 215.42 L623.55 213.1 L627.25 217.99 L630.95 218.26 L634.65 222.92 L638.35 214.49 L642.05 194.73 L645.75 210.66 L649.45 209.33 L653.15 214.4 L656.85 213.71 L660.55 219.88 L664.25 189.69 L667.95 197.88 L671.65 199.09 L675.35 221.23 L679.05 223.04 L682.75 217.97" fill="none" stroke="#7183bd" stroke-width="1.3" stroke-linejoin="round"/>
<path d="M586.55 224.23 L590.25 218.82 L593.95 217.54 L597.65 219.65 L601.35 217.88 L605.05 217.7 L608.75 223.24 L612.45 224.4 L616.15 221.16 L619.85 220.33 L623.55 221.3 L627.25 220.94 L630.95 219.55 L634.65 214.84 L638.35 214.85 L642.05 214.08 L645.75 217.6 L649.45 210.42 L653.15 188.6 L656.85 199 L660.55 214.37 L664.25 196.39 L667.95 182.56 L671.65 194.5 L675.35 225.01 L679.05 224.26 L682.75 215.58" fill="none" stroke="#7183bd" stroke-width="1.3" stroke-linejoin="round"/>
<path d="M586.55 205.06 L590.25 220.21 L593.95 217.87 L597.65 218.18 L601.35 215.9 L605.05 209 L608.75 209.5 L612.45 210.2 L616.15 211.71 L619.85 209.5 L623.55 212.05 L627.25 217.47 L630.95 217.83 L634.65 210.35 L638.35 213.36 L642.05 183.4 L645.75 210.91 L649.45 212.19 L653.15 208.42 L656.85 201.47 L660.55 217.38 L664.25 188.76 L667.95 188.77 L671.65 186.78 L675.35 206.5 L679.05 210.9 L682.75 205.7" fill="none" stroke="#7183bd" stroke-width="1.3" stroke-linejoin="round"/>
<path d="M586.55 224.49 L590.25 234.78 L593.95 225.23 L597.65 225.66 L601.35 225.48 L605.05 236.3 L608.75 229.07 L612.45 228.8 L616.15 229 L619.85 235.5 L623.55 229.77 L627.25 231.47 L630.95 225.29 L634.65 236.3 L638.35 219.39 L642.05 213.26 L645.75 197.35 L649.45 206.38 L653.15 208.22 L656.85 221.07 L660.55 221.5 L664.25 206.14 L667.95 201.65 L671.65 205.63 L675.35 224.74 L679.05 232.5 L682.75 233.3" fill="none" stroke="#7183bd" stroke-width="1.3" stroke-linejoin="round"/>
<path d="M586.55 223.35 L590.25 225.75 L593.95 221.4 L597.65 220.33 L601.35 220.76 L605.05 211.15 L608.75 221.1 L612.45 226.2 L616.15 223.68 L619.85 221.97 L623.55 219.33 L627.25 218.21 L630.95 214.08 L634.65 217.78 L638.35 234.8 L642.05 225.95 L645.75 227.33 L649.45 213.6 L653.15 219.5 L656.85 227.86 L660.55 218.85 L664.25 192.49 L667.95 197.9 L671.65 194.41 L675.35 221.81 L679.05 222.75 L682.75 223.93" fill="none" stroke="#7183bd" stroke-width="1.3" stroke-linejoin="round"/>
<path d="M586.55 226.37 L590.25 224.58 L593.95 220.41 L597.65 221.42 L601.35 225.78 L605.05 214.12 L608.75 222.57 L612.45 227.6 L616.15 237 L619.85 224.41 L623.55 234 L627.25 224.05 L630.95 237 L634.65 234.5 L638.35 214.34 L642.05 211.71 L645.75 216.12 L649.45 213.99 L653.15 215.62 L656.85 215.01 L660.55 232.5 L664.25 208 L667.95 211 L671.65 208.7 L675.35 233.3 L679.05 224.04 L682.75 223.71" fill="none" stroke="#7183bd" stroke-width="1.3" stroke-linejoin="round"/>
<path d="M586.55 222.11 L590.25 220.98 L593.95 218.67 L597.65 220.79 L601.35 223.19 L605.05 216.49 L608.75 219.6 L612.45 226.12 L616.15 223.08 L619.85 218.8 L623.55 214.76 L627.25 218.93 L630.95 220.83 L634.65 220.28 L638.35 230.84 L642.05 213.64 L645.75 212.33 L649.45 221.06 L653.15 211.74 L656.85 211.79 L660.55 211.14 L664.25 187.45 L667.95 188.57 L671.65 197.41 L675.35 225.29 L679.05 225.04 L682.75 231.06" fill="none" stroke="#7183bd" stroke-width="1.3" stroke-linejoin="round"/>
<path d="M586.55 213.58 L590.25 220.68 L593.95 226.06 L597.65 221.82 L601.35 233.69 L605.05 223.31 L608.75 228.78 L612.45 235.34 L616.15 226.03 L619.85 221.1 L623.55 218.5 L627.25 220.37 L630.95 222.18 L634.65 221.45 L638.35 217.14 L642.05 204.73 L645.75 213.85 L649.45 230.56 L653.15 233.3 L656.85 234 L660.55 216.77 L664.25 195.42 L667.95 195.79 L671.65 197.54 L675.35 230.6 L679.05 229.01 L682.75 224.41" fill="none" stroke="#7183bd" stroke-width="1.3" stroke-linejoin="round"/>
<path d="M586.55 216.47 L590.25 209.5 L593.95 219.18 L597.65 221.68 L601.35 208.56 L605.05 202.67 L608.75 218.07 L612.45 214.23 L616.15 216.13 L619.85 213.58 L623.55 201.3 L627.25 209.5 L630.95 206.18 L634.65 213.79 L638.35 205.69 L642.05 201.98 L645.75 211.98 L649.45 208.98 L653.15 198.97 L656.85 217.37 L660.55 203.5 L664.25 176.11 L667.95 190.66 L671.65 190.85 L675.35 222.55 L679.05 222.11 L682.75 214.92" fill="none" stroke="#7183bd" stroke-width="1.3" stroke-linejoin="round"/>
<path d="M586.55 214.72 L590.25 220.47 L593.95 219.13 L597.65 221.33 L601.35 221.17 L605.05 217.91 L608.75 222.92 L612.45 227 L616.15 228.91 L619.85 223.32 L623.55 215.38 L627.25 218.52 L630.95 216.14 L634.65 218.56 L638.35 216.21 L642.05 209.68 L645.75 208.83 L649.45 208.9 L653.15 208.85 L656.85 213.03 L660.55 217.76 L664.25 190.31 L667.95 193.95 L671.65 191.95 L675.35 221.74 L679.05 221.48 L682.75 223.65" fill="none" stroke="#7183bd" stroke-width="1.3" stroke-linejoin="round"/>
<path d="M586.55 239.2 L590.25 238.5 L593.95 238.5 L597.65 230.53 L601.35 223.61 L605.05 216.9 L608.75 236.31 L612.45 237 L616.15 233.21 L619.85 224.3 L623.55 218.45 L627.25 222.21 L630.95 217.82 L634.65 223.07 L638.35 219.41 L642.05 214.16 L645.75 213.45 L649.45 219.76 L653.15 213.57 L656.85 217.92 L660.55 217.91 L664.25 200.11 L667.95 198.95 L671.65 197.57 L675.35 224.7 L679.05 223.71 L682.75 227.17" fill="none" stroke="#7183bd" stroke-width="1.3" stroke-linejoin="round"/>
<path d="M586.55 224.1 L590.25 225.1 L593.95 225.1 L597.65 222.6 L601.35 223.6 L605.05 219.6 L608.75 227 L612.45 226.6 L616.15 226.6 L619.85 222.1 L623.55 219.9 L627.25 221.1 L630.95 219.1 L634.65 219.6 L638.35 216.9 L642.05 213.5 L645.75 215.4 L649.45 216.2 L653.15 215.4 L656.85 218.1 L660.55 219.9 L664.25 199 L667.95 197.5 L671.65 196.1 L675.35 223.6 L679.05 223.6 L682.75 223.6" fill="none" stroke="#1e2a62" stroke-width="1.4" stroke-linejoin="round" stroke-linecap="round"/>
<path d="M32.25 29.2 V129.7 H132.75 M28.15 45.3 H32.25 M28.15 68.1 H32.25 M28.15 90.9 H32.25 M28.15 113.7 H32.25 M49.4 129.7 V131.9 M67.9 129.7 V131.9 M86.4 129.7 V131.9 M104.9 129.7 V131.9 M123.4 129.7 V131.9 M142.3 29.2 V129.7 H242.8 M140.7 45.3 H142.3 M140.7 68.1 H142.3 M140.7 90.9 H142.3 M140.7 113.7 H142.3 M159.45 129.7 V131.9 M177.95 129.7 V131.9 M196.45 129.7 V131.9 M214.95 129.7 V131.9 M233.45 129.7 V131.9 M252.4 29.2 V129.7 H352.9 M250.8 45.3 H252.4 M250.8 68.1 H252.4 M250.8 90.9 H252.4 M250.8 113.7 H252.4 M269.55 129.7 V131.9 M288.05 129.7 V131.9 M306.55 129.7 V131.9 M325.05 129.7 V131.9 M343.55 129.7 V131.9 M362.8 29.2 V129.7 H463.3 M361.2 45.3 H362.8 M361.2 68.1 H362.8 M361.2 90.9 H362.8 M361.2 113.7 H362.8 M379.95 129.7 V131.9 M398.45 129.7 V131.9 M416.95 129.7 V131.9 M435.45 129.7 V131.9 M453.95 129.7 V131.9 M473.3 29.2 V129.7 H573.8 M471.7 45.3 H473.3 M471.7 68.1 H473.3 M471.7 90.9 H473.3 M471.7 113.7 H473.3 M490.45 129.7 V131.9 M508.95 129.7 V131.9 M527.45 129.7 V131.9 M545.95 129.7 V131.9 M564.45 129.7 V131.9 M584.2 29.2 V129.7 H684.7 M582.6 45.3 H584.2 M582.6 68.1 H584.2 M582.6 90.9 H584.2 M582.6 113.7 H584.2 M601.35 129.7 V131.9 M619.85 129.7 V131.9 M638.35 129.7 V131.9 M656.85 129.7 V131.9 M675.35 129.7 V131.9 M32.25 159 V259.4 H132.75 M28.15 169.6 H32.25 M28.15 194.1 H32.25 M28.15 218.75 H32.25 M28.15 243.1 H32.25 M49.4 259.4 V261.6 M67.9 259.4 V261.6 M86.4 259.4 V261.6 M104.9 259.4 V261.6 M123.4 259.4 V261.6 M142.3 159 V259.4 H242.8 M140.7 169.6 H142.3 M140.7 194.1 H142.3 M140.7 218.75 H142.3 M140.7 243.1 H142.3 M159.45 259.4 V261.6 M177.95 259.4 V261.6 M196.45 259.4 V261.6 M214.95 259.4 V261.6 M233.45 259.4 V261.6 M252.4 159 V259.4 H352.9 M250.8 169.6 H252.4 M250.8 194.1 H252.4 M250.8 218.75 H252.4 M250.8 243.1 H252.4 M269.55 259.4 V261.6 M288.05 259.4 V261.6 M306.55 259.4 V261.6 M325.05 259.4 V261.6 M343.55 259.4 V261.6 M362.8 159 V259.4 H463.3 M361.2 169.6 H362.8 M361.2 194.1 H362.8 M361.2 218.75 H362.8 M361.2 243.1 H362.8 M379.95 259.4 V261.6 M398.45 259.4 V261.6 M416.95 259.4 V261.6 M435.45 259.4 V261.6 M453.95 259.4 V261.6 M473.3 159 V259.4 H573.8 M471.7 169.6 H473.3 M471.7 194.1 H473.3 M471.7 218.75 H473.3 M471.7 243.1 H473.3 M490.45 259.4 V261.6 M508.95 259.4 V261.6 M527.45 259.4 V261.6 M545.95 259.4 V261.6 M564.45 259.4 V261.6 M584.2 159 V259.4 H684.7 M582.6 169.6 H584.2 M582.6 194.1 H584.2 M582.6 218.75 H584.2 M582.6 243.1 H584.2 M601.35 259.4 V261.6 M619.85 259.4 V261.6 M638.35 259.4 V261.6 M656.85 259.4 V261.6 M675.35 259.4 V261.6 M32.2 293 V393.3 H132.7 M28.1 312.9 H32.2 M28.1 333.1 H32.2 M28.1 353.4 H32.2 M28.1 373.9 H32.2 M49.35 393.3 V397.5 M67.85 393.3 V397.5 M86.35 393.3 V397.5 M104.85 393.3 V397.5 M123.35 393.3 V397.5 M142.46 293 V393.3 H242.96 M140.86 312.9 H142.46 M140.86 333.1 H142.46 M140.86 353.4 H142.46 M140.86 373.9 H142.46 M159.61 393.3 V397.5 M178.11 393.3 V397.5 M196.61 393.3 V397.5 M215.11 393.3 V397.5 M233.61 393.3 V397.5 M252.9 293 V393.3 H353.4 M251.3 312.9 H252.9 M251.3 333.1 H252.9 M251.3 353.4 H252.9 M251.3 373.9 H252.9 M270.05 393.3 V397.5 M288.55 393.3 V397.5 M307.05 393.3 V397.5 M325.55 393.3 V397.5 M344.05 393.3 V397.5 M363.46 293 V393.3 H463.96 M361.86 312.9 H363.46 M361.86 333.1 H363.46 M361.86 353.4 H363.46 M361.86 373.9 H363.46 M380.61 393.3 V397.5 M399.11 393.3 V397.5 M417.61 393.3 V397.5 M436.11 393.3 V397.5 M454.61 393.3 V397.5 M473.6 293 V393.3 H574.1 M472 312.9 H473.6 M472 333.1 H473.6 M472 353.4 H473.6 M472 373.9 H473.6 M490.75 393.3 V397.5 M509.25 393.3 V397.5 M527.75 393.3 V397.5 M546.25 393.3 V397.5 M564.75 393.3 V397.5 M584.2 293 V393.3 H684.7 M582.6 312.9 H584.2 M582.6 333.1 H584.2 M582.6 353.4 H584.2 M582.6 373.9 H584.2 M601.35 393.3 V397.5 M619.85 393.3 V397.5 M638.35 393.3 V397.5 M656.85 393.3 V397.5 M675.35 393.3 V397.5" fill="none" stroke="#222222" stroke-width="1.3"/>
<g font-family="Liberation Sans, sans-serif" fill="#111" stroke="#111" stroke-width="0.22">
<text x="83.65" y="8.8" font-size="11.4" text-anchor="middle">Cluster I</text>
<text x="83.05" y="24.5" font-size="10" text-anchor="middle">3,672</text>
<text x="81.75" y="154.6" font-size="10" text-anchor="middle">11</text>
<text x="81.7" y="285" font-size="10" text-anchor="middle">865</text>
<text x="48.65" y="408.1" font-size="10" text-anchor="middle">5</text>
<text x="67.85" y="408.1" font-size="10" text-anchor="middle">10</text>
<text x="86.35" y="408.1" font-size="10" text-anchor="middle">15</text>
<text x="104.85" y="408.1" font-size="10" text-anchor="middle">20</text>
<text x="127.05" y="408.1" font-size="10" text-anchor="middle">25</text>
<text x="194.5" y="8.8" font-size="11.4" text-anchor="middle">Cluster II</text>
<text x="194.25" y="24.5" font-size="10" text-anchor="middle">4,247</text>
<text x="193.7" y="154.6" font-size="10" text-anchor="middle">17</text>
<text x="194.65" y="285" font-size="10" text-anchor="middle">140</text>
<text x="158.91" y="408.1" font-size="10" text-anchor="middle">5</text>
<text x="178.11" y="408.1" font-size="10" text-anchor="middle">10</text>
<text x="196.61" y="408.1" font-size="10" text-anchor="middle">15</text>
<text x="215.11" y="408.1" font-size="10" text-anchor="middle">20</text>
<text x="233.61" y="408.1" font-size="10" text-anchor="middle">25</text>
<text x="304.6" y="8.8" font-size="11.4" text-anchor="middle">Cluster III</text>
<text x="303.8" y="24.5" font-size="10" text-anchor="middle">4,766</text>
<text x="303.75" y="154.6" font-size="10" text-anchor="middle">32</text>
<text x="304.7" y="285" font-size="10" text-anchor="middle">682</text>
<text x="269.35" y="408.1" font-size="10" text-anchor="middle">5</text>
<text x="288.55" y="408.1" font-size="10" text-anchor="middle">10</text>
<text x="307.05" y="408.1" font-size="10" text-anchor="middle">15</text>
<text x="325.55" y="408.1" font-size="10" text-anchor="middle">20</text>
<text x="344.05" y="408.1" font-size="10" text-anchor="middle">25</text>
<text x="415" y="8.8" font-size="11.4" text-anchor="middle">Cluster IV</text>
<text x="414.5" y="24.5" font-size="10" text-anchor="middle">5,717</text>
<text x="413.5" y="154.6" font-size="10" text-anchor="middle">21</text>
<text x="416.3" y="285" font-size="10" text-anchor="middle">433</text>
<text x="379.91" y="408.1" font-size="10" text-anchor="middle">5</text>
<text x="399.11" y="408.1" font-size="10" text-anchor="middle">10</text>
<text x="417.61" y="408.1" font-size="10" text-anchor="middle">15</text>
<text x="436.11" y="408.1" font-size="10" text-anchor="middle">20</text>
<text x="454.61" y="408.1" font-size="10" text-anchor="middle">25</text>
<text x="525.25" y="8.8" font-size="11.4" text-anchor="middle">Cluster V</text>
<text x="524.55" y="24.5" font-size="10" text-anchor="middle">4,664</text>
<text x="525.35" y="154.6" font-size="10" text-anchor="middle">16</text>
<text x="524.7" y="285" font-size="10" text-anchor="middle">277</text>
<text x="490.05" y="408.1" font-size="10" text-anchor="middle">5</text>
<text x="509.25" y="408.1" font-size="10" text-anchor="middle">10</text>
<text x="527.75" y="408.1" font-size="10" text-anchor="middle">15</text>
<text x="546.25" y="408.1" font-size="10" text-anchor="middle">20</text>
<text x="564.75" y="408.1" font-size="10" text-anchor="middle">25</text>
<text x="635.65" y="8.8" font-size="11.4" text-anchor="middle">Cluster VI</text>
<text x="635.7" y="24.5" font-size="10" text-anchor="middle">2,949</text>
<text x="635.8" y="154.6" font-size="10" text-anchor="middle">13</text>
<text x="636.7" y="285" font-size="10" text-anchor="middle">443</text>
<text x="600.65" y="408.1" font-size="10" text-anchor="middle">5</text>
<text x="619.85" y="408.1" font-size="10" text-anchor="middle">10</text>
<text x="638.35" y="408.1" font-size="10" text-anchor="middle">15</text>
<text x="656.85" y="408.1" font-size="10" text-anchor="middle">20</text>
<text x="675.35" y="408.1" font-size="10" text-anchor="middle">25</text>
<text x="24.05" y="48.9" font-size="10" text-anchor="end">4</text>
<text x="24.05" y="71.7" font-size="10" text-anchor="end">2</text>
<text x="24.05" y="94.5" font-size="10" text-anchor="end">0</text>
<text x="24.05" y="117.3" font-size="10" text-anchor="end">−2</text>
<text x="25.3" y="173.9" font-size="10" text-anchor="end">4</text>
<text x="25.3" y="198.4" font-size="10" text-anchor="end">2</text>
<text x="25.3" y="223.05" font-size="10" text-anchor="end">0</text>
<text x="25.3" y="247.4" font-size="10" text-anchor="end">−2</text>
<text x="25.3" y="316.5" font-size="10" text-anchor="end">4</text>
<text x="25.3" y="336.7" font-size="10" text-anchor="end">2</text>
<text x="25.3" y="357" font-size="10" text-anchor="end">0</text>
<text x="25.3" y="377.5" font-size="10" text-anchor="end">−2</text>
<text transform="translate(8.3 74) rotate(-90)" font-size="11.52" text-anchor="middle" stroke="#000" stroke-width="0.4">Gene expression</text>
<text transform="translate(8.3 198.45) rotate(-90)" font-size="11.52" text-anchor="middle" stroke="#000" stroke-width="0.4">Relative metabolite content</text>
<text transform="translate(8.3 339.9) rotate(-90)" font-size="11.52" text-anchor="middle" stroke="#000" stroke-width="0.4">Microbial ASV abundance</text>
</g>
</svg>
</body></html>
